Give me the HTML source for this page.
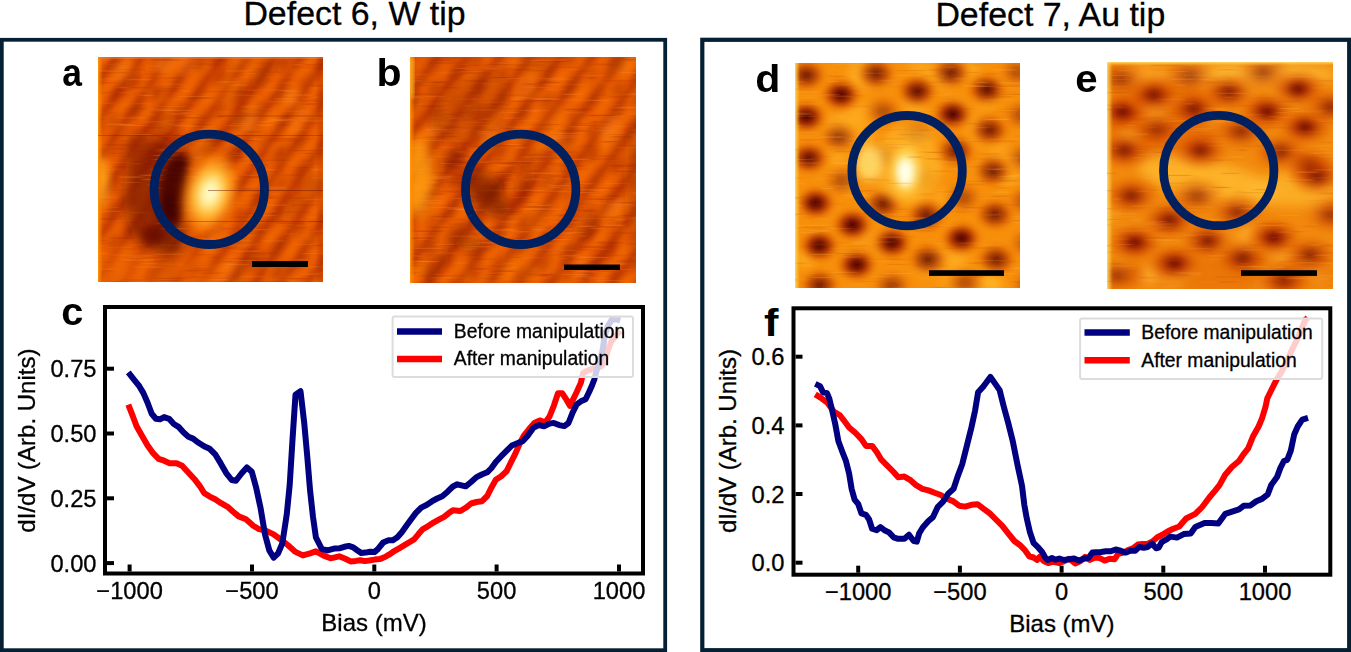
<!DOCTYPE html><html><head><meta charset="utf-8"><style>html,body{margin:0;padding:0;background:#fff;}body{width:1351px;height:652px;overflow:hidden;}svg text{font-family:"Liberation Sans",sans-serif;stroke:#000;stroke-width:0.3px;}svg text[font-weight]{stroke-width:0;}</style></head><body>
<svg width="1351" height="652" viewBox="0 0 1351 652" style="display:block">
<defs>
<filter id="bx" x="-10%" y="-10%" width="120%" height="120%"><feGaussianBlur stdDeviation="2.5 0.35"/></filter>
<filter id="b2" x="-20%" y="-20%" width="140%" height="140%"><feGaussianBlur stdDeviation="2"/></filter>
<filter id="b3" x="-30%" y="-30%" width="160%" height="160%"><feGaussianBlur stdDeviation="3"/></filter>
<filter id="b4" x="-30%" y="-30%" width="160%" height="160%"><feGaussianBlur stdDeviation="4"/></filter>
<filter id="b6" x="-30%" y="-30%" width="160%" height="160%"><feGaussianBlur stdDeviation="6"/></filter>
<filter id="b8" x="-30%" y="-30%" width="160%" height="160%"><feGaussianBlur stdDeviation="8"/></filter>
<radialGradient id="gDark"><stop offset="0" stop-color="#6e0800"/><stop offset="0.4" stop-color="#a82800" stop-opacity="0.9"/><stop offset="0.75" stop-color="#d85800" stop-opacity="0.45"/><stop offset="1" stop-color="#e87000" stop-opacity="0"/></radialGradient>
<radialGradient id="gDarkAB"><stop offset="0" stop-color="#8a1a00"/><stop offset="0.5" stop-color="#a82a00" stop-opacity="0.7"/><stop offset="1" stop-color="#c03a00" stop-opacity="0"/></radialGradient>
<radialGradient id="gLightAB"><stop offset="0" stop-color="#ff8a10"/><stop offset="0.5" stop-color="#f87008" stop-opacity="0.6"/><stop offset="1" stop-color="#f06000" stop-opacity="0"/></radialGradient>
<radialGradient id="gDark2"><stop offset="0" stop-color="#5a0800"/><stop offset="0.5" stop-color="#902000" stop-opacity="0.8"/><stop offset="1" stop-color="#c03800" stop-opacity="0"/></radialGradient>
<radialGradient id="gDarkD"><stop offset="0" stop-color="#440200"/><stop offset="0.25" stop-color="#700c00" stop-opacity="0.95"/><stop offset="0.5" stop-color="#b03000" stop-opacity="0.8"/><stop offset="0.75" stop-color="#e06000" stop-opacity="0.4"/><stop offset="1" stop-color="#f08000" stop-opacity="0"/></radialGradient>
<radialGradient id="gDarkE"><stop offset="0" stop-color="#6a0c00"/><stop offset="0.25" stop-color="#9a2000" stop-opacity="0.9"/><stop offset="0.55" stop-color="#cc4200" stop-opacity="0.6"/><stop offset="0.8" stop-color="#e06000" stop-opacity="0.3"/><stop offset="1" stop-color="#f07000" stop-opacity="0"/></radialGradient>
<radialGradient id="gBrightA"><stop offset="0" stop-color="#fffde0"/><stop offset="0.2" stop-color="#fff4a8"/><stop offset="0.45" stop-color="#ffc038"/><stop offset="0.72" stop-color="#ff8a10" stop-opacity="0.75"/><stop offset="1" stop-color="#f06000" stop-opacity="0"/></radialGradient>
<radialGradient id="gBrightD"><stop offset="0" stop-color="#fffff0"/><stop offset="0.3" stop-color="#fff4b0"/><stop offset="0.6" stop-color="#ffd850" stop-opacity="0.9"/><stop offset="1" stop-color="#ffb020" stop-opacity="0"/></radialGradient>
<linearGradient id="gLeftEdge" x1="0" x2="1" y1="0" y2="0"><stop offset="0" stop-color="#ff9a08" stop-opacity="0.95"/><stop offset="1" stop-color="#ff8000" stop-opacity="0"/></linearGradient>
<linearGradient id="gLeftEdgeY" x1="0" x2="1" y1="0" y2="0"><stop offset="0" stop-color="#ffe060" stop-opacity="0.95"/><stop offset="1" stop-color="#ffc040" stop-opacity="0"/></linearGradient>
<linearGradient id="gTopEdgeY" x1="0" x2="0" y1="0" y2="1"><stop offset="0" stop-color="#ffe070" stop-opacity="0.9"/><stop offset="1" stop-color="#ffc040" stop-opacity="0"/></linearGradient>
<linearGradient id="gStripe" x1="0" x2="1" y1="0" y2="0"><stop offset="0" stop-color="#ff8c14" stop-opacity="0.55"/><stop offset="0.22" stop-color="#f06008" stop-opacity="0.08"/><stop offset="0.5" stop-color="#801400" stop-opacity="0.7"/><stop offset="0.78" stop-color="#f06008" stop-opacity="0.08"/><stop offset="1" stop-color="#ff8c14" stop-opacity="0.55"/></linearGradient>
<pattern id="stripea" patternUnits="userSpaceOnUse" width="22" height="20" patternTransform="translate(4 0) rotate(34)"><rect width="22" height="20" fill="url(#gStripe)"/></pattern>
<pattern id="stripeb" patternUnits="userSpaceOnUse" width="25" height="20" patternTransform="translate(12 0) rotate(36)"><rect width="25" height="20" fill="url(#gStripe)"/></pattern>
</defs>
<text x="243.4" y="25" font-size="33.9" fill="#000">Defect 6, W tip</text>
<text x="935.4" y="25.6" font-size="33.9" fill="#000">Defect 7, Au tip</text>
<rect x="1.8" y="39.8" width="663.4" height="610.4" fill="none" stroke="#042032" stroke-width="3.8"/>
<rect x="702.3" y="39.8" width="646.9" height="610.4" fill="none" stroke="#042032" stroke-width="4.2"/>
<svg x="98" y="57" width="225" height="225" viewBox="0 0 225 225" overflow="hidden"><rect width="228" height="228" fill="#e85400"/><rect x="-12" y="-12" width="250" height="250" fill="url(#stripea)" filter="url(#b3)" opacity="1"/><g filter="url(#b3)"><ellipse cx="245.7" cy="53.0" rx="15.4" ry="7.6" fill="url(#gDarkAB)" opacity="0.45" transform="rotate(-52 245.7 53.0)"/><ellipse cx="256.2" cy="60.5" rx="8" ry="5" fill="url(#gLightAB)" opacity="0.32"/><ellipse cx="244.7" cy="84.2" rx="13.1" ry="9.0" fill="url(#gDarkAB)" opacity="0.48" transform="rotate(-52 244.7 84.2)"/><ellipse cx="255.2" cy="91.7" rx="8" ry="5" fill="url(#gLightAB)" opacity="0.59"/><ellipse cx="243.8" cy="141.1" rx="13.2" ry="7.8" fill="url(#gDarkAB)" opacity="0.41" transform="rotate(-52 243.8 141.1)"/><ellipse cx="254.3" cy="148.6" rx="8" ry="5" fill="url(#gLightAB)" opacity="0.30"/><ellipse cx="242.7" cy="172.9" rx="15.5" ry="8.3" fill="url(#gDarkAB)" opacity="0.38" transform="rotate(-52 242.7 172.9)"/><ellipse cx="253.2" cy="180.4" rx="8" ry="5" fill="url(#gLightAB)" opacity="0.46"/><ellipse cx="243.9" cy="203.6" rx="13.8" ry="9.0" fill="url(#gDarkAB)" opacity="0.38" transform="rotate(-52 243.9 203.6)"/><ellipse cx="254.4" cy="211.1" rx="8" ry="5" fill="url(#gLightAB)" opacity="0.60"/><ellipse cx="244.7" cy="233.8" rx="13.7" ry="7.9" fill="url(#gDarkAB)" opacity="0.33" transform="rotate(-52 244.7 233.8)"/><ellipse cx="255.2" cy="241.3" rx="8" ry="5" fill="url(#gLightAB)" opacity="0.23"/><ellipse cx="224.9" cy="4.8" rx="14.4" ry="9.0" fill="url(#gDarkAB)" opacity="0.56" transform="rotate(-52 224.9 4.8)"/><ellipse cx="235.4" cy="12.3" rx="8" ry="5" fill="url(#gLightAB)" opacity="0.36"/><ellipse cx="224.6" cy="36.5" rx="13.8" ry="7.6" fill="url(#gDarkAB)" opacity="0.51" transform="rotate(-52 224.6 36.5)"/><ellipse cx="235.1" cy="44.0" rx="8" ry="5" fill="url(#gLightAB)" opacity="0.33"/><ellipse cx="227.5" cy="67.0" rx="13.7" ry="7.7" fill="url(#gDarkAB)" opacity="0.25" transform="rotate(-52 227.5 67.0)"/><ellipse cx="238.0" cy="74.5" rx="8" ry="5" fill="url(#gLightAB)" opacity="0.22"/><ellipse cx="226.3" cy="94.7" rx="14.3" ry="7.8" fill="url(#gDarkAB)" opacity="0.42" transform="rotate(-52 226.3 94.7)"/><ellipse cx="236.8" cy="102.2" rx="8" ry="5" fill="url(#gLightAB)" opacity="0.49"/><ellipse cx="223.0" cy="126.6" rx="14.3" ry="7.8" fill="url(#gDarkAB)" opacity="0.25" transform="rotate(-52 223.0 126.6)"/><ellipse cx="233.5" cy="134.1" rx="8" ry="5" fill="url(#gLightAB)" opacity="0.31"/><ellipse cx="225.8" cy="157.2" rx="15.7" ry="7.8" fill="url(#gDarkAB)" opacity="0.32" transform="rotate(-52 225.8 157.2)"/><ellipse cx="236.3" cy="164.7" rx="8" ry="5" fill="url(#gLightAB)" opacity="0.36"/><ellipse cx="224.7" cy="186.6" rx="16.0" ry="7.8" fill="url(#gDarkAB)" opacity="0.24" transform="rotate(-52 224.7 186.6)"/><ellipse cx="235.2" cy="194.1" rx="8" ry="5" fill="url(#gLightAB)" opacity="0.30"/><ellipse cx="223.8" cy="215.3" rx="13.2" ry="7.6" fill="url(#gDarkAB)" opacity="0.32" transform="rotate(-52 223.8 215.3)"/><ellipse cx="234.3" cy="222.8" rx="8" ry="5" fill="url(#gLightAB)" opacity="0.43"/><ellipse cx="204.9" cy="-8.4" rx="15.5" ry="7.9" fill="url(#gDarkAB)" opacity="0.56" transform="rotate(-52 204.9 -8.4)"/><ellipse cx="215.4" cy="-0.9" rx="8" ry="5" fill="url(#gLightAB)" opacity="0.28"/><ellipse cx="206.5" cy="24.8" rx="15.9" ry="8.8" fill="url(#gDarkAB)" opacity="0.28" transform="rotate(-52 206.5 24.8)"/><ellipse cx="217.0" cy="32.3" rx="8" ry="5" fill="url(#gLightAB)" opacity="0.44"/><ellipse cx="204.6" cy="51.4" rx="15.9" ry="7.9" fill="url(#gDarkAB)" opacity="0.22" transform="rotate(-52 204.6 51.4)"/><ellipse cx="215.1" cy="58.9" rx="8" ry="5" fill="url(#gLightAB)" opacity="0.48"/><ellipse cx="203.4" cy="84.3" rx="13.9" ry="7.8" fill="url(#gDarkAB)" opacity="0.44" transform="rotate(-52 203.4 84.3)"/><ellipse cx="213.9" cy="91.8" rx="8" ry="5" fill="url(#gLightAB)" opacity="0.49"/><ellipse cx="202.0" cy="111.9" rx="15.6" ry="8.4" fill="url(#gDarkAB)" opacity="0.42" transform="rotate(-52 202.0 111.9)"/><ellipse cx="212.5" cy="119.4" rx="8" ry="5" fill="url(#gLightAB)" opacity="0.31"/><ellipse cx="204.8" cy="141.8" rx="13.8" ry="8.2" fill="url(#gDarkAB)" opacity="0.21" transform="rotate(-52 204.8 141.8)"/><ellipse cx="215.3" cy="149.3" rx="8" ry="5" fill="url(#gLightAB)" opacity="0.22"/><ellipse cx="201.2" cy="172.5" rx="13.4" ry="8.0" fill="url(#gDarkAB)" opacity="0.43" transform="rotate(-52 201.2 172.5)"/><ellipse cx="211.7" cy="180.0" rx="8" ry="5" fill="url(#gLightAB)" opacity="0.56"/><ellipse cx="203.9" cy="203.6" rx="14.8" ry="7.7" fill="url(#gDarkAB)" opacity="0.48" transform="rotate(-52 203.9 203.6)"/><ellipse cx="214.4" cy="211.1" rx="8" ry="5" fill="url(#gLightAB)" opacity="0.21"/><ellipse cx="199.4" cy="234.6" rx="15.9" ry="7.5" fill="url(#gDarkAB)" opacity="0.48" transform="rotate(-52 199.4 234.6)"/><ellipse cx="209.9" cy="242.1" rx="8" ry="5" fill="url(#gLightAB)" opacity="0.45"/><ellipse cx="185.8" cy="7.6" rx="15.1" ry="8.7" fill="url(#gDarkAB)" opacity="0.49" transform="rotate(-52 185.8 7.6)"/><ellipse cx="196.3" cy="15.1" rx="8" ry="5" fill="url(#gLightAB)" opacity="0.57"/><ellipse cx="183.7" cy="36.7" rx="15.6" ry="8.1" fill="url(#gDarkAB)" opacity="0.56" transform="rotate(-52 183.7 36.7)"/><ellipse cx="194.2" cy="44.2" rx="8" ry="5" fill="url(#gLightAB)" opacity="0.52"/><ellipse cx="185.1" cy="66.3" rx="14.1" ry="8.4" fill="url(#gDarkAB)" opacity="0.45" transform="rotate(-52 185.1 66.3)"/><ellipse cx="195.6" cy="73.8" rx="8" ry="5" fill="url(#gLightAB)" opacity="0.44"/><ellipse cx="181.4" cy="96.6" rx="15.6" ry="8.6" fill="url(#gDarkAB)" opacity="0.60" transform="rotate(-52 181.4 96.6)"/><ellipse cx="191.9" cy="104.1" rx="8" ry="5" fill="url(#gLightAB)" opacity="0.36"/><ellipse cx="183.4" cy="126.3" rx="15.5" ry="7.6" fill="url(#gDarkAB)" opacity="0.38" transform="rotate(-52 183.4 126.3)"/><ellipse cx="193.9" cy="133.8" rx="8" ry="5" fill="url(#gLightAB)" opacity="0.50"/><ellipse cx="180.0" cy="156.4" rx="13.7" ry="8.5" fill="url(#gDarkAB)" opacity="0.39" transform="rotate(-52 180.0 156.4)"/><ellipse cx="190.5" cy="163.9" rx="8" ry="5" fill="url(#gLightAB)" opacity="0.40"/><ellipse cx="181.7" cy="187.7" rx="13.0" ry="8.0" fill="url(#gDarkAB)" opacity="0.30" transform="rotate(-52 181.7 187.7)"/><ellipse cx="192.2" cy="195.2" rx="8" ry="5" fill="url(#gLightAB)" opacity="0.47"/><ellipse cx="179.5" cy="214.7" rx="15.0" ry="8.2" fill="url(#gDarkAB)" opacity="0.56" transform="rotate(-52 179.5 214.7)"/><ellipse cx="190.0" cy="222.2" rx="8" ry="5" fill="url(#gLightAB)" opacity="0.56"/><ellipse cx="164.5" cy="-7.7" rx="14.5" ry="8.8" fill="url(#gDarkAB)" opacity="0.25" transform="rotate(-52 164.5 -7.7)"/><ellipse cx="175.0" cy="-0.2" rx="8" ry="5" fill="url(#gLightAB)" opacity="0.54"/><ellipse cx="164.4" cy="24.8" rx="13.5" ry="8.2" fill="url(#gDarkAB)" opacity="0.31" transform="rotate(-52 164.4 24.8)"/><ellipse cx="174.9" cy="32.3" rx="8" ry="5" fill="url(#gLightAB)" opacity="0.31"/><ellipse cx="161.8" cy="52.7" rx="14.5" ry="8.0" fill="url(#gDarkAB)" opacity="0.45" transform="rotate(-52 161.8 52.7)"/><ellipse cx="172.3" cy="60.2" rx="8" ry="5" fill="url(#gLightAB)" opacity="0.54"/><ellipse cx="164.3" cy="82.8" rx="13.1" ry="8.8" fill="url(#gDarkAB)" opacity="0.23" transform="rotate(-52 164.3 82.8)"/><ellipse cx="174.8" cy="90.3" rx="8" ry="5" fill="url(#gLightAB)" opacity="0.22"/><ellipse cx="162.6" cy="113.3" rx="15.4" ry="7.5" fill="url(#gDarkAB)" opacity="0.32" transform="rotate(-52 162.6 113.3)"/><ellipse cx="173.1" cy="120.8" rx="8" ry="5" fill="url(#gLightAB)" opacity="0.25"/><ellipse cx="161.0" cy="141.1" rx="13.7" ry="7.7" fill="url(#gDarkAB)" opacity="0.53" transform="rotate(-52 161.0 141.1)"/><ellipse cx="171.5" cy="148.6" rx="8" ry="5" fill="url(#gLightAB)" opacity="0.22"/><ellipse cx="161.1" cy="172.8" rx="15.0" ry="8.7" fill="url(#gDarkAB)" opacity="0.45" transform="rotate(-52 161.1 172.8)"/><ellipse cx="171.6" cy="180.3" rx="8" ry="5" fill="url(#gLightAB)" opacity="0.58"/><ellipse cx="160.7" cy="201.8" rx="13.5" ry="7.5" fill="url(#gDarkAB)" opacity="0.39" transform="rotate(-52 160.7 201.8)"/><ellipse cx="171.2" cy="209.3" rx="8" ry="5" fill="url(#gLightAB)" opacity="0.39"/><ellipse cx="160.2" cy="231.7" rx="14.0" ry="8.5" fill="url(#gDarkAB)" opacity="0.31" transform="rotate(-52 160.2 231.7)"/><ellipse cx="170.7" cy="239.2" rx="8" ry="5" fill="url(#gLightAB)" opacity="0.41"/><ellipse cx="144.6" cy="6.9" rx="14.4" ry="8.4" fill="url(#gDarkAB)" opacity="0.25" transform="rotate(-52 144.6 6.9)"/><ellipse cx="155.1" cy="14.4" rx="8" ry="5" fill="url(#gLightAB)" opacity="0.56"/><ellipse cx="141.8" cy="36.3" rx="15.4" ry="8.9" fill="url(#gDarkAB)" opacity="0.55" transform="rotate(-52 141.8 36.3)"/><ellipse cx="152.3" cy="43.8" rx="8" ry="5" fill="url(#gLightAB)" opacity="0.39"/><ellipse cx="142.3" cy="64.8" rx="15.5" ry="8.5" fill="url(#gDarkAB)" opacity="0.49" transform="rotate(-52 142.3 64.8)"/><ellipse cx="152.8" cy="72.3" rx="8" ry="5" fill="url(#gLightAB)" opacity="0.49"/><ellipse cx="139.9" cy="97.6" rx="15.9" ry="8.3" fill="url(#gDarkAB)" opacity="0.59" transform="rotate(-52 139.9 97.6)"/><ellipse cx="150.4" cy="105.1" rx="8" ry="5" fill="url(#gLightAB)" opacity="0.52"/><ellipse cx="139.8" cy="127.6" rx="14.0" ry="7.6" fill="url(#gDarkAB)" opacity="0.54" transform="rotate(-52 139.8 127.6)"/><ellipse cx="150.3" cy="135.1" rx="8" ry="5" fill="url(#gLightAB)" opacity="0.38"/><ellipse cx="140.1" cy="157.1" rx="13.1" ry="8.7" fill="url(#gDarkAB)" opacity="0.39" transform="rotate(-52 140.1 157.1)"/><ellipse cx="150.6" cy="164.6" rx="8" ry="5" fill="url(#gLightAB)" opacity="0.23"/><ellipse cx="140.5" cy="184.7" rx="15.4" ry="7.7" fill="url(#gDarkAB)" opacity="0.33" transform="rotate(-52 140.5 184.7)"/><ellipse cx="151.0" cy="192.2" rx="8" ry="5" fill="url(#gLightAB)" opacity="0.26"/><ellipse cx="138.7" cy="216.9" rx="15.1" ry="8.9" fill="url(#gDarkAB)" opacity="0.54" transform="rotate(-52 138.7 216.9)"/><ellipse cx="149.2" cy="224.4" rx="8" ry="5" fill="url(#gLightAB)" opacity="0.40"/><ellipse cx="139.9" cy="244.3" rx="14.6" ry="7.9" fill="url(#gDarkAB)" opacity="0.29" transform="rotate(-52 139.9 244.3)"/><ellipse cx="150.4" cy="251.8" rx="8" ry="5" fill="url(#gLightAB)" opacity="0.49"/><ellipse cx="123.5" cy="-5.4" rx="15.6" ry="9.0" fill="url(#gDarkAB)" opacity="0.28" transform="rotate(-52 123.5 -5.4)"/><ellipse cx="134.0" cy="2.1" rx="8" ry="5" fill="url(#gLightAB)" opacity="0.41"/><ellipse cx="121.8" cy="21.8" rx="14.5" ry="8.4" fill="url(#gDarkAB)" opacity="0.41" transform="rotate(-52 121.8 21.8)"/><ellipse cx="132.3" cy="29.3" rx="8" ry="5" fill="url(#gLightAB)" opacity="0.21"/><ellipse cx="122.8" cy="53.1" rx="15.4" ry="8.3" fill="url(#gDarkAB)" opacity="0.36" transform="rotate(-52 122.8 53.1)"/><ellipse cx="133.3" cy="60.6" rx="8" ry="5" fill="url(#gLightAB)" opacity="0.40"/><ellipse cx="121.1" cy="81.3" rx="14.2" ry="8.9" fill="url(#gDarkAB)" opacity="0.42" transform="rotate(-52 121.1 81.3)"/><ellipse cx="131.6" cy="88.8" rx="8" ry="5" fill="url(#gLightAB)" opacity="0.57"/><ellipse cx="118.8" cy="112.9" rx="14.3" ry="8.7" fill="url(#gDarkAB)" opacity="0.25" transform="rotate(-52 118.8 112.9)"/><ellipse cx="129.3" cy="120.4" rx="8" ry="5" fill="url(#gLightAB)" opacity="0.56"/><ellipse cx="119.0" cy="142.3" rx="14.9" ry="8.9" fill="url(#gDarkAB)" opacity="0.28" transform="rotate(-52 119.0 142.3)"/><ellipse cx="129.5" cy="149.8" rx="8" ry="5" fill="url(#gLightAB)" opacity="0.25"/><ellipse cx="119.7" cy="171.1" rx="13.7" ry="8.5" fill="url(#gDarkAB)" opacity="0.28" transform="rotate(-52 119.7 171.1)"/><ellipse cx="130.2" cy="178.6" rx="8" ry="5" fill="url(#gLightAB)" opacity="0.33"/><ellipse cx="117.4" cy="203.5" rx="15.2" ry="7.7" fill="url(#gDarkAB)" opacity="0.24" transform="rotate(-52 117.4 203.5)"/><ellipse cx="127.9" cy="211.0" rx="8" ry="5" fill="url(#gLightAB)" opacity="0.40"/><ellipse cx="116.3" cy="231.8" rx="14.3" ry="8.1" fill="url(#gDarkAB)" opacity="0.41" transform="rotate(-52 116.3 231.8)"/><ellipse cx="126.8" cy="239.3" rx="8" ry="5" fill="url(#gLightAB)" opacity="0.37"/><ellipse cx="102.3" cy="6.4" rx="13.7" ry="8.6" fill="url(#gDarkAB)" opacity="0.54" transform="rotate(-52 102.3 6.4)"/><ellipse cx="112.8" cy="13.9" rx="8" ry="5" fill="url(#gLightAB)" opacity="0.52"/><ellipse cx="101.9" cy="35.3" rx="15.8" ry="7.8" fill="url(#gDarkAB)" opacity="0.33" transform="rotate(-52 101.9 35.3)"/><ellipse cx="112.4" cy="42.8" rx="8" ry="5" fill="url(#gLightAB)" opacity="0.60"/><ellipse cx="101.2" cy="64.5" rx="15.2" ry="7.9" fill="url(#gDarkAB)" opacity="0.30" transform="rotate(-52 101.2 64.5)"/><ellipse cx="111.7" cy="72.0" rx="8" ry="5" fill="url(#gLightAB)" opacity="0.24"/><ellipse cx="100.4" cy="95.7" rx="13.4" ry="8.1" fill="url(#gDarkAB)" opacity="0.52" transform="rotate(-52 100.4 95.7)"/><ellipse cx="110.9" cy="103.2" rx="8" ry="5" fill="url(#gLightAB)" opacity="0.47"/><ellipse cx="96.6" cy="124.8" rx="15.7" ry="9.0" fill="url(#gDarkAB)" opacity="0.47" transform="rotate(-52 96.6 124.8)"/><ellipse cx="107.1" cy="132.3" rx="8" ry="5" fill="url(#gLightAB)" opacity="0.25"/><ellipse cx="97.9" cy="157.0" rx="15.1" ry="7.8" fill="url(#gDarkAB)" opacity="0.40" transform="rotate(-52 97.9 157.0)"/><ellipse cx="108.4" cy="164.5" rx="8" ry="5" fill="url(#gLightAB)" opacity="0.23"/><ellipse cx="95.7" cy="184.1" rx="14.5" ry="8.4" fill="url(#gDarkAB)" opacity="0.42" transform="rotate(-52 95.7 184.1)"/><ellipse cx="106.2" cy="191.6" rx="8" ry="5" fill="url(#gLightAB)" opacity="0.26"/><ellipse cx="95.4" cy="214.8" rx="16.0" ry="8.9" fill="url(#gDarkAB)" opacity="0.54" transform="rotate(-52 95.4 214.8)"/><ellipse cx="105.9" cy="222.3" rx="8" ry="5" fill="url(#gLightAB)" opacity="0.24"/><ellipse cx="80.5" cy="-8.9" rx="15.5" ry="7.8" fill="url(#gDarkAB)" opacity="0.48" transform="rotate(-52 80.5 -8.9)"/><ellipse cx="91.0" cy="-1.4" rx="8" ry="5" fill="url(#gLightAB)" opacity="0.38"/><ellipse cx="80.5" cy="22.6" rx="13.5" ry="8.3" fill="url(#gDarkAB)" opacity="0.28" transform="rotate(-52 80.5 22.6)"/><ellipse cx="91.0" cy="30.1" rx="8" ry="5" fill="url(#gLightAB)" opacity="0.21"/><ellipse cx="80.5" cy="54.2" rx="15.6" ry="8.4" fill="url(#gDarkAB)" opacity="0.48" transform="rotate(-52 80.5 54.2)"/><ellipse cx="91.0" cy="61.7" rx="8" ry="5" fill="url(#gLightAB)" opacity="0.36"/><ellipse cx="78.7" cy="83.0" rx="15.4" ry="7.9" fill="url(#gDarkAB)" opacity="0.59" transform="rotate(-52 78.7 83.0)"/><ellipse cx="89.2" cy="90.5" rx="8" ry="5" fill="url(#gLightAB)" opacity="0.56"/><ellipse cx="78.7" cy="114.1" rx="14.2" ry="8.8" fill="url(#gDarkAB)" opacity="0.53" transform="rotate(-52 78.7 114.1)"/><ellipse cx="89.2" cy="121.6" rx="8" ry="5" fill="url(#gLightAB)" opacity="0.55"/><ellipse cx="77.9" cy="144.1" rx="14.2" ry="8.6" fill="url(#gDarkAB)" opacity="0.51" transform="rotate(-52 77.9 144.1)"/><ellipse cx="88.4" cy="151.6" rx="8" ry="5" fill="url(#gLightAB)" opacity="0.23"/><ellipse cx="75.9" cy="172.9" rx="14.1" ry="8.5" fill="url(#gDarkAB)" opacity="0.20" transform="rotate(-52 75.9 172.9)"/><ellipse cx="86.4" cy="180.4" rx="8" ry="5" fill="url(#gLightAB)" opacity="0.45"/><ellipse cx="74.9" cy="204.8" rx="14.0" ry="8.5" fill="url(#gDarkAB)" opacity="0.47" transform="rotate(-52 74.9 204.8)"/><ellipse cx="85.4" cy="212.3" rx="8" ry="5" fill="url(#gLightAB)" opacity="0.43"/><ellipse cx="75.5" cy="232.6" rx="14.9" ry="8.6" fill="url(#gDarkAB)" opacity="0.60" transform="rotate(-52 75.5 232.6)"/><ellipse cx="86.0" cy="240.1" rx="8" ry="5" fill="url(#gLightAB)" opacity="0.50"/><ellipse cx="57.1" cy="4.8" rx="13.3" ry="7.9" fill="url(#gDarkAB)" opacity="0.35" transform="rotate(-52 57.1 4.8)"/><ellipse cx="67.6" cy="12.3" rx="8" ry="5" fill="url(#gLightAB)" opacity="0.56"/><ellipse cx="58.5" cy="36.0" rx="14.7" ry="9.0" fill="url(#gDarkAB)" opacity="0.59" transform="rotate(-52 58.5 36.0)"/><ellipse cx="69.0" cy="43.5" rx="8" ry="5" fill="url(#gLightAB)" opacity="0.46"/><ellipse cx="58.9" cy="64.3" rx="15.3" ry="7.6" fill="url(#gDarkAB)" opacity="0.44" transform="rotate(-52 58.9 64.3)"/><ellipse cx="69.4" cy="71.8" rx="8" ry="5" fill="url(#gLightAB)" opacity="0.57"/><ellipse cx="55.7" cy="95.9" rx="14.5" ry="8.4" fill="url(#gDarkAB)" opacity="0.27" transform="rotate(-52 55.7 95.9)"/><ellipse cx="66.2" cy="103.4" rx="8" ry="5" fill="url(#gLightAB)" opacity="0.22"/><ellipse cx="58.3" cy="125.7" rx="14.8" ry="8.0" fill="url(#gDarkAB)" opacity="0.41" transform="rotate(-52 58.3 125.7)"/><ellipse cx="68.8" cy="133.2" rx="8" ry="5" fill="url(#gLightAB)" opacity="0.31"/><ellipse cx="56.5" cy="156.2" rx="15.1" ry="7.9" fill="url(#gDarkAB)" opacity="0.31" transform="rotate(-52 56.5 156.2)"/><ellipse cx="67.0" cy="163.7" rx="8" ry="5" fill="url(#gLightAB)" opacity="0.21"/><ellipse cx="54.3" cy="184.2" rx="15.3" ry="8.1" fill="url(#gDarkAB)" opacity="0.26" transform="rotate(-52 54.3 184.2)"/><ellipse cx="64.8" cy="191.7" rx="8" ry="5" fill="url(#gLightAB)" opacity="0.56"/><ellipse cx="55.7" cy="214.2" rx="15.8" ry="7.6" fill="url(#gDarkAB)" opacity="0.60" transform="rotate(-52 55.7 214.2)"/><ellipse cx="66.2" cy="221.7" rx="8" ry="5" fill="url(#gLightAB)" opacity="0.56"/><ellipse cx="53.8" cy="245.9" rx="13.7" ry="8.3" fill="url(#gDarkAB)" opacity="0.59" transform="rotate(-52 53.8 245.9)"/><ellipse cx="64.3" cy="253.4" rx="8" ry="5" fill="url(#gLightAB)" opacity="0.57"/><ellipse cx="38.6" cy="-7.2" rx="13.2" ry="8.3" fill="url(#gDarkAB)" opacity="0.28" transform="rotate(-52 38.6 -7.2)"/><ellipse cx="49.1" cy="0.3" rx="8" ry="5" fill="url(#gLightAB)" opacity="0.25"/><ellipse cx="37.3" cy="23.7" rx="13.8" ry="8.4" fill="url(#gDarkAB)" opacity="0.38" transform="rotate(-52 37.3 23.7)"/><ellipse cx="47.8" cy="31.2" rx="8" ry="5" fill="url(#gLightAB)" opacity="0.37"/><ellipse cx="38.1" cy="53.1" rx="15.9" ry="8.6" fill="url(#gDarkAB)" opacity="0.60" transform="rotate(-52 38.1 53.1)"/><ellipse cx="48.6" cy="60.6" rx="8" ry="5" fill="url(#gLightAB)" opacity="0.30"/><ellipse cx="34.8" cy="84.6" rx="14.9" ry="8.0" fill="url(#gDarkAB)" opacity="0.51" transform="rotate(-52 34.8 84.6)"/><ellipse cx="45.3" cy="92.1" rx="8" ry="5" fill="url(#gLightAB)" opacity="0.31"/><ellipse cx="36.5" cy="113.3" rx="14.9" ry="8.6" fill="url(#gDarkAB)" opacity="0.44" transform="rotate(-52 36.5 113.3)"/><ellipse cx="47.0" cy="120.8" rx="8" ry="5" fill="url(#gLightAB)" opacity="0.28"/><ellipse cx="34.1" cy="144.9" rx="15.6" ry="7.6" fill="url(#gDarkAB)" opacity="0.57" transform="rotate(-52 34.1 144.9)"/><ellipse cx="44.6" cy="152.4" rx="8" ry="5" fill="url(#gLightAB)" opacity="0.22"/><ellipse cx="33.6" cy="172.7" rx="13.3" ry="8.3" fill="url(#gDarkAB)" opacity="0.45" transform="rotate(-52 33.6 172.7)"/><ellipse cx="44.1" cy="180.2" rx="8" ry="5" fill="url(#gLightAB)" opacity="0.23"/><ellipse cx="32.3" cy="203.7" rx="14.9" ry="8.1" fill="url(#gDarkAB)" opacity="0.42" transform="rotate(-52 32.3 203.7)"/><ellipse cx="42.8" cy="211.2" rx="8" ry="5" fill="url(#gLightAB)" opacity="0.39"/><ellipse cx="32.2" cy="232.4" rx="15.5" ry="7.6" fill="url(#gDarkAB)" opacity="0.50" transform="rotate(-52 32.2 232.4)"/><ellipse cx="42.7" cy="239.9" rx="8" ry="5" fill="url(#gLightAB)" opacity="0.25"/><ellipse cx="18.1" cy="5.5" rx="16.0" ry="8.0" fill="url(#gDarkAB)" opacity="0.46" transform="rotate(-52 18.1 5.5)"/><ellipse cx="28.6" cy="13.0" rx="8" ry="5" fill="url(#gLightAB)" opacity="0.42"/><ellipse cx="17.3" cy="37.7" rx="14.1" ry="7.6" fill="url(#gDarkAB)" opacity="0.37" transform="rotate(-52 17.3 37.7)"/><ellipse cx="27.8" cy="45.2" rx="8" ry="5" fill="url(#gLightAB)" opacity="0.55"/><ellipse cx="14.0" cy="64.3" rx="14.5" ry="8.5" fill="url(#gDarkAB)" opacity="0.43" transform="rotate(-52 14.0 64.3)"/><ellipse cx="24.5" cy="71.8" rx="8" ry="5" fill="url(#gLightAB)" opacity="0.32"/><ellipse cx="16.2" cy="94.3" rx="15.0" ry="7.6" fill="url(#gDarkAB)" opacity="0.29" transform="rotate(-52 16.2 94.3)"/><ellipse cx="26.7" cy="101.8" rx="8" ry="5" fill="url(#gLightAB)" opacity="0.32"/><ellipse cx="15.4" cy="126.8" rx="13.4" ry="8.0" fill="url(#gDarkAB)" opacity="0.31" transform="rotate(-52 15.4 126.8)"/><ellipse cx="25.9" cy="134.3" rx="8" ry="5" fill="url(#gLightAB)" opacity="0.49"/><ellipse cx="13.3" cy="154.5" rx="14.7" ry="8.9" fill="url(#gDarkAB)" opacity="0.48" transform="rotate(-52 13.3 154.5)"/><ellipse cx="23.8" cy="162.0" rx="8" ry="5" fill="url(#gLightAB)" opacity="0.58"/><ellipse cx="14.9" cy="185.8" rx="13.9" ry="8.0" fill="url(#gDarkAB)" opacity="0.52" transform="rotate(-52 14.9 185.8)"/><ellipse cx="25.4" cy="193.3" rx="8" ry="5" fill="url(#gLightAB)" opacity="0.36"/><ellipse cx="14.4" cy="217.6" rx="14.1" ry="8.0" fill="url(#gDarkAB)" opacity="0.30" transform="rotate(-52 14.4 217.6)"/><ellipse cx="24.9" cy="225.1" rx="8" ry="5" fill="url(#gLightAB)" opacity="0.35"/><ellipse cx="11.7" cy="245.6" rx="14.7" ry="8.7" fill="url(#gDarkAB)" opacity="0.28" transform="rotate(-52 11.7 245.6)"/><ellipse cx="22.2" cy="253.1" rx="8" ry="5" fill="url(#gLightAB)" opacity="0.42"/><ellipse cx="-5.8" cy="-6.9" rx="14.7" ry="8.9" fill="url(#gDarkAB)" opacity="0.42" transform="rotate(-52 -5.8 -6.9)"/><ellipse cx="4.7" cy="0.6" rx="8" ry="5" fill="url(#gLightAB)" opacity="0.46"/><ellipse cx="-3.2" cy="21.3" rx="15.4" ry="7.6" fill="url(#gDarkAB)" opacity="0.42" transform="rotate(-52 -3.2 21.3)"/><ellipse cx="7.3" cy="28.8" rx="8" ry="5" fill="url(#gLightAB)" opacity="0.23"/><ellipse cx="-4.1" cy="54.6" rx="14.9" ry="7.7" fill="url(#gDarkAB)" opacity="0.23" transform="rotate(-52 -4.1 54.6)"/><ellipse cx="6.4" cy="62.1" rx="8" ry="5" fill="url(#gLightAB)" opacity="0.50"/><ellipse cx="-5.1" cy="82.0" rx="15.3" ry="8.3" fill="url(#gDarkAB)" opacity="0.29" transform="rotate(-52 -5.1 82.0)"/><ellipse cx="5.4" cy="89.5" rx="8" ry="5" fill="url(#gLightAB)" opacity="0.51"/><ellipse cx="-6.7" cy="112.4" rx="15.0" ry="8.2" fill="url(#gDarkAB)" opacity="0.59" transform="rotate(-52 -6.7 112.4)"/><ellipse cx="3.8" cy="119.9" rx="8" ry="5" fill="url(#gLightAB)" opacity="0.41"/><ellipse cx="-6.0" cy="143.8" rx="14.2" ry="8.7" fill="url(#gDarkAB)" opacity="0.57" transform="rotate(-52 -6.0 143.8)"/><ellipse cx="4.5" cy="151.3" rx="8" ry="5" fill="url(#gLightAB)" opacity="0.47"/><ellipse cx="-6.0" cy="174.2" rx="15.7" ry="8.9" fill="url(#gDarkAB)" opacity="0.53" transform="rotate(-52 -6.0 174.2)"/><ellipse cx="4.5" cy="181.7" rx="8" ry="5" fill="url(#gLightAB)" opacity="0.46"/><ellipse cx="-8.0" cy="203.8" rx="14.3" ry="8.1" fill="url(#gDarkAB)" opacity="0.52" transform="rotate(-52 -8.0 203.8)"/><ellipse cx="2.5" cy="211.3" rx="8" ry="5" fill="url(#gLightAB)" opacity="0.26"/><ellipse cx="-7.7" cy="235.0" rx="13.5" ry="7.8" fill="url(#gDarkAB)" opacity="0.35" transform="rotate(-52 -7.7 235.0)"/><ellipse cx="2.8" cy="242.5" rx="8" ry="5" fill="url(#gLightAB)" opacity="0.37"/></g><g filter="url(#b4)"><ellipse cx="28.7" cy="28.6" rx="18.7" ry="8.1" fill="#8a1800" opacity="0.21" transform="rotate(-52 28.7 28.6)"/><ellipse cx="146.7" cy="234.3" rx="11.5" ry="9.1" fill="#8a1800" opacity="0.28" transform="rotate(-52 146.7 234.3)"/><ellipse cx="-9.7" cy="192.1" rx="10.8" ry="7.1" fill="#ff8a14" opacity="0.40" transform="rotate(-52 -9.7 192.1)"/><ellipse cx="166.3" cy="13.9" rx="19.6" ry="8.3" fill="#8a1800" opacity="0.27" transform="rotate(-52 166.3 13.9)"/><ellipse cx="200.9" cy="64.7" rx="19.2" ry="6.4" fill="#ff8a14" opacity="0.28" transform="rotate(-52 200.9 64.7)"/><ellipse cx="193.3" cy="41.3" rx="11.6" ry="9.3" fill="#ff8a14" opacity="0.31" transform="rotate(-52 193.3 41.3)"/><ellipse cx="66.6" cy="66.4" rx="14.7" ry="8.9" fill="#8a1800" opacity="0.23" transform="rotate(-52 66.6 66.4)"/><ellipse cx="78.5" cy="159.0" rx="14.6" ry="9.9" fill="#8a1800" opacity="0.25" transform="rotate(-52 78.5 159.0)"/><ellipse cx="194.1" cy="150.9" rx="17.1" ry="6.9" fill="#8a1800" opacity="0.24" transform="rotate(-52 194.1 150.9)"/><ellipse cx="128.8" cy="102.7" rx="18.0" ry="6.8" fill="#8a1800" opacity="0.40" transform="rotate(-52 128.8 102.7)"/><ellipse cx="141.6" cy="61.4" rx="13.0" ry="7.3" fill="#8a1800" opacity="0.28" transform="rotate(-52 141.6 61.4)"/><ellipse cx="86.5" cy="154.0" rx="17.3" ry="7.3" fill="#8a1800" opacity="0.20" transform="rotate(-52 86.5 154.0)"/><ellipse cx="222.5" cy="128.5" rx="18.3" ry="6.4" fill="#ff8a14" opacity="0.25" transform="rotate(-52 222.5 128.5)"/><ellipse cx="24.6" cy="13.2" rx="11.8" ry="7.6" fill="#ff8a14" opacity="0.36" transform="rotate(-52 24.6 13.2)"/><ellipse cx="195.9" cy="135.8" rx="11.6" ry="6.5" fill="#8a1800" opacity="0.21" transform="rotate(-52 195.9 135.8)"/><ellipse cx="90.1" cy="7.9" rx="15.1" ry="8.6" fill="#ff8a14" opacity="0.28" transform="rotate(-52 90.1 7.9)"/><ellipse cx="178.6" cy="192.0" rx="14.1" ry="6.1" fill="#8a1800" opacity="0.23" transform="rotate(-52 178.6 192.0)"/><ellipse cx="88.6" cy="162.2" rx="16.6" ry="8.4" fill="#ff8a14" opacity="0.39" transform="rotate(-52 88.6 162.2)"/><ellipse cx="-5.4" cy="71.4" rx="11.1" ry="7.5" fill="#8a1800" opacity="0.31" transform="rotate(-52 -5.4 71.4)"/><ellipse cx="115.3" cy="184.0" rx="11.6" ry="9.1" fill="#ff8a14" opacity="0.33" transform="rotate(-52 115.3 184.0)"/><ellipse cx="212.1" cy="124.9" rx="11.4" ry="8.9" fill="#8a1800" opacity="0.28" transform="rotate(-52 212.1 124.9)"/><ellipse cx="232.7" cy="116.9" rx="12.0" ry="9.8" fill="#ff8a14" opacity="0.40" transform="rotate(-52 232.7 116.9)"/><ellipse cx="144.3" cy="38.7" rx="15.8" ry="8.8" fill="#8a1800" opacity="0.21" transform="rotate(-52 144.3 38.7)"/><ellipse cx="71.0" cy="218.5" rx="11.2" ry="9.9" fill="#8a1800" opacity="0.27" transform="rotate(-52 71.0 218.5)"/><ellipse cx="23.4" cy="212.4" rx="15.6" ry="7.1" fill="#ff8a14" opacity="0.32" transform="rotate(-52 23.4 212.4)"/><ellipse cx="213.7" cy="234.1" rx="11.2" ry="9.3" fill="#ff8a14" opacity="0.33" transform="rotate(-52 213.7 234.1)"/><ellipse cx="61.0" cy="210.7" rx="18.3" ry="6.7" fill="#8a1800" opacity="0.29" transform="rotate(-52 61.0 210.7)"/><ellipse cx="124.8" cy="8.8" rx="19.9" ry="9.8" fill="#8a1800" opacity="0.20" transform="rotate(-52 124.8 8.8)"/><ellipse cx="152.0" cy="65.7" rx="13.8" ry="8.4" fill="#ff8a14" opacity="0.37" transform="rotate(-52 152.0 65.7)"/><ellipse cx="187.7" cy="-6.0" rx="11.4" ry="7.5" fill="#8a1800" opacity="0.27" transform="rotate(-52 187.7 -6.0)"/><ellipse cx="130.1" cy="32.7" rx="15.7" ry="7.3" fill="#ff8a14" opacity="0.23" transform="rotate(-52 130.1 32.7)"/><ellipse cx="147.9" cy="-0.7" rx="19.6" ry="8.4" fill="#ff8a14" opacity="0.19" transform="rotate(-52 147.9 -0.7)"/><ellipse cx="105.6" cy="91.2" rx="17.6" ry="9.0" fill="#ff8a14" opacity="0.36" transform="rotate(-52 105.6 91.2)"/><ellipse cx="109.5" cy="234.7" rx="14.1" ry="7.7" fill="#ff8a14" opacity="0.41" transform="rotate(-52 109.5 234.7)"/><ellipse cx="129.2" cy="212.7" rx="14.3" ry="9.6" fill="#ff8a14" opacity="0.31" transform="rotate(-52 129.2 212.7)"/><ellipse cx="68.9" cy="3.5" rx="17.3" ry="8.4" fill="#ff8a14" opacity="0.42" transform="rotate(-52 68.9 3.5)"/><ellipse cx="175.0" cy="65.0" rx="11.2" ry="7.8" fill="#ff8a14" opacity="0.17" transform="rotate(-52 175.0 65.0)"/><ellipse cx="113.6" cy="87.6" rx="15.3" ry="7.0" fill="#8a1800" opacity="0.32" transform="rotate(-52 113.6 87.6)"/><ellipse cx="65.3" cy="87.3" rx="19.1" ry="9.9" fill="#8a1800" opacity="0.17" transform="rotate(-52 65.3 87.3)"/><ellipse cx="153.8" cy="203.2" rx="12.2" ry="9.0" fill="#8a1800" opacity="0.35" transform="rotate(-52 153.8 203.2)"/></g><g filter="url(#b8)"><ellipse cx="58" cy="138" rx="32" ry="58" fill="#701200" opacity="0.65"/><ellipse cx="40" cy="92" rx="16" ry="20" fill="#801800" opacity="0.35"/></g><ellipse cx="50" cy="218" rx="75" ry="30" fill="#ec6204" opacity="0.55" filter="url(#b8)"/><ellipse cx="68" cy="184" rx="20" ry="13" fill="#5a0800" opacity="0.55" filter="url(#b6)" transform="rotate(25 68 184)"/><g filter="url(#bx)"><rect x="161.7" y="140.2" width="25.1" height="1.4" fill="#a02800" opacity="0.30"/><rect x="94.1" y="6.5" width="28.6" height="1.5" fill="#a02800" opacity="0.15"/><rect x="40.4" y="105.5" width="19.1" height="0.8" fill="#a02800" opacity="0.17"/><rect x="204.5" y="62.9" width="24.4" height="1.4" fill="#ff9030" opacity="0.16"/><rect x="11.0" y="138.9" width="6.0" height="1.0" fill="#a02800" opacity="0.17"/><rect x="193.7" y="221.0" width="12.9" height="1.2" fill="#a02800" opacity="0.25"/><rect x="210.5" y="46.1" width="22.6" height="1.5" fill="#a02800" opacity="0.18"/><rect x="20.7" y="81.3" width="9.5" height="1.0" fill="#ff9030" opacity="0.24"/><rect x="146.1" y="0.8" width="14.1" height="1.5" fill="#ff9030" opacity="0.22"/><rect x="97.9" y="71.1" width="22.9" height="1.6" fill="#ff9030" opacity="0.13"/><rect x="187.0" y="168.7" width="6.4" height="1.1" fill="#a02800" opacity="0.24"/><rect x="-8.6" y="2.0" width="10.3" height="1.0" fill="#a02800" opacity="0.27"/><rect x="210.8" y="209.2" width="14.3" height="1.2" fill="#ff9030" opacity="0.27"/><rect x="163.4" y="24.3" width="25.1" height="0.8" fill="#a02800" opacity="0.30"/><rect x="63.5" y="20.5" width="20.7" height="1.1" fill="#a02800" opacity="0.30"/><rect x="56.6" y="122.7" width="13.6" height="0.9" fill="#ff9030" opacity="0.16"/><rect x="224.2" y="155.1" width="9.9" height="1.6" fill="#ff9030" opacity="0.23"/><rect x="38.1" y="91.3" width="20.3" height="1.2" fill="#a02800" opacity="0.21"/><rect x="204.4" y="12.5" width="6.8" height="1.5" fill="#ff9030" opacity="0.15"/><rect x="212.7" y="164.6" width="21.1" height="0.9" fill="#a02800" opacity="0.21"/><rect x="187.0" y="33.6" width="13.1" height="1.6" fill="#ff9030" opacity="0.29"/><rect x="91.1" y="219.6" width="17.7" height="1.2" fill="#a02800" opacity="0.18"/><rect x="15.9" y="90.9" width="15.0" height="1.6" fill="#a02800" opacity="0.24"/><rect x="62.9" y="112.3" width="8.1" height="1.4" fill="#ff9030" opacity="0.29"/><rect x="172.6" y="81.3" width="24.6" height="1.3" fill="#a02800" opacity="0.27"/><rect x="152.6" y="81.8" width="12.7" height="1.4" fill="#ff9030" opacity="0.26"/><rect x="211.7" y="66.1" width="21.6" height="0.8" fill="#a02800" opacity="0.23"/><rect x="144.6" y="56.4" width="17.1" height="1.3" fill="#a02800" opacity="0.28"/><rect x="137.8" y="78.3" width="23.7" height="1.1" fill="#a02800" opacity="0.28"/><rect x="148.6" y="195.7" width="29.4" height="1.2" fill="#a02800" opacity="0.23"/><rect x="185.0" y="37.4" width="28.5" height="1.4" fill="#ff9030" opacity="0.26"/><rect x="22.1" y="164.3" width="24.7" height="1.3" fill="#a02800" opacity="0.21"/><rect x="169.8" y="140.3" width="21.3" height="0.8" fill="#a02800" opacity="0.16"/><rect x="139.3" y="99.2" width="11.3" height="1.3" fill="#a02800" opacity="0.14"/><rect x="35.4" y="106.1" width="7.3" height="1.1" fill="#ff9030" opacity="0.16"/><rect x="-11.3" y="43.5" width="17.2" height="1.3" fill="#ff9030" opacity="0.24"/><rect x="201.3" y="53.5" width="6.0" height="1.0" fill="#ff9030" opacity="0.20"/><rect x="183.7" y="25.9" width="15.0" height="1.3" fill="#ff9030" opacity="0.15"/><rect x="63.1" y="122.7" width="19.9" height="1.5" fill="#a02800" opacity="0.21"/><rect x="137.4" y="182.9" width="14.9" height="1.3" fill="#ff9030" opacity="0.23"/><rect x="217.2" y="215.4" width="20.6" height="1.5" fill="#ff9030" opacity="0.13"/><rect x="118.6" y="24.3" width="20.8" height="1.3" fill="#ff9030" opacity="0.29"/><rect x="85.8" y="84.6" width="11.4" height="1.6" fill="#ff9030" opacity="0.20"/><rect x="203.9" y="216.3" width="20.3" height="1.6" fill="#ff9030" opacity="0.22"/><rect x="58.2" y="93.5" width="29.6" height="1.0" fill="#ff9030" opacity="0.22"/><rect x="132.3" y="27.4" width="16.6" height="1.4" fill="#ff9030" opacity="0.28"/><rect x="110.5" y="3.0" width="12.6" height="1.4" fill="#a02800" opacity="0.17"/><rect x="17.9" y="60.2" width="29.7" height="1.3" fill="#ff9030" opacity="0.22"/><rect x="127.9" y="145.1" width="23.8" height="1.4" fill="#ff9030" opacity="0.18"/><rect x="62.3" y="120.0" width="13.1" height="1.2" fill="#ff9030" opacity="0.20"/><rect x="124.7" y="167.6" width="6.9" height="1.2" fill="#ff9030" opacity="0.30"/><rect x="113.7" y="199.8" width="6.3" height="1.1" fill="#a02800" opacity="0.23"/><rect x="134.9" y="159.3" width="17.6" height="1.1" fill="#a02800" opacity="0.20"/><rect x="28.1" y="191.7" width="13.1" height="0.9" fill="#a02800" opacity="0.28"/><rect x="86.0" y="156.3" width="12.9" height="1.5" fill="#a02800" opacity="0.16"/><rect x="114.5" y="107.6" width="17.9" height="0.9" fill="#ff9030" opacity="0.24"/><rect x="-3.2" y="182.7" width="11.5" height="1.4" fill="#a02800" opacity="0.25"/><rect x="157.0" y="5.7" width="29.5" height="1.4" fill="#a02800" opacity="0.14"/><rect x="33.7" y="189.5" width="21.5" height="1.4" fill="#a02800" opacity="0.15"/><rect x="204.9" y="65.8" width="9.6" height="1.1" fill="#a02800" opacity="0.16"/><rect x="-9.3" y="140.0" width="8.6" height="0.9" fill="#ff9030" opacity="0.14"/><rect x="161.9" y="129.4" width="27.1" height="1.1" fill="#ff9030" opacity="0.19"/><rect x="99.9" y="135.0" width="28.5" height="0.8" fill="#ff9030" opacity="0.26"/><rect x="134.7" y="34.0" width="18.1" height="1.2" fill="#a02800" opacity="0.24"/><rect x="115.2" y="59.2" width="12.1" height="1.2" fill="#a02800" opacity="0.15"/><rect x="70.9" y="52.7" width="23.7" height="1.4" fill="#ff9030" opacity="0.25"/><rect x="143.6" y="19.2" width="8.2" height="1.3" fill="#ff9030" opacity="0.17"/><rect x="97.7" y="197.3" width="13.8" height="0.8" fill="#a02800" opacity="0.26"/><rect x="16.9" y="12.1" width="28.8" height="1.0" fill="#a02800" opacity="0.15"/><rect x="142.9" y="218.9" width="25.7" height="1.3" fill="#ff9030" opacity="0.19"/><rect x="61.6" y="52.9" width="20.7" height="1.1" fill="#ff9030" opacity="0.15"/><rect x="138.7" y="187.0" width="25.3" height="1.5" fill="#ff9030" opacity="0.22"/><rect x="120.4" y="133.3" width="23.8" height="0.9" fill="#ff9030" opacity="0.14"/><rect x="-10.3" y="45.5" width="27.3" height="1.4" fill="#ff9030" opacity="0.13"/><rect x="198.0" y="105.8" width="20.9" height="1.2" fill="#ff9030" opacity="0.15"/><rect x="19.0" y="34.8" width="15.0" height="1.5" fill="#ff9030" opacity="0.16"/><rect x="48.0" y="57.2" width="9.9" height="1.0" fill="#ff9030" opacity="0.22"/><rect x="206.5" y="7.2" width="14.9" height="1.4" fill="#a02800" opacity="0.25"/><rect x="211.6" y="106.1" width="8.8" height="1.0" fill="#a02800" opacity="0.25"/><rect x="20.0" y="164.1" width="10.8" height="1.0" fill="#ff9030" opacity="0.14"/><rect x="218.5" y="90.2" width="14.7" height="1.2" fill="#ff9030" opacity="0.18"/><rect x="155.9" y="164.8" width="9.9" height="1.3" fill="#ff9030" opacity="0.30"/><rect x="85.5" y="145.3" width="29.4" height="0.8" fill="#ff9030" opacity="0.27"/><rect x="-9.0" y="92.3" width="19.2" height="1.2" fill="#a02800" opacity="0.19"/><rect x="-2.6" y="21.1" width="27.6" height="1.5" fill="#ff9030" opacity="0.14"/><rect x="-7.6" y="54.8" width="15.5" height="1.0" fill="#ff9030" opacity="0.20"/><rect x="-7.4" y="68.8" width="6.9" height="0.9" fill="#a02800" opacity="0.22"/><rect x="110.2" y="90.5" width="8.0" height="0.9" fill="#ff9030" opacity="0.23"/><rect x="126.6" y="207.3" width="26.6" height="0.8" fill="#ff9030" opacity="0.23"/><rect x="120.0" y="109.5" width="15.0" height="1.4" fill="#a02800" opacity="0.30"/><rect x="90.0" y="69.2" width="25.8" height="0.9" fill="#ff9030" opacity="0.19"/><rect x="169.2" y="19.7" width="25.7" height="0.9" fill="#ff9030" opacity="0.14"/><rect x="0.7" y="55.1" width="16.3" height="1.0" fill="#a02800" opacity="0.14"/><rect x="-8.2" y="157.6" width="10.8" height="1.1" fill="#ff9030" opacity="0.15"/><rect x="56.9" y="94.6" width="24.1" height="1.5" fill="#a02800" opacity="0.25"/><rect x="120.8" y="170.9" width="16.6" height="1.3" fill="#a02800" opacity="0.30"/><rect x="151.8" y="163.8" width="12.4" height="1.1" fill="#a02800" opacity="0.15"/><rect x="21.5" y="14.8" width="12.3" height="1.0" fill="#a02800" opacity="0.14"/><rect x="116.5" y="171.9" width="6.7" height="0.9" fill="#ff9030" opacity="0.20"/><rect x="212.6" y="193.5" width="20.7" height="1.1" fill="#ff9030" opacity="0.20"/><rect x="-17.0" y="74.3" width="20.0" height="1.4" fill="#a02800" opacity="0.15"/><rect x="21.9" y="119.3" width="23.0" height="1.6" fill="#ff9030" opacity="0.27"/><rect x="57.7" y="26.6" width="28.0" height="1.1" fill="#ff9030" opacity="0.21"/><rect x="209.4" y="172.7" width="18.8" height="1.3" fill="#a02800" opacity="0.15"/><rect x="82.8" y="183.2" width="7.3" height="0.8" fill="#a02800" opacity="0.24"/><rect x="196.0" y="108.4" width="15.4" height="1.0" fill="#ff9030" opacity="0.17"/><rect x="67.5" y="126.5" width="24.0" height="1.1" fill="#ff9030" opacity="0.18"/><rect x="185.9" y="221.0" width="26.4" height="1.1" fill="#a02800" opacity="0.16"/><rect x="100.1" y="187.1" width="6.9" height="0.9" fill="#ff9030" opacity="0.26"/><rect x="28.8" y="202.5" width="25.1" height="1.3" fill="#ff9030" opacity="0.29"/><rect x="176.1" y="140.2" width="15.0" height="1.2" fill="#ff9030" opacity="0.24"/><rect x="75.3" y="41.6" width="13.6" height="1.0" fill="#ff9030" opacity="0.20"/><rect x="152.3" y="107.1" width="15.6" height="1.5" fill="#a02800" opacity="0.30"/><rect x="144.2" y="155.9" width="18.9" height="1.1" fill="#a02800" opacity="0.24"/><rect x="107.9" y="152.9" width="12.8" height="0.9" fill="#ff9030" opacity="0.19"/><rect x="166.1" y="130.6" width="23.1" height="1.5" fill="#ff9030" opacity="0.18"/><rect x="-2.4" y="161.1" width="24.1" height="1.6" fill="#a02800" opacity="0.29"/><rect x="185.4" y="154.7" width="23.7" height="1.0" fill="#a02800" opacity="0.22"/><rect x="38.6" y="201.6" width="29.4" height="1.1" fill="#ff9030" opacity="0.13"/><rect x="23.6" y="87.8" width="21.7" height="1.5" fill="#a02800" opacity="0.24"/><rect x="6.7" y="87.0" width="22.5" height="1.4" fill="#a02800" opacity="0.20"/><rect x="32.1" y="199.5" width="13.3" height="1.3" fill="#ff9030" opacity="0.29"/><rect x="135.0" y="37.7" width="24.4" height="0.9" fill="#ff9030" opacity="0.23"/><rect x="195.3" y="186.8" width="23.5" height="1.1" fill="#ff9030" opacity="0.23"/><rect x="54.1" y="203.6" width="12.7" height="1.6" fill="#a02800" opacity="0.16"/><rect x="8.3" y="6.9" width="19.5" height="0.9" fill="#a02800" opacity="0.16"/><rect x="138.4" y="133.8" width="22.6" height="0.8" fill="#a02800" opacity="0.22"/><rect x="214.5" y="187.8" width="13.6" height="1.3" fill="#a02800" opacity="0.30"/><rect x="150.7" y="51.5" width="26.2" height="0.9" fill="#ff9030" opacity="0.17"/><rect x="2.7" y="35.2" width="9.6" height="0.9" fill="#a02800" opacity="0.27"/><rect x="180.0" y="165.6" width="25.3" height="1.5" fill="#a02800" opacity="0.30"/><rect x="216.4" y="140.6" width="8.5" height="0.9" fill="#ff9030" opacity="0.17"/><rect x="92.4" y="84.2" width="22.3" height="0.9" fill="#a02800" opacity="0.20"/><rect x="71.9" y="122.3" width="8.8" height="1.1" fill="#a02800" opacity="0.25"/><rect x="215.9" y="111.5" width="28.7" height="1.4" fill="#ff9030" opacity="0.26"/><rect x="8.6" y="66.6" width="17.5" height="1.4" fill="#ff9030" opacity="0.30"/><rect x="51.2" y="86.0" width="18.0" height="1.4" fill="#a02800" opacity="0.23"/><rect x="62.6" y="66.6" width="26.4" height="0.8" fill="#ff9030" opacity="0.21"/><rect x="143.2" y="53.5" width="7.8" height="0.9" fill="#ff9030" opacity="0.22"/><rect x="112.6" y="221.5" width="15.3" height="0.9" fill="#a02800" opacity="0.19"/><rect x="-18.7" y="182.4" width="24.4" height="0.8" fill="#ff9030" opacity="0.18"/><rect x="73.8" y="103.1" width="18.4" height="1.0" fill="#ff9030" opacity="0.31"/><rect x="95.6" y="99.6" width="8.0" height="1.6" fill="#ff9030" opacity="0.26"/><rect x="-7.0" y="114.3" width="15.4" height="1.1" fill="#a02800" opacity="0.24"/><rect x="138.1" y="203.0" width="21.3" height="0.8" fill="#ff9030" opacity="0.27"/><rect x="194.2" y="93.0" width="25.8" height="1.1" fill="#a02800" opacity="0.31"/><rect x="198.5" y="170.2" width="9.6" height="1.1" fill="#a02800" opacity="0.31"/><rect x="33.1" y="223.7" width="16.1" height="1.2" fill="#ff9030" opacity="0.18"/><rect x="10.2" y="150.0" width="10.1" height="0.9" fill="#ff9030" opacity="0.20"/><rect x="196.9" y="201.9" width="10.7" height="1.5" fill="#ff9030" opacity="0.30"/><rect x="13.4" y="134.8" width="11.7" height="1.6" fill="#a02800" opacity="0.14"/><rect x="85.1" y="41.6" width="12.4" height="1.1" fill="#a02800" opacity="0.27"/><rect x="107.0" y="34.2" width="29.4" height="0.9" fill="#a02800" opacity="0.15"/><rect x="71.9" y="144.8" width="14.8" height="1.3" fill="#ff9030" opacity="0.31"/><rect x="119.3" y="54.2" width="12.3" height="1.4" fill="#ff9030" opacity="0.15"/><rect x="152.9" y="108.3" width="6.2" height="1.1" fill="#a02800" opacity="0.22"/><rect x="174.3" y="137.4" width="7.3" height="0.8" fill="#ff9030" opacity="0.20"/><rect x="-14.8" y="77.8" width="13.1" height="1.3" fill="#ff9030" opacity="0.30"/><rect x="109.9" y="83.4" width="23.1" height="1.6" fill="#a02800" opacity="0.31"/><rect x="20.8" y="67.9" width="28.4" height="1.2" fill="#ff9030" opacity="0.26"/><rect x="75.2" y="119.0" width="28.2" height="1.2" fill="#ff9030" opacity="0.28"/><rect x="66.0" y="31.1" width="17.9" height="1.0" fill="#a02800" opacity="0.21"/><rect x="1.5" y="13.5" width="14.2" height="1.6" fill="#ff9030" opacity="0.18"/><rect x="172.0" y="62.0" width="23.8" height="1.5" fill="#ff9030" opacity="0.24"/><rect x="134.1" y="87.4" width="11.9" height="1.5" fill="#ff9030" opacity="0.21"/><rect x="23.3" y="201.9" width="9.3" height="1.4" fill="#ff9030" opacity="0.23"/><rect x="-9.4" y="2.2" width="25.8" height="1.5" fill="#ff9030" opacity="0.14"/><rect x="8.8" y="132.5" width="23.3" height="1.3" fill="#a02800" opacity="0.17"/><rect x="7.2" y="213.5" width="7.5" height="0.9" fill="#a02800" opacity="0.14"/><rect x="139.0" y="103.6" width="27.4" height="0.9" fill="#a02800" opacity="0.25"/><rect x="9.5" y="189.8" width="24.1" height="1.0" fill="#ff9030" opacity="0.13"/><rect x="106.4" y="170.6" width="27.6" height="0.9" fill="#ff9030" opacity="0.17"/><rect x="212.0" y="59.3" width="10.9" height="1.1" fill="#ff9030" opacity="0.14"/><rect x="132.3" y="95.7" width="21.6" height="0.9" fill="#ff9030" opacity="0.22"/><rect x="89.6" y="154.6" width="19.8" height="0.9" fill="#a02800" opacity="0.18"/><rect x="111.3" y="111.1" width="27.6" height="1.3" fill="#a02800" opacity="0.21"/><rect x="184.8" y="176.5" width="13.0" height="1.0" fill="#ff9030" opacity="0.20"/><rect x="44.8" y="200.2" width="21.1" height="1.6" fill="#a02800" opacity="0.15"/><rect x="62.4" y="173.2" width="8.5" height="1.5" fill="#a02800" opacity="0.24"/><rect x="218.2" y="11.2" width="15.2" height="1.4" fill="#a02800" opacity="0.18"/><rect x="60.7" y="91.9" width="8.3" height="1.4" fill="#ff9030" opacity="0.20"/><rect x="-4.6" y="195.7" width="13.2" height="1.6" fill="#ff9030" opacity="0.27"/><rect x="104.1" y="201.7" width="8.5" height="1.0" fill="#ff9030" opacity="0.13"/><rect x="51.0" y="127.1" width="8.6" height="1.5" fill="#ff9030" opacity="0.30"/><rect x="5.2" y="104.9" width="24.4" height="1.2" fill="#ff9030" opacity="0.15"/><rect x="113.0" y="222.1" width="16.5" height="1.2" fill="#ff9030" opacity="0.31"/><rect x="31.3" y="96.3" width="18.4" height="1.1" fill="#a02800" opacity="0.25"/><rect x="59.8" y="206.7" width="25.5" height="0.9" fill="#ff9030" opacity="0.14"/><rect x="94.2" y="211.3" width="16.6" height="1.3" fill="#a02800" opacity="0.22"/><rect x="162.3" y="63.9" width="12.1" height="1.4" fill="#ff9030" opacity="0.24"/><rect x="29.7" y="30.2" width="22.7" height="0.9" fill="#a02800" opacity="0.31"/><rect x="21.1" y="30.0" width="8.2" height="1.3" fill="#ff9030" opacity="0.29"/><rect x="151.2" y="36.7" width="8.5" height="1.0" fill="#a02800" opacity="0.19"/><rect x="156.5" y="11.8" width="8.9" height="1.1" fill="#a02800" opacity="0.24"/><rect x="99.7" y="143.8" width="27.0" height="1.0" fill="#a02800" opacity="0.19"/><rect x="12.5" y="197.3" width="16.1" height="1.6" fill="#ff9030" opacity="0.15"/><rect x="165.5" y="147.4" width="23.5" height="1.6" fill="#ff9030" opacity="0.19"/><rect x="142.0" y="191.9" width="16.1" height="1.3" fill="#a02800" opacity="0.19"/><rect x="103.8" y="164.7" width="23.1" height="1.4" fill="#a02800" opacity="0.16"/><rect x="-19.7" y="111.3" width="25.0" height="1.5" fill="#a02800" opacity="0.14"/><rect x="97.3" y="120.4" width="8.9" height="1.6" fill="#ff9030" opacity="0.29"/><rect x="183.1" y="53.6" width="21.6" height="1.3" fill="#ff9030" opacity="0.17"/><rect x="-17.5" y="61.6" width="21.8" height="1.4" fill="#a02800" opacity="0.22"/><rect x="55.1" y="97.8" width="23.6" height="1.3" fill="#ff9030" opacity="0.27"/><rect x="148.1" y="100.0" width="7.5" height="1.5" fill="#ff9030" opacity="0.16"/><rect x="-16.5" y="12.8" width="24.4" height="1.2" fill="#ff9030" opacity="0.21"/><rect x="96.8" y="180.7" width="18.5" height="1.4" fill="#ff9030" opacity="0.27"/><rect x="184.5" y="140.3" width="20.7" height="1.5" fill="#a02800" opacity="0.24"/><rect x="196.7" y="4.6" width="29.7" height="0.9" fill="#ff9030" opacity="0.19"/><rect x="70.5" y="22.5" width="8.1" height="0.8" fill="#ff9030" opacity="0.21"/><rect x="158.6" y="67.5" width="15.3" height="1.6" fill="#ff9030" opacity="0.29"/><rect x="33.2" y="155.1" width="15.7" height="1.1" fill="#ff9030" opacity="0.13"/><rect x="168.1" y="102.5" width="22.6" height="1.3" fill="#a02800" opacity="0.27"/><rect x="204.7" y="195.9" width="25.0" height="1.3" fill="#ff9030" opacity="0.25"/><rect x="154.8" y="198.6" width="16.6" height="1.1" fill="#ff9030" opacity="0.18"/><rect x="168.5" y="153.4" width="10.6" height="1.5" fill="#ff9030" opacity="0.20"/><rect x="128.4" y="21.3" width="14.7" height="1.0" fill="#ff9030" opacity="0.13"/><rect x="84.2" y="33.5" width="8.5" height="1.2" fill="#ff9030" opacity="0.30"/><rect x="59.9" y="187.7" width="28.2" height="0.9" fill="#ff9030" opacity="0.13"/><rect x="127.4" y="13.2" width="24.2" height="1.4" fill="#ff9030" opacity="0.21"/><rect x="129.0" y="206.7" width="18.9" height="1.1" fill="#ff9030" opacity="0.21"/><rect x="36.3" y="185.1" width="13.1" height="0.9" fill="#a02800" opacity="0.23"/><rect x="143.0" y="49.4" width="20.3" height="1.4" fill="#ff9030" opacity="0.20"/><rect x="189.9" y="72.2" width="24.7" height="1.3" fill="#ff9030" opacity="0.15"/><rect x="0.2" y="116.7" width="21.4" height="1.3" fill="#a02800" opacity="0.14"/><rect x="95.0" y="115.5" width="16.6" height="1.0" fill="#ff9030" opacity="0.21"/><rect x="145.2" y="16.0" width="11.8" height="0.9" fill="#ff9030" opacity="0.19"/><rect x="51.5" y="209.5" width="8.3" height="1.6" fill="#ff9030" opacity="0.15"/><rect x="31.2" y="77.1" width="22.4" height="0.9" fill="#ff9030" opacity="0.29"/><rect x="148.1" y="73.8" width="16.9" height="0.8" fill="#a02800" opacity="0.17"/><rect x="44.8" y="64.3" width="25.7" height="1.1" fill="#ff9030" opacity="0.22"/><rect x="119.6" y="190.3" width="16.8" height="1.3" fill="#a02800" opacity="0.20"/><rect x="12.3" y="95.9" width="16.5" height="1.0" fill="#a02800" opacity="0.20"/><rect x="124.7" y="135.7" width="10.2" height="1.4" fill="#ff9030" opacity="0.14"/><rect x="165.1" y="24.5" width="27.7" height="0.9" fill="#ff9030" opacity="0.24"/><rect x="140.8" y="64.0" width="6.8" height="0.9" fill="#ff9030" opacity="0.19"/><rect x="105.0" y="156.0" width="26.5" height="1.3" fill="#a02800" opacity="0.28"/><rect x="96.3" y="39.9" width="13.7" height="0.9" fill="#a02800" opacity="0.29"/><rect x="172.0" y="83.4" width="28.6" height="1.1" fill="#a02800" opacity="0.29"/><rect x="11.9" y="224.3" width="23.9" height="1.2" fill="#a02800" opacity="0.18"/><rect x="80.9" y="39.0" width="28.4" height="1.0" fill="#ff9030" opacity="0.24"/><rect x="130.3" y="98.4" width="16.9" height="0.8" fill="#ff9030" opacity="0.28"/><rect x="39.7" y="148.3" width="18.0" height="1.2" fill="#a02800" opacity="0.29"/><rect x="55.1" y="175.2" width="14.1" height="0.9" fill="#a02800" opacity="0.30"/><rect x="102.4" y="10.2" width="12.6" height="0.8" fill="#ff9030" opacity="0.17"/><rect x="173.1" y="222.5" width="11.3" height="0.8" fill="#ff9030" opacity="0.15"/><rect x="221.2" y="43.2" width="13.5" height="0.9" fill="#ff9030" opacity="0.15"/><rect x="161.3" y="224.0" width="28.1" height="1.4" fill="#a02800" opacity="0.18"/><rect x="46.1" y="38.0" width="7.6" height="1.4" fill="#ff9030" opacity="0.22"/><rect x="54.7" y="2.4" width="26.4" height="1.4" fill="#a02800" opacity="0.26"/><rect x="116.5" y="205.1" width="15.2" height="1.0" fill="#a02800" opacity="0.14"/><rect x="92.1" y="58.5" width="8.9" height="1.0" fill="#ff9030" opacity="0.20"/><rect x="99.3" y="215.3" width="26.1" height="1.3" fill="#a02800" opacity="0.19"/><rect x="57.7" y="88.3" width="21.2" height="1.4" fill="#a02800" opacity="0.18"/><rect x="-17.8" y="33.6" width="20.0" height="0.8" fill="#ff9030" opacity="0.18"/><rect x="30.3" y="51.4" width="21.9" height="1.0" fill="#a02800" opacity="0.26"/><rect x="205.7" y="46.5" width="8.9" height="1.4" fill="#a02800" opacity="0.26"/><rect x="193.5" y="109.6" width="21.1" height="0.9" fill="#a02800" opacity="0.16"/><rect x="113.6" y="104.8" width="8.3" height="1.1" fill="#a02800" opacity="0.22"/><rect x="185.5" y="117.4" width="13.3" height="1.3" fill="#a02800" opacity="0.25"/><rect x="48.4" y="70.2" width="17.3" height="1.3" fill="#a02800" opacity="0.15"/><rect x="117.3" y="100.4" width="10.7" height="1.5" fill="#ff9030" opacity="0.13"/><rect x="52.2" y="112.2" width="6.7" height="0.9" fill="#ff9030" opacity="0.20"/><rect x="-0.5" y="204.7" width="14.4" height="1.3" fill="#a02800" opacity="0.13"/><rect x="48.9" y="51.5" width="27.5" height="1.0" fill="#ff9030" opacity="0.22"/><rect x="16.6" y="109.2" width="22.0" height="1.2" fill="#a02800" opacity="0.23"/><rect x="214.3" y="173.4" width="20.7" height="1.2" fill="#ff9030" opacity="0.25"/><rect x="147.6" y="74.5" width="14.8" height="1.3" fill="#a02800" opacity="0.25"/><rect x="153.4" y="208.2" width="23.0" height="1.0" fill="#a02800" opacity="0.24"/><rect x="-5.1" y="139.6" width="24.1" height="1.2" fill="#ff9030" opacity="0.23"/><rect x="167.5" y="162.5" width="17.2" height="1.2" fill="#a02800" opacity="0.23"/><rect x="59.3" y="223.1" width="23.1" height="0.9" fill="#a02800" opacity="0.27"/><rect x="112.2" y="146.7" width="24.9" height="0.9" fill="#a02800" opacity="0.22"/><rect x="151.2" y="138.5" width="29.0" height="1.5" fill="#a02800" opacity="0.14"/><rect x="203.8" y="95.9" width="28.7" height="1.1" fill="#a02800" opacity="0.27"/><rect x="143.5" y="119.6" width="21.3" height="1.4" fill="#a02800" opacity="0.31"/><rect x="100.9" y="111.0" width="21.8" height="0.8" fill="#a02800" opacity="0.30"/><rect x="102.4" y="71.7" width="7.0" height="1.5" fill="#ff9030" opacity="0.18"/><rect x="178.9" y="67.2" width="11.8" height="1.3" fill="#a02800" opacity="0.29"/><rect x="60.5" y="107.3" width="12.2" height="0.8" fill="#ff9030" opacity="0.15"/><rect x="57.1" y="33.5" width="24.4" height="1.1" fill="#a02800" opacity="0.18"/><rect x="134.1" y="66.0" width="17.5" height="1.2" fill="#ff9030" opacity="0.18"/><rect x="172.4" y="32.4" width="8.5" height="1.4" fill="#ff9030" opacity="0.23"/><rect x="57.7" y="196.6" width="28.7" height="1.5" fill="#ff9030" opacity="0.21"/><rect x="43.6" y="0.7" width="29.7" height="1.4" fill="#a02800" opacity="0.28"/><rect x="55.2" y="1.4" width="17.2" height="1.5" fill="#a02800" opacity="0.16"/><rect x="115.8" y="222.2" width="13.3" height="1.1" fill="#ff9030" opacity="0.22"/><rect x="56.1" y="102.0" width="28.7" height="1.0" fill="#ff9030" opacity="0.27"/><rect x="83.6" y="55.0" width="8.5" height="1.6" fill="#ff9030" opacity="0.24"/><rect x="145.0" y="117.8" width="22.1" height="1.1" fill="#ff9030" opacity="0.16"/><rect x="9.6" y="6.6" width="15.7" height="1.3" fill="#ff9030" opacity="0.19"/><rect x="56.8" y="52.6" width="17.8" height="1.5" fill="#ff9030" opacity="0.22"/><rect x="0.9" y="15.4" width="27.4" height="1.0" fill="#a02800" opacity="0.26"/><rect x="197.8" y="10.3" width="28.5" height="0.8" fill="#a02800" opacity="0.21"/><rect x="125.4" y="188.3" width="11.0" height="0.9" fill="#ff9030" opacity="0.22"/><rect x="89.2" y="40.8" width="27.5" height="1.2" fill="#a02800" opacity="0.27"/><rect x="212.2" y="30.2" width="26.8" height="1.5" fill="#ff9030" opacity="0.18"/><rect x="59.1" y="220.6" width="28.2" height="1.5" fill="#a02800" opacity="0.26"/><rect x="48.5" y="16.5" width="21.7" height="1.3" fill="#a02800" opacity="0.14"/><rect x="64.5" y="78.2" width="10.1" height="1.2" fill="#ff9030" opacity="0.20"/><rect x="81.0" y="60.1" width="28.7" height="1.4" fill="#a02800" opacity="0.30"/><rect x="195.7" y="7.0" width="8.3" height="1.4" fill="#ff9030" opacity="0.27"/><rect x="96.6" y="138.3" width="23.3" height="1.0" fill="#ff9030" opacity="0.17"/><rect x="-11.0" y="25.4" width="28.8" height="1.1" fill="#a02800" opacity="0.21"/><rect x="171.4" y="62.7" width="17.8" height="1.5" fill="#ff9030" opacity="0.30"/><rect x="92.5" y="10.5" width="11.3" height="1.1" fill="#a02800" opacity="0.18"/><rect x="128.8" y="68.0" width="18.1" height="1.3" fill="#ff9030" opacity="0.22"/><rect x="87.5" y="213.0" width="25.0" height="1.3" fill="#a02800" opacity="0.24"/><rect x="154.4" y="177.7" width="10.6" height="0.9" fill="#ff9030" opacity="0.13"/><rect x="60.6" y="154.6" width="12.1" height="0.8" fill="#ff9030" opacity="0.25"/><rect x="86.8" y="80.5" width="22.2" height="1.4" fill="#a02800" opacity="0.17"/><rect x="25.0" y="222.5" width="19.9" height="1.0" fill="#a02800" opacity="0.29"/><rect x="153.9" y="137.2" width="9.3" height="1.0" fill="#a02800" opacity="0.24"/><rect x="58.9" y="165.8" width="12.4" height="1.6" fill="#ff9030" opacity="0.25"/><rect x="117.7" y="106.0" width="21.7" height="0.9" fill="#ff9030" opacity="0.15"/><rect x="126.7" y="131.0" width="29.5" height="1.5" fill="#a02800" opacity="0.31"/><rect x="83.3" y="111.7" width="17.3" height="1.4" fill="#ff9030" opacity="0.23"/><rect x="214.1" y="27.6" width="18.6" height="1.2" fill="#a02800" opacity="0.24"/><rect x="8.1" y="129.6" width="9.1" height="1.1" fill="#a02800" opacity="0.15"/><rect x="163.2" y="183.5" width="24.3" height="0.9" fill="#ff9030" opacity="0.27"/><rect x="143.7" y="48.5" width="22.7" height="0.8" fill="#ff9030" opacity="0.24"/><rect x="124.2" y="177.8" width="29.6" height="1.4" fill="#ff9030" opacity="0.21"/><rect x="54.0" y="130.6" width="11.5" height="1.3" fill="#ff9030" opacity="0.30"/><rect x="102.4" y="135.9" width="21.6" height="1.1" fill="#a02800" opacity="0.18"/><rect x="74.8" y="153.5" width="6.9" height="1.1" fill="#ff9030" opacity="0.25"/><rect x="100.1" y="147.6" width="25.6" height="1.1" fill="#ff9030" opacity="0.27"/><rect x="84.3" y="152.8" width="27.3" height="1.2" fill="#ff9030" opacity="0.29"/><rect x="27.3" y="197.8" width="25.4" height="1.5" fill="#ff9030" opacity="0.19"/><rect x="137.3" y="149.5" width="29.8" height="1.1" fill="#ff9030" opacity="0.15"/><rect x="-2.8" y="153.8" width="26.4" height="1.0" fill="#ff9030" opacity="0.30"/><rect x="164.9" y="112.2" width="14.3" height="1.1" fill="#ff9030" opacity="0.31"/><rect x="201.7" y="43.2" width="27.2" height="1.0" fill="#a02800" opacity="0.26"/><rect x="125.3" y="203.6" width="11.3" height="1.6" fill="#a02800" opacity="0.24"/><rect x="29.6" y="33.6" width="21.1" height="0.8" fill="#ff9030" opacity="0.20"/><rect x="100.9" y="57.9" width="7.8" height="1.3" fill="#a02800" opacity="0.19"/><rect x="109.1" y="130.9" width="24.9" height="1.3" fill="#a02800" opacity="0.23"/><rect x="3.6" y="185.2" width="8.7" height="1.5" fill="#a02800" opacity="0.13"/><rect x="129.2" y="201.2" width="26.5" height="1.1" fill="#a02800" opacity="0.15"/><rect x="154.0" y="172.1" width="17.3" height="1.1" fill="#ff9030" opacity="0.30"/><rect x="31.5" y="104.2" width="29.7" height="0.9" fill="#a02800" opacity="0.17"/><rect x="74.8" y="164.2" width="17.4" height="1.0" fill="#a02800" opacity="0.24"/><rect x="34.2" y="45.9" width="19.1" height="1.5" fill="#ff9030" opacity="0.16"/><rect x="44.2" y="206.2" width="14.2" height="1.1" fill="#ff9030" opacity="0.31"/><rect x="184.8" y="81.5" width="29.4" height="0.9" fill="#a02800" opacity="0.21"/><rect x="41.2" y="37.6" width="14.0" height="1.3" fill="#ff9030" opacity="0.23"/><rect x="42.4" y="65.5" width="9.4" height="1.2" fill="#ff9030" opacity="0.14"/><rect x="42.6" y="117.6" width="24.5" height="1.5" fill="#ff9030" opacity="0.30"/><rect x="35.8" y="209.2" width="28.3" height="1.5" fill="#ff9030" opacity="0.21"/><rect x="43.4" y="121.7" width="24.2" height="1.5" fill="#ff9030" opacity="0.26"/><rect x="-12.4" y="96.5" width="12.4" height="1.1" fill="#ff9030" opacity="0.24"/><rect x="94.6" y="1.2" width="27.4" height="1.4" fill="#a02800" opacity="0.25"/><rect x="224.8" y="135.6" width="25.0" height="1.2" fill="#ff9030" opacity="0.30"/><rect x="126.6" y="124.1" width="13.4" height="1.2" fill="#a02800" opacity="0.30"/><rect x="224.0" y="224.9" width="28.8" height="0.9" fill="#ff9030" opacity="0.19"/><rect x="116.8" y="186.0" width="12.2" height="1.0" fill="#ff9030" opacity="0.15"/><rect x="162.5" y="32.3" width="10.6" height="1.3" fill="#ff9030" opacity="0.15"/><rect x="139.3" y="187.5" width="27.1" height="1.4" fill="#a02800" opacity="0.18"/><rect x="73.1" y="95.1" width="15.4" height="1.1" fill="#a02800" opacity="0.28"/><rect x="0.3" y="141.9" width="11.1" height="1.4" fill="#a02800" opacity="0.17"/><rect x="72.4" y="56.2" width="17.0" height="1.5" fill="#ff9030" opacity="0.24"/><rect x="64.3" y="62.6" width="18.2" height="1.1" fill="#ff9030" opacity="0.14"/><rect x="192.5" y="147.7" width="27.6" height="1.1" fill="#a02800" opacity="0.23"/><rect x="23.2" y="125.0" width="19.0" height="1.0" fill="#ff9030" opacity="0.21"/><rect x="137.2" y="188.1" width="13.9" height="1.3" fill="#ff9030" opacity="0.23"/><rect x="95.4" y="67.0" width="15.8" height="1.5" fill="#a02800" opacity="0.20"/><rect x="117.7" y="121.1" width="22.0" height="1.0" fill="#ff9030" opacity="0.30"/><rect x="146.8" y="32.7" width="12.2" height="1.2" fill="#ff9030" opacity="0.17"/><rect x="214.6" y="39.6" width="6.9" height="1.4" fill="#ff9030" opacity="0.20"/><rect x="170.2" y="43.9" width="29.6" height="1.4" fill="#ff9030" opacity="0.20"/><rect x="126.2" y="224.5" width="27.5" height="0.9" fill="#a02800" opacity="0.21"/><rect x="17.5" y="158.7" width="8.1" height="1.5" fill="#a02800" opacity="0.25"/><rect x="151.8" y="14.3" width="29.7" height="1.4" fill="#a02800" opacity="0.21"/><rect x="207.0" y="142.2" width="18.0" height="0.9" fill="#ff9030" opacity="0.30"/><rect x="209.1" y="159.6" width="9.6" height="1.3" fill="#ff9030" opacity="0.21"/><rect x="37.0" y="104.2" width="24.3" height="1.4" fill="#a02800" opacity="0.21"/><rect x="76.9" y="110.4" width="17.2" height="1.2" fill="#ff9030" opacity="0.31"/><rect x="13.1" y="180.3" width="22.1" height="1.1" fill="#a02800" opacity="0.29"/><rect x="-2.7" y="211.6" width="21.0" height="1.2" fill="#ff9030" opacity="0.23"/><rect x="134.5" y="193.4" width="27.3" height="1.4" fill="#ff9030" opacity="0.20"/><rect x="176.8" y="41.1" width="19.9" height="1.5" fill="#ff9030" opacity="0.22"/><rect x="221.4" y="151.6" width="13.8" height="1.2" fill="#ff9030" opacity="0.18"/><rect x="216.7" y="120.2" width="22.7" height="1.3" fill="#ff9030" opacity="0.24"/><rect x="144.4" y="83.0" width="15.0" height="1.1" fill="#a02800" opacity="0.28"/><rect x="22.1" y="66.9" width="13.9" height="1.5" fill="#ff9030" opacity="0.31"/><rect x="38.8" y="93.6" width="27.2" height="1.0" fill="#a02800" opacity="0.19"/><rect x="12.4" y="111.9" width="11.1" height="0.9" fill="#ff9030" opacity="0.16"/><rect x="53.7" y="136.1" width="28.0" height="1.3" fill="#a02800" opacity="0.18"/><rect x="63.0" y="170.9" width="26.9" height="1.4" fill="#ff9030" opacity="0.27"/><rect x="164.4" y="158.1" width="14.2" height="1.1" fill="#ff9030" opacity="0.30"/><rect x="49.1" y="8.3" width="13.4" height="1.5" fill="#ff9030" opacity="0.16"/><rect x="-15.7" y="23.4" width="14.2" height="1.2" fill="#a02800" opacity="0.25"/><rect x="68.3" y="115.4" width="15.8" height="1.6" fill="#ff9030" opacity="0.26"/><rect x="29.7" y="21.9" width="24.8" height="1.4" fill="#ff9030" opacity="0.27"/><rect x="181.5" y="32.7" width="10.8" height="1.4" fill="#ff9030" opacity="0.28"/><rect x="74.4" y="68.1" width="23.6" height="1.2" fill="#ff9030" opacity="0.31"/><rect x="211.1" y="29.2" width="27.3" height="1.0" fill="#a02800" opacity="0.17"/><rect x="21.9" y="98.4" width="28.2" height="1.5" fill="#a02800" opacity="0.22"/><rect x="214.2" y="112.2" width="9.0" height="1.5" fill="#ff9030" opacity="0.24"/><rect x="223.8" y="176.0" width="24.5" height="1.4" fill="#a02800" opacity="0.23"/><rect x="59.7" y="49.3" width="28.2" height="0.8" fill="#ff9030" opacity="0.25"/></g><g filter="url(#b4)"><ellipse cx="76" cy="134" rx="15" ry="38" fill="#400400" opacity="0.85" transform="rotate(6 76 134)"/><ellipse cx="68" cy="150" rx="9" ry="15" fill="#3a0400" opacity="0.6"/><ellipse cx="86" cy="104" rx="8" ry="8" fill="#3a0400" opacity="0.5"/><ellipse cx="52" cy="178" rx="12" ry="10" fill="#5a0800" opacity="0.5"/></g><g filter="url(#b3)"><ellipse cx="112" cy="136" rx="32" ry="48" fill="url(#gBrightA)" transform="rotate(15 112 136)"/></g><ellipse cx="2" cy="124" rx="9" ry="26" fill="#ffb020" opacity="0.75" filter="url(#b4)"/><rect x="0" y="0" width="5" height="227" fill="url(#gLeftEdge)"/><rect x="0" y="0" width="227" height="2" fill="#f08040" opacity="0.5"/><rect x="220" y="0" width="6" height="227" fill="#a02000" opacity="0.3" filter="url(#b2)"/><rect x="120" y="58.5" width="105" height="1" fill="#6a1000" opacity="0.35"/><rect x="0" y="78" width="225" height="1" fill="#6a1000" opacity="0.3"/><rect x="110" y="133" width="115" height="1" fill="#6a1000" opacity="0.45"/><rect x="60" y="164" width="165" height="1" fill="#6a1000" opacity="0.35"/></svg>
<svg x="410" y="57" width="226" height="226" viewBox="0 0 226 226" overflow="hidden"><rect width="228" height="228" fill="#e85600"/><rect x="-12" y="-12" width="250" height="250" fill="url(#stripeb)" filter="url(#b3)" opacity="1"/><g filter="url(#b3)"><ellipse cx="231.7" cy="-11.2" rx="15.0" ry="8.0" fill="url(#gDarkAB)" opacity="0.43" transform="rotate(-52 231.7 -11.2)"/><ellipse cx="243.2" cy="-4.5" rx="8" ry="5" fill="url(#gLightAB)" opacity="0.23"/><ellipse cx="230.0" cy="17.2" rx="14.3" ry="8.5" fill="url(#gDarkAB)" opacity="0.44" transform="rotate(-52 230.0 17.2)"/><ellipse cx="241.5" cy="23.9" rx="8" ry="5" fill="url(#gLightAB)" opacity="0.27"/><ellipse cx="228.2" cy="42.6" rx="13.6" ry="7.7" fill="url(#gDarkAB)" opacity="0.53" transform="rotate(-52 228.2 42.6)"/><ellipse cx="239.7" cy="49.3" rx="8" ry="5" fill="url(#gLightAB)" opacity="0.24"/><ellipse cx="227.1" cy="69.4" rx="15.5" ry="8.0" fill="url(#gDarkAB)" opacity="0.43" transform="rotate(-52 227.1 69.4)"/><ellipse cx="238.6" cy="76.2" rx="8" ry="5" fill="url(#gLightAB)" opacity="0.35"/><ellipse cx="227.6" cy="96.5" rx="14.6" ry="7.9" fill="url(#gDarkAB)" opacity="0.51" transform="rotate(-52 227.6 96.5)"/><ellipse cx="239.1" cy="103.3" rx="8" ry="5" fill="url(#gLightAB)" opacity="0.24"/><ellipse cx="229.0" cy="125.1" rx="13.7" ry="8.3" fill="url(#gDarkAB)" opacity="0.53" transform="rotate(-52 229.0 125.1)"/><ellipse cx="240.5" cy="131.9" rx="8" ry="5" fill="url(#gLightAB)" opacity="0.57"/><ellipse cx="227.7" cy="153.1" rx="15.9" ry="7.6" fill="url(#gDarkAB)" opacity="0.27" transform="rotate(-52 227.7 153.1)"/><ellipse cx="239.2" cy="159.8" rx="8" ry="5" fill="url(#gLightAB)" opacity="0.37"/><ellipse cx="224.9" cy="179.5" rx="15.9" ry="8.7" fill="url(#gDarkAB)" opacity="0.47" transform="rotate(-52 224.9 179.5)"/><ellipse cx="236.4" cy="186.3" rx="8" ry="5" fill="url(#gLightAB)" opacity="0.58"/><ellipse cx="226.4" cy="207.3" rx="14.0" ry="9.0" fill="url(#gDarkAB)" opacity="0.50" transform="rotate(-52 226.4 207.3)"/><ellipse cx="237.9" cy="214.0" rx="8" ry="5" fill="url(#gLightAB)" opacity="0.35"/><ellipse cx="224.5" cy="230.6" rx="13.6" ry="8.9" fill="url(#gDarkAB)" opacity="0.39" transform="rotate(-52 224.5 230.6)"/><ellipse cx="236.0" cy="237.4" rx="8" ry="5" fill="url(#gLightAB)" opacity="0.58"/><ellipse cx="206.4" cy="2.5" rx="14.3" ry="8.0" fill="url(#gDarkAB)" opacity="0.56" transform="rotate(-52 206.4 2.5)"/><ellipse cx="217.9" cy="9.2" rx="8" ry="5" fill="url(#gLightAB)" opacity="0.56"/><ellipse cx="208.1" cy="31.4" rx="14.2" ry="8.5" fill="url(#gDarkAB)" opacity="0.48" transform="rotate(-52 208.1 31.4)"/><ellipse cx="219.6" cy="38.1" rx="8" ry="5" fill="url(#gLightAB)" opacity="0.53"/><ellipse cx="206.8" cy="55.8" rx="14.2" ry="8.7" fill="url(#gDarkAB)" opacity="0.32" transform="rotate(-52 206.8 55.8)"/><ellipse cx="218.3" cy="62.5" rx="8" ry="5" fill="url(#gLightAB)" opacity="0.42"/><ellipse cx="205.9" cy="85.1" rx="14.9" ry="8.0" fill="url(#gDarkAB)" opacity="0.24" transform="rotate(-52 205.9 85.1)"/><ellipse cx="217.4" cy="91.9" rx="8" ry="5" fill="url(#gLightAB)" opacity="0.42"/><ellipse cx="206.5" cy="109.8" rx="13.2" ry="8.3" fill="url(#gDarkAB)" opacity="0.58" transform="rotate(-52 206.5 109.8)"/><ellipse cx="218.0" cy="116.5" rx="8" ry="5" fill="url(#gLightAB)" opacity="0.42"/><ellipse cx="203.6" cy="138.0" rx="14.3" ry="8.6" fill="url(#gDarkAB)" opacity="0.39" transform="rotate(-52 203.6 138.0)"/><ellipse cx="215.1" cy="144.8" rx="8" ry="5" fill="url(#gLightAB)" opacity="0.20"/><ellipse cx="203.6" cy="165.9" rx="15.6" ry="7.8" fill="url(#gDarkAB)" opacity="0.26" transform="rotate(-52 203.6 165.9)"/><ellipse cx="215.1" cy="172.7" rx="8" ry="5" fill="url(#gLightAB)" opacity="0.47"/><ellipse cx="202.3" cy="191.6" rx="13.2" ry="8.5" fill="url(#gDarkAB)" opacity="0.37" transform="rotate(-52 202.3 191.6)"/><ellipse cx="213.8" cy="198.3" rx="8" ry="5" fill="url(#gLightAB)" opacity="0.39"/><ellipse cx="203.8" cy="219.0" rx="14.6" ry="7.9" fill="url(#gDarkAB)" opacity="0.42" transform="rotate(-52 203.8 219.0)"/><ellipse cx="215.3" cy="225.7" rx="8" ry="5" fill="url(#gLightAB)" opacity="0.56"/><ellipse cx="185.7" cy="-10.0" rx="13.9" ry="8.0" fill="url(#gDarkAB)" opacity="0.44" transform="rotate(-52 185.7 -10.0)"/><ellipse cx="197.2" cy="-3.3" rx="8" ry="5" fill="url(#gLightAB)" opacity="0.34"/><ellipse cx="183.3" cy="18.1" rx="14.2" ry="8.1" fill="url(#gDarkAB)" opacity="0.34" transform="rotate(-52 183.3 18.1)"/><ellipse cx="194.8" cy="24.9" rx="8" ry="5" fill="url(#gLightAB)" opacity="0.53"/><ellipse cx="183.4" cy="43.5" rx="13.8" ry="7.6" fill="url(#gDarkAB)" opacity="0.30" transform="rotate(-52 183.4 43.5)"/><ellipse cx="194.9" cy="50.3" rx="8" ry="5" fill="url(#gLightAB)" opacity="0.29"/><ellipse cx="182.0" cy="71.7" rx="13.3" ry="8.2" fill="url(#gDarkAB)" opacity="0.40" transform="rotate(-52 182.0 71.7)"/><ellipse cx="193.5" cy="78.5" rx="8" ry="5" fill="url(#gLightAB)" opacity="0.25"/><ellipse cx="182.7" cy="97.1" rx="13.8" ry="8.8" fill="url(#gDarkAB)" opacity="0.54" transform="rotate(-52 182.7 97.1)"/><ellipse cx="194.2" cy="103.8" rx="8" ry="5" fill="url(#gLightAB)" opacity="0.30"/><ellipse cx="183.8" cy="124.8" rx="15.4" ry="7.9" fill="url(#gDarkAB)" opacity="0.22" transform="rotate(-52 183.8 124.8)"/><ellipse cx="195.3" cy="131.6" rx="8" ry="5" fill="url(#gLightAB)" opacity="0.34"/><ellipse cx="180.0" cy="152.6" rx="15.2" ry="8.1" fill="url(#gDarkAB)" opacity="0.24" transform="rotate(-52 180.0 152.6)"/><ellipse cx="191.5" cy="159.4" rx="8" ry="5" fill="url(#gLightAB)" opacity="0.47"/><ellipse cx="180.0" cy="176.6" rx="15.0" ry="7.8" fill="url(#gDarkAB)" opacity="0.57" transform="rotate(-52 180.0 176.6)"/><ellipse cx="191.5" cy="183.4" rx="8" ry="5" fill="url(#gLightAB)" opacity="0.59"/><ellipse cx="181.9" cy="204.0" rx="14.8" ry="7.7" fill="url(#gDarkAB)" opacity="0.21" transform="rotate(-52 181.9 204.0)"/><ellipse cx="193.4" cy="210.8" rx="8" ry="5" fill="url(#gLightAB)" opacity="0.49"/><ellipse cx="179.6" cy="233.1" rx="15.3" ry="8.7" fill="url(#gDarkAB)" opacity="0.43" transform="rotate(-52 179.6 233.1)"/><ellipse cx="191.1" cy="239.9" rx="8" ry="5" fill="url(#gLightAB)" opacity="0.44"/><ellipse cx="161.1" cy="2.1" rx="14.6" ry="8.8" fill="url(#gDarkAB)" opacity="0.45" transform="rotate(-52 161.1 2.1)"/><ellipse cx="172.6" cy="8.8" rx="8" ry="5" fill="url(#gLightAB)" opacity="0.37"/><ellipse cx="160.3" cy="30.4" rx="15.8" ry="8.0" fill="url(#gDarkAB)" opacity="0.50" transform="rotate(-52 160.3 30.4)"/><ellipse cx="171.8" cy="37.2" rx="8" ry="5" fill="url(#gLightAB)" opacity="0.55"/><ellipse cx="162.2" cy="58.7" rx="14.1" ry="8.7" fill="url(#gDarkAB)" opacity="0.25" transform="rotate(-52 162.2 58.7)"/><ellipse cx="173.7" cy="65.5" rx="8" ry="5" fill="url(#gLightAB)" opacity="0.53"/><ellipse cx="157.9" cy="83.4" rx="15.3" ry="8.3" fill="url(#gDarkAB)" opacity="0.49" transform="rotate(-52 157.9 83.4)"/><ellipse cx="169.4" cy="90.1" rx="8" ry="5" fill="url(#gLightAB)" opacity="0.28"/><ellipse cx="158.8" cy="109.0" rx="14.3" ry="8.7" fill="url(#gDarkAB)" opacity="0.33" transform="rotate(-52 158.8 109.0)"/><ellipse cx="170.3" cy="115.8" rx="8" ry="5" fill="url(#gLightAB)" opacity="0.44"/><ellipse cx="158.3" cy="136.8" rx="15.0" ry="8.2" fill="url(#gDarkAB)" opacity="0.33" transform="rotate(-52 158.3 136.8)"/><ellipse cx="169.8" cy="143.5" rx="8" ry="5" fill="url(#gLightAB)" opacity="0.27"/><ellipse cx="159.4" cy="165.1" rx="14.6" ry="8.4" fill="url(#gDarkAB)" opacity="0.59" transform="rotate(-52 159.4 165.1)"/><ellipse cx="170.9" cy="171.9" rx="8" ry="5" fill="url(#gLightAB)" opacity="0.37"/><ellipse cx="158.0" cy="193.5" rx="15.0" ry="8.1" fill="url(#gDarkAB)" opacity="0.59" transform="rotate(-52 158.0 193.5)"/><ellipse cx="169.5" cy="200.2" rx="8" ry="5" fill="url(#gLightAB)" opacity="0.23"/><ellipse cx="158.4" cy="218.4" rx="13.2" ry="7.6" fill="url(#gDarkAB)" opacity="0.35" transform="rotate(-52 158.4 218.4)"/><ellipse cx="169.9" cy="225.1" rx="8" ry="5" fill="url(#gLightAB)" opacity="0.36"/><ellipse cx="137.7" cy="-12.0" rx="13.2" ry="8.4" fill="url(#gDarkAB)" opacity="0.44" transform="rotate(-52 137.7 -12.0)"/><ellipse cx="149.2" cy="-5.3" rx="8" ry="5" fill="url(#gLightAB)" opacity="0.41"/><ellipse cx="138.2" cy="14.8" rx="14.4" ry="7.7" fill="url(#gDarkAB)" opacity="0.23" transform="rotate(-52 138.2 14.8)"/><ellipse cx="149.7" cy="21.5" rx="8" ry="5" fill="url(#gLightAB)" opacity="0.46"/><ellipse cx="136.8" cy="43.8" rx="14.8" ry="8.3" fill="url(#gDarkAB)" opacity="0.50" transform="rotate(-52 136.8 43.8)"/><ellipse cx="148.3" cy="50.5" rx="8" ry="5" fill="url(#gLightAB)" opacity="0.28"/><ellipse cx="136.4" cy="72.2" rx="13.9" ry="8.2" fill="url(#gDarkAB)" opacity="0.31" transform="rotate(-52 136.4 72.2)"/><ellipse cx="147.9" cy="79.0" rx="8" ry="5" fill="url(#gLightAB)" opacity="0.42"/><ellipse cx="137.6" cy="96.5" rx="13.1" ry="8.7" fill="url(#gDarkAB)" opacity="0.59" transform="rotate(-52 137.6 96.5)"/><ellipse cx="149.1" cy="103.2" rx="8" ry="5" fill="url(#gLightAB)" opacity="0.43"/><ellipse cx="137.5" cy="122.9" rx="15.8" ry="8.5" fill="url(#gDarkAB)" opacity="0.48" transform="rotate(-52 137.5 122.9)"/><ellipse cx="149.0" cy="129.7" rx="8" ry="5" fill="url(#gLightAB)" opacity="0.24"/><ellipse cx="137.1" cy="153.2" rx="15.5" ry="7.6" fill="url(#gDarkAB)" opacity="0.24" transform="rotate(-52 137.1 153.2)"/><ellipse cx="148.6" cy="159.9" rx="8" ry="5" fill="url(#gLightAB)" opacity="0.23"/><ellipse cx="136.0" cy="179.2" rx="14.9" ry="8.3" fill="url(#gDarkAB)" opacity="0.58" transform="rotate(-52 136.0 179.2)"/><ellipse cx="147.5" cy="185.9" rx="8" ry="5" fill="url(#gLightAB)" opacity="0.31"/><ellipse cx="134.6" cy="207.3" rx="15.6" ry="7.8" fill="url(#gDarkAB)" opacity="0.46" transform="rotate(-52 134.6 207.3)"/><ellipse cx="146.1" cy="214.0" rx="8" ry="5" fill="url(#gLightAB)" opacity="0.49"/><ellipse cx="134.7" cy="230.6" rx="13.5" ry="7.8" fill="url(#gDarkAB)" opacity="0.53" transform="rotate(-52 134.7 230.6)"/><ellipse cx="146.2" cy="237.3" rx="8" ry="5" fill="url(#gLightAB)" opacity="0.22"/><ellipse cx="115.6" cy="3.1" rx="14.9" ry="7.7" fill="url(#gDarkAB)" opacity="0.52" transform="rotate(-52 115.6 3.1)"/><ellipse cx="127.1" cy="9.8" rx="8" ry="5" fill="url(#gLightAB)" opacity="0.52"/><ellipse cx="114.2" cy="30.1" rx="15.7" ry="8.1" fill="url(#gDarkAB)" opacity="0.40" transform="rotate(-52 114.2 30.1)"/><ellipse cx="125.7" cy="36.9" rx="8" ry="5" fill="url(#gLightAB)" opacity="0.54"/><ellipse cx="112.6" cy="56.1" rx="14.8" ry="8.7" fill="url(#gDarkAB)" opacity="0.47" transform="rotate(-52 112.6 56.1)"/><ellipse cx="124.1" cy="62.9" rx="8" ry="5" fill="url(#gLightAB)" opacity="0.28"/><ellipse cx="114.9" cy="85.0" rx="13.4" ry="8.4" fill="url(#gDarkAB)" opacity="0.26" transform="rotate(-52 114.9 85.0)"/><ellipse cx="126.4" cy="91.7" rx="8" ry="5" fill="url(#gLightAB)" opacity="0.59"/><ellipse cx="113.6" cy="110.5" rx="15.4" ry="8.3" fill="url(#gDarkAB)" opacity="0.40" transform="rotate(-52 113.6 110.5)"/><ellipse cx="125.1" cy="117.3" rx="8" ry="5" fill="url(#gLightAB)" opacity="0.41"/><ellipse cx="113.0" cy="139.5" rx="15.5" ry="7.9" fill="url(#gDarkAB)" opacity="0.52" transform="rotate(-52 113.0 139.5)"/><ellipse cx="124.5" cy="146.3" rx="8" ry="5" fill="url(#gLightAB)" opacity="0.44"/><ellipse cx="113.4" cy="165.7" rx="15.7" ry="7.7" fill="url(#gDarkAB)" opacity="0.58" transform="rotate(-52 113.4 165.7)"/><ellipse cx="124.9" cy="172.4" rx="8" ry="5" fill="url(#gLightAB)" opacity="0.40"/><ellipse cx="111.0" cy="190.6" rx="16.0" ry="8.7" fill="url(#gDarkAB)" opacity="0.40" transform="rotate(-52 111.0 190.6)"/><ellipse cx="122.5" cy="197.4" rx="8" ry="5" fill="url(#gLightAB)" opacity="0.24"/><ellipse cx="110.0" cy="218.3" rx="14.4" ry="7.7" fill="url(#gDarkAB)" opacity="0.55" transform="rotate(-52 110.0 218.3)"/><ellipse cx="121.5" cy="225.0" rx="8" ry="5" fill="url(#gLightAB)" opacity="0.42"/><ellipse cx="109.5" cy="244.0" rx="16.0" ry="8.7" fill="url(#gDarkAB)" opacity="0.44" transform="rotate(-52 109.5 244.0)"/><ellipse cx="121.0" cy="250.7" rx="8" ry="5" fill="url(#gLightAB)" opacity="0.49"/><ellipse cx="93.2" cy="-9.7" rx="13.2" ry="8.9" fill="url(#gDarkAB)" opacity="0.38" transform="rotate(-52 93.2 -9.7)"/><ellipse cx="104.7" cy="-2.9" rx="8" ry="5" fill="url(#gLightAB)" opacity="0.31"/><ellipse cx="93.0" cy="16.2" rx="14.0" ry="7.6" fill="url(#gDarkAB)" opacity="0.51" transform="rotate(-52 93.0 16.2)"/><ellipse cx="104.5" cy="22.9" rx="8" ry="5" fill="url(#gLightAB)" opacity="0.37"/><ellipse cx="91.5" cy="44.5" rx="15.0" ry="8.1" fill="url(#gDarkAB)" opacity="0.36" transform="rotate(-52 91.5 44.5)"/><ellipse cx="103.0" cy="51.2" rx="8" ry="5" fill="url(#gLightAB)" opacity="0.49"/><ellipse cx="89.7" cy="71.8" rx="13.1" ry="8.8" fill="url(#gDarkAB)" opacity="0.58" transform="rotate(-52 89.7 71.8)"/><ellipse cx="101.2" cy="78.6" rx="8" ry="5" fill="url(#gLightAB)" opacity="0.51"/><ellipse cx="91.2" cy="95.7" rx="15.3" ry="8.4" fill="url(#gDarkAB)" opacity="0.49" transform="rotate(-52 91.2 95.7)"/><ellipse cx="102.7" cy="102.5" rx="8" ry="5" fill="url(#gLightAB)" opacity="0.59"/><ellipse cx="91.7" cy="124.8" rx="13.4" ry="7.9" fill="url(#gDarkAB)" opacity="0.57" transform="rotate(-52 91.7 124.8)"/><ellipse cx="103.2" cy="131.6" rx="8" ry="5" fill="url(#gLightAB)" opacity="0.41"/><ellipse cx="89.5" cy="153.1" rx="14.9" ry="8.4" fill="url(#gDarkAB)" opacity="0.45" transform="rotate(-52 89.5 153.1)"/><ellipse cx="101.0" cy="159.9" rx="8" ry="5" fill="url(#gLightAB)" opacity="0.58"/><ellipse cx="88.4" cy="179.3" rx="14.2" ry="8.0" fill="url(#gDarkAB)" opacity="0.44" transform="rotate(-52 88.4 179.3)"/><ellipse cx="99.9" cy="186.0" rx="8" ry="5" fill="url(#gLightAB)" opacity="0.26"/><ellipse cx="86.3" cy="204.6" rx="13.2" ry="8.2" fill="url(#gDarkAB)" opacity="0.32" transform="rotate(-52 86.3 204.6)"/><ellipse cx="97.8" cy="211.4" rx="8" ry="5" fill="url(#gLightAB)" opacity="0.34"/><ellipse cx="89.5" cy="233.4" rx="15.5" ry="7.9" fill="url(#gDarkAB)" opacity="0.47" transform="rotate(-52 89.5 233.4)"/><ellipse cx="101.0" cy="240.2" rx="8" ry="5" fill="url(#gLightAB)" opacity="0.25"/><ellipse cx="67.7" cy="3.3" rx="13.8" ry="8.9" fill="url(#gDarkAB)" opacity="0.48" transform="rotate(-52 67.7 3.3)"/><ellipse cx="79.2" cy="10.1" rx="8" ry="5" fill="url(#gLightAB)" opacity="0.59"/><ellipse cx="69.6" cy="31.7" rx="13.4" ry="8.6" fill="url(#gDarkAB)" opacity="0.59" transform="rotate(-52 69.6 31.7)"/><ellipse cx="81.1" cy="38.5" rx="8" ry="5" fill="url(#gLightAB)" opacity="0.50"/><ellipse cx="69.2" cy="56.2" rx="14.8" ry="8.8" fill="url(#gDarkAB)" opacity="0.42" transform="rotate(-52 69.2 56.2)"/><ellipse cx="80.7" cy="62.9" rx="8" ry="5" fill="url(#gLightAB)" opacity="0.22"/><ellipse cx="67.2" cy="83.1" rx="13.3" ry="7.6" fill="url(#gDarkAB)" opacity="0.52" transform="rotate(-52 67.2 83.1)"/><ellipse cx="78.7" cy="89.8" rx="8" ry="5" fill="url(#gLightAB)" opacity="0.25"/><ellipse cx="65.6" cy="110.5" rx="14.1" ry="7.7" fill="url(#gDarkAB)" opacity="0.55" transform="rotate(-52 65.6 110.5)"/><ellipse cx="77.1" cy="117.3" rx="8" ry="5" fill="url(#gLightAB)" opacity="0.47"/><ellipse cx="66.0" cy="138.1" rx="14.4" ry="8.6" fill="url(#gDarkAB)" opacity="0.50" transform="rotate(-52 66.0 138.1)"/><ellipse cx="77.5" cy="144.8" rx="8" ry="5" fill="url(#gLightAB)" opacity="0.45"/><ellipse cx="67.5" cy="165.8" rx="15.2" ry="7.9" fill="url(#gDarkAB)" opacity="0.56" transform="rotate(-52 67.5 165.8)"/><ellipse cx="79.0" cy="172.6" rx="8" ry="5" fill="url(#gLightAB)" opacity="0.40"/><ellipse cx="66.7" cy="192.9" rx="15.5" ry="8.7" fill="url(#gDarkAB)" opacity="0.49" transform="rotate(-52 66.7 192.9)"/><ellipse cx="78.2" cy="199.7" rx="8" ry="5" fill="url(#gLightAB)" opacity="0.42"/><ellipse cx="65.6" cy="217.0" rx="15.2" ry="8.9" fill="url(#gDarkAB)" opacity="0.39" transform="rotate(-52 65.6 217.0)"/><ellipse cx="77.1" cy="223.7" rx="8" ry="5" fill="url(#gLightAB)" opacity="0.54"/><ellipse cx="64.2" cy="244.7" rx="15.0" ry="7.8" fill="url(#gDarkAB)" opacity="0.55" transform="rotate(-52 64.2 244.7)"/><ellipse cx="75.7" cy="251.5" rx="8" ry="5" fill="url(#gLightAB)" opacity="0.22"/><ellipse cx="45.1" cy="-8.7" rx="15.3" ry="8.7" fill="url(#gDarkAB)" opacity="0.43" transform="rotate(-52 45.1 -8.7)"/><ellipse cx="56.6" cy="-2.0" rx="8" ry="5" fill="url(#gLightAB)" opacity="0.30"/><ellipse cx="46.2" cy="15.0" rx="14.3" ry="8.7" fill="url(#gDarkAB)" opacity="0.44" transform="rotate(-52 46.2 15.0)"/><ellipse cx="57.7" cy="21.7" rx="8" ry="5" fill="url(#gLightAB)" opacity="0.25"/><ellipse cx="44.4" cy="42.8" rx="14.2" ry="8.9" fill="url(#gDarkAB)" opacity="0.20" transform="rotate(-52 44.4 42.8)"/><ellipse cx="55.9" cy="49.6" rx="8" ry="5" fill="url(#gLightAB)" opacity="0.55"/><ellipse cx="43.7" cy="71.6" rx="13.7" ry="8.5" fill="url(#gDarkAB)" opacity="0.29" transform="rotate(-52 43.7 71.6)"/><ellipse cx="55.2" cy="78.4" rx="8" ry="5" fill="url(#gLightAB)" opacity="0.32"/><ellipse cx="43.3" cy="95.6" rx="13.6" ry="8.9" fill="url(#gDarkAB)" opacity="0.27" transform="rotate(-52 43.3 95.6)"/><ellipse cx="54.8" cy="102.4" rx="8" ry="5" fill="url(#gLightAB)" opacity="0.22"/><ellipse cx="44.1" cy="123.1" rx="13.0" ry="8.1" fill="url(#gDarkAB)" opacity="0.49" transform="rotate(-52 44.1 123.1)"/><ellipse cx="55.6" cy="129.9" rx="8" ry="5" fill="url(#gLightAB)" opacity="0.50"/><ellipse cx="41.5" cy="150.9" rx="14.5" ry="8.4" fill="url(#gDarkAB)" opacity="0.33" transform="rotate(-52 41.5 150.9)"/><ellipse cx="53.0" cy="157.7" rx="8" ry="5" fill="url(#gLightAB)" opacity="0.23"/><ellipse cx="44.3" cy="177.4" rx="13.4" ry="7.6" fill="url(#gDarkAB)" opacity="0.51" transform="rotate(-52 44.3 177.4)"/><ellipse cx="55.8" cy="184.1" rx="8" ry="5" fill="url(#gLightAB)" opacity="0.28"/><ellipse cx="40.6" cy="204.3" rx="13.3" ry="8.8" fill="url(#gDarkAB)" opacity="0.26" transform="rotate(-52 40.6 204.3)"/><ellipse cx="52.1" cy="211.0" rx="8" ry="5" fill="url(#gLightAB)" opacity="0.41"/><ellipse cx="41.7" cy="232.3" rx="13.1" ry="7.6" fill="url(#gDarkAB)" opacity="0.52" transform="rotate(-52 41.7 232.3)"/><ellipse cx="53.2" cy="239.1" rx="8" ry="5" fill="url(#gLightAB)" opacity="0.47"/><ellipse cx="22.6" cy="3.1" rx="15.3" ry="8.9" fill="url(#gDarkAB)" opacity="0.21" transform="rotate(-52 22.6 3.1)"/><ellipse cx="34.1" cy="9.9" rx="8" ry="5" fill="url(#gLightAB)" opacity="0.42"/><ellipse cx="23.5" cy="31.1" rx="15.5" ry="8.2" fill="url(#gDarkAB)" opacity="0.54" transform="rotate(-52 23.5 31.1)"/><ellipse cx="35.0" cy="37.9" rx="8" ry="5" fill="url(#gLightAB)" opacity="0.24"/><ellipse cx="23.4" cy="58.2" rx="13.9" ry="9.0" fill="url(#gDarkAB)" opacity="0.48" transform="rotate(-52 23.4 58.2)"/><ellipse cx="34.9" cy="64.9" rx="8" ry="5" fill="url(#gLightAB)" opacity="0.45"/><ellipse cx="21.0" cy="84.9" rx="13.7" ry="8.9" fill="url(#gDarkAB)" opacity="0.29" transform="rotate(-52 21.0 84.9)"/><ellipse cx="32.5" cy="91.7" rx="8" ry="5" fill="url(#gLightAB)" opacity="0.22"/><ellipse cx="22.7" cy="110.4" rx="15.1" ry="8.9" fill="url(#gDarkAB)" opacity="0.43" transform="rotate(-52 22.7 110.4)"/><ellipse cx="34.2" cy="117.1" rx="8" ry="5" fill="url(#gLightAB)" opacity="0.29"/><ellipse cx="19.0" cy="137.8" rx="14.3" ry="7.7" fill="url(#gDarkAB)" opacity="0.29" transform="rotate(-52 19.0 137.8)"/><ellipse cx="30.5" cy="144.6" rx="8" ry="5" fill="url(#gLightAB)" opacity="0.24"/><ellipse cx="20.4" cy="163.0" rx="14.2" ry="7.6" fill="url(#gDarkAB)" opacity="0.31" transform="rotate(-52 20.4 163.0)"/><ellipse cx="31.9" cy="169.8" rx="8" ry="5" fill="url(#gLightAB)" opacity="0.52"/><ellipse cx="21.2" cy="189.9" rx="13.5" ry="8.6" fill="url(#gDarkAB)" opacity="0.52" transform="rotate(-52 21.2 189.9)"/><ellipse cx="32.7" cy="196.7" rx="8" ry="5" fill="url(#gLightAB)" opacity="0.22"/><ellipse cx="20.0" cy="220.5" rx="13.5" ry="8.0" fill="url(#gDarkAB)" opacity="0.30" transform="rotate(-52 20.0 220.5)"/><ellipse cx="31.5" cy="227.3" rx="8" ry="5" fill="url(#gLightAB)" opacity="0.54"/><ellipse cx="19.6" cy="244.4" rx="15.2" ry="8.9" fill="url(#gDarkAB)" opacity="0.56" transform="rotate(-52 19.6 244.4)"/><ellipse cx="31.1" cy="251.2" rx="8" ry="5" fill="url(#gLightAB)" opacity="0.59"/><ellipse cx="-1.3" cy="-11.9" rx="13.7" ry="7.8" fill="url(#gDarkAB)" opacity="0.41" transform="rotate(-52 -1.3 -11.9)"/><ellipse cx="10.2" cy="-5.2" rx="8" ry="5" fill="url(#gLightAB)" opacity="0.34"/><ellipse cx="-0.1" cy="18.0" rx="14.7" ry="8.6" fill="url(#gDarkAB)" opacity="0.43" transform="rotate(-52 -0.1 18.0)"/><ellipse cx="11.4" cy="24.7" rx="8" ry="5" fill="url(#gLightAB)" opacity="0.28"/><ellipse cx="0.7" cy="44.4" rx="14.4" ry="8.3" fill="url(#gDarkAB)" opacity="0.53" transform="rotate(-52 0.7 44.4)"/><ellipse cx="12.2" cy="51.1" rx="8" ry="5" fill="url(#gLightAB)" opacity="0.23"/><ellipse cx="-1.2" cy="70.9" rx="15.7" ry="8.0" fill="url(#gDarkAB)" opacity="0.58" transform="rotate(-52 -1.2 70.9)"/><ellipse cx="10.3" cy="77.6" rx="8" ry="5" fill="url(#gLightAB)" opacity="0.50"/><ellipse cx="-0.1" cy="99.1" rx="14.0" ry="8.8" fill="url(#gDarkAB)" opacity="0.47" transform="rotate(-52 -0.1 99.1)"/><ellipse cx="11.4" cy="105.9" rx="8" ry="5" fill="url(#gLightAB)" opacity="0.21"/><ellipse cx="-1.8" cy="124.1" rx="14.9" ry="7.8" fill="url(#gDarkAB)" opacity="0.55" transform="rotate(-52 -1.8 124.1)"/><ellipse cx="9.7" cy="130.9" rx="8" ry="5" fill="url(#gLightAB)" opacity="0.27"/><ellipse cx="-4.5" cy="152.3" rx="14.1" ry="7.8" fill="url(#gDarkAB)" opacity="0.51" transform="rotate(-52 -4.5 152.3)"/><ellipse cx="7.0" cy="159.1" rx="8" ry="5" fill="url(#gLightAB)" opacity="0.42"/><ellipse cx="-4.4" cy="178.4" rx="14.0" ry="8.5" fill="url(#gDarkAB)" opacity="0.34" transform="rotate(-52 -4.4 178.4)"/><ellipse cx="7.1" cy="185.2" rx="8" ry="5" fill="url(#gLightAB)" opacity="0.30"/><ellipse cx="-4.4" cy="205.6" rx="13.5" ry="8.0" fill="url(#gDarkAB)" opacity="0.58" transform="rotate(-52 -4.4 205.6)"/><ellipse cx="7.1" cy="212.3" rx="8" ry="5" fill="url(#gLightAB)" opacity="0.31"/><ellipse cx="-5.0" cy="232.3" rx="13.5" ry="8.6" fill="url(#gDarkAB)" opacity="0.53" transform="rotate(-52 -5.0 232.3)"/><ellipse cx="6.5" cy="239.0" rx="8" ry="5" fill="url(#gLightAB)" opacity="0.37"/></g><g filter="url(#b4)"><ellipse cx="176.4" cy="168.0" rx="16.6" ry="9.4" fill="#8a1800" opacity="0.32" transform="rotate(-52 176.4 168.0)"/><ellipse cx="116.2" cy="218.6" rx="15.8" ry="6.8" fill="#ff8a14" opacity="0.21" transform="rotate(-52 116.2 218.6)"/><ellipse cx="141.9" cy="70.1" rx="17.9" ry="9.3" fill="#ff8a14" opacity="0.25" transform="rotate(-52 141.9 70.1)"/><ellipse cx="81.9" cy="134.9" rx="14.4" ry="8.8" fill="#8a1800" opacity="0.24" transform="rotate(-52 81.9 134.9)"/><ellipse cx="115.0" cy="29.6" rx="15.3" ry="7.8" fill="#ff8a14" opacity="0.30" transform="rotate(-52 115.0 29.6)"/><ellipse cx="203.2" cy="151.0" rx="14.0" ry="7.7" fill="#ff8a14" opacity="0.30" transform="rotate(-52 203.2 151.0)"/><ellipse cx="157.0" cy="97.7" rx="10.5" ry="6.2" fill="#8a1800" opacity="0.21" transform="rotate(-52 157.0 97.7)"/><ellipse cx="78.4" cy="82.9" rx="12.3" ry="7.8" fill="#8a1800" opacity="0.20" transform="rotate(-52 78.4 82.9)"/><ellipse cx="61.4" cy="54.2" rx="10.6" ry="6.1" fill="#8a1800" opacity="0.34" transform="rotate(-52 61.4 54.2)"/><ellipse cx="100.2" cy="210.0" rx="19.7" ry="8.7" fill="#ff8a14" opacity="0.26" transform="rotate(-52 100.2 210.0)"/><ellipse cx="193.1" cy="197.2" rx="17.9" ry="7.6" fill="#8a1800" opacity="0.20" transform="rotate(-52 193.1 197.2)"/><ellipse cx="211.5" cy="7.5" rx="14.1" ry="9.3" fill="#ff8a14" opacity="0.34" transform="rotate(-52 211.5 7.5)"/><ellipse cx="121.7" cy="103.0" rx="11.5" ry="7.2" fill="#8a1800" opacity="0.35" transform="rotate(-52 121.7 103.0)"/><ellipse cx="11.7" cy="-6.1" rx="14.7" ry="7.4" fill="#8a1800" opacity="0.16" transform="rotate(-52 11.7 -6.1)"/><ellipse cx="-5.6" cy="104.1" rx="15.4" ry="7.3" fill="#8a1800" opacity="0.21" transform="rotate(-52 -5.6 104.1)"/><ellipse cx="3.4" cy="219.0" rx="16.6" ry="8.3" fill="#ff8a14" opacity="0.22" transform="rotate(-52 3.4 219.0)"/><ellipse cx="51.2" cy="122.4" rx="14.5" ry="6.2" fill="#8a1800" opacity="0.22" transform="rotate(-52 51.2 122.4)"/><ellipse cx="46.6" cy="232.0" rx="20.0" ry="7.3" fill="#ff8a14" opacity="0.25" transform="rotate(-52 46.6 232.0)"/><ellipse cx="199.4" cy="69.3" rx="18.7" ry="6.5" fill="#ff8a14" opacity="0.29" transform="rotate(-52 199.4 69.3)"/><ellipse cx="87.0" cy="74.8" rx="11.4" ry="7.6" fill="#ff8a14" opacity="0.41" transform="rotate(-52 87.0 74.8)"/><ellipse cx="32.5" cy="6.2" rx="13.0" ry="7.7" fill="#8a1800" opacity="0.17" transform="rotate(-52 32.5 6.2)"/><ellipse cx="212.5" cy="150.4" rx="13.2" ry="7.6" fill="#ff8a14" opacity="0.25" transform="rotate(-52 212.5 150.4)"/><ellipse cx="47.3" cy="-5.1" rx="10.5" ry="8.0" fill="#8a1800" opacity="0.38" transform="rotate(-52 47.3 -5.1)"/><ellipse cx="47.1" cy="177.6" rx="17.2" ry="7.8" fill="#8a1800" opacity="0.28" transform="rotate(-52 47.1 177.6)"/><ellipse cx="25.3" cy="208.7" rx="18.2" ry="9.5" fill="#8a1800" opacity="0.38" transform="rotate(-52 25.3 208.7)"/><ellipse cx="202.9" cy="80.9" rx="15.8" ry="7.5" fill="#ff8a14" opacity="0.29" transform="rotate(-52 202.9 80.9)"/><ellipse cx="200.2" cy="65.7" rx="10.6" ry="9.5" fill="#ff8a14" opacity="0.17" transform="rotate(-52 200.2 65.7)"/><ellipse cx="77.7" cy="82.1" rx="11.6" ry="8.2" fill="#ff8a14" opacity="0.37" transform="rotate(-52 77.7 82.1)"/><ellipse cx="108.8" cy="138.7" rx="19.4" ry="8.4" fill="#8a1800" opacity="0.22" transform="rotate(-52 108.8 138.7)"/><ellipse cx="125.5" cy="160.2" rx="17.8" ry="7.9" fill="#ff8a14" opacity="0.20" transform="rotate(-52 125.5 160.2)"/><ellipse cx="27.0" cy="67.8" rx="19.0" ry="8.0" fill="#ff8a14" opacity="0.40" transform="rotate(-52 27.0 67.8)"/><ellipse cx="146.5" cy="87.5" rx="13.6" ry="9.9" fill="#ff8a14" opacity="0.31" transform="rotate(-52 146.5 87.5)"/><ellipse cx="113.2" cy="-0.1" rx="12.8" ry="7.8" fill="#ff8a14" opacity="0.18" transform="rotate(-52 113.2 -0.1)"/><ellipse cx="42.1" cy="100.5" rx="16.5" ry="8.7" fill="#8a1800" opacity="0.28" transform="rotate(-52 42.1 100.5)"/><ellipse cx="2.4" cy="48.3" rx="14.6" ry="9.4" fill="#8a1800" opacity="0.23" transform="rotate(-52 2.4 48.3)"/><ellipse cx="-6.5" cy="189.3" rx="18.5" ry="9.9" fill="#8a1800" opacity="0.34" transform="rotate(-52 -6.5 189.3)"/><ellipse cx="131.6" cy="3.6" rx="16.7" ry="9.9" fill="#8a1800" opacity="0.26" transform="rotate(-52 131.6 3.6)"/><ellipse cx="205.6" cy="5.5" rx="12.1" ry="8.3" fill="#8a1800" opacity="0.31" transform="rotate(-52 205.6 5.5)"/><ellipse cx="115.3" cy="124.1" rx="12.9" ry="7.4" fill="#8a1800" opacity="0.38" transform="rotate(-52 115.3 124.1)"/><ellipse cx="29.8" cy="61.3" rx="10.2" ry="7.0" fill="#8a1800" opacity="0.31" transform="rotate(-52 29.8 61.3)"/></g><g filter="url(#bx)"><rect x="71.5" y="104.2" width="9.3" height="0.8" fill="#a02800" opacity="0.24"/><rect x="-0.2" y="202.1" width="19.3" height="0.8" fill="#a02800" opacity="0.21"/><rect x="90.7" y="158.3" width="23.4" height="1.0" fill="#ff9040" opacity="0.16"/><rect x="206.3" y="113.9" width="20.2" height="1.1" fill="#a02800" opacity="0.29"/><rect x="51.3" y="22.9" width="22.2" height="1.1" fill="#a02800" opacity="0.16"/><rect x="31.4" y="60.0" width="12.7" height="1.0" fill="#a02800" opacity="0.31"/><rect x="-6.6" y="197.9" width="15.1" height="0.8" fill="#ff9040" opacity="0.22"/><rect x="7.5" y="203.9" width="20.3" height="1.3" fill="#ff9040" opacity="0.32"/><rect x="-18.0" y="45.7" width="8.0" height="0.8" fill="#ff9040" opacity="0.16"/><rect x="205.6" y="111.8" width="16.1" height="1.3" fill="#ff9040" opacity="0.16"/><rect x="22.3" y="130.5" width="20.6" height="0.8" fill="#a02800" opacity="0.25"/><rect x="16.6" y="136.4" width="12.4" height="1.6" fill="#a02800" opacity="0.16"/><rect x="213.0" y="158.7" width="11.7" height="0.8" fill="#a02800" opacity="0.21"/><rect x="124.6" y="151.7" width="24.6" height="1.1" fill="#ff9040" opacity="0.31"/><rect x="90.6" y="131.4" width="15.7" height="1.3" fill="#a02800" opacity="0.14"/><rect x="60.5" y="179.9" width="16.4" height="1.2" fill="#ff9040" opacity="0.20"/><rect x="134.2" y="20.0" width="8.5" height="0.8" fill="#a02800" opacity="0.29"/><rect x="101.8" y="181.7" width="23.0" height="1.4" fill="#ff9040" opacity="0.22"/><rect x="216.2" y="52.0" width="15.6" height="1.5" fill="#ff9040" opacity="0.21"/><rect x="21.9" y="150.2" width="26.2" height="0.8" fill="#ff9040" opacity="0.33"/><rect x="211.9" y="38.9" width="29.7" height="0.8" fill="#a02800" opacity="0.15"/><rect x="75.3" y="46.9" width="20.7" height="1.1" fill="#a02800" opacity="0.17"/><rect x="13.6" y="126.4" width="8.1" height="1.4" fill="#a02800" opacity="0.15"/><rect x="152.4" y="101.6" width="24.3" height="1.5" fill="#ff9040" opacity="0.17"/><rect x="169.1" y="161.0" width="27.1" height="0.9" fill="#ff9040" opacity="0.15"/><rect x="22.5" y="119.0" width="21.1" height="1.4" fill="#ff9040" opacity="0.18"/><rect x="23.1" y="2.9" width="17.0" height="1.1" fill="#a02800" opacity="0.17"/><rect x="211.9" y="108.5" width="18.9" height="0.8" fill="#a02800" opacity="0.33"/><rect x="113.4" y="200.0" width="18.6" height="1.5" fill="#ff9040" opacity="0.15"/><rect x="112.8" y="144.6" width="13.2" height="1.4" fill="#a02800" opacity="0.16"/><rect x="91.1" y="157.4" width="17.8" height="0.8" fill="#a02800" opacity="0.26"/><rect x="195.3" y="84.0" width="11.5" height="1.4" fill="#a02800" opacity="0.26"/><rect x="-11.2" y="197.1" width="20.3" height="1.3" fill="#a02800" opacity="0.22"/><rect x="26.3" y="15.5" width="20.6" height="0.9" fill="#ff9040" opacity="0.21"/><rect x="111.2" y="105.8" width="6.6" height="1.1" fill="#a02800" opacity="0.29"/><rect x="213.7" y="1.9" width="20.2" height="1.6" fill="#a02800" opacity="0.30"/><rect x="65.4" y="23.9" width="11.6" height="1.0" fill="#a02800" opacity="0.18"/><rect x="9.4" y="24.9" width="28.5" height="1.1" fill="#a02800" opacity="0.29"/><rect x="107.9" y="105.2" width="14.9" height="1.0" fill="#a02800" opacity="0.19"/><rect x="28.4" y="116.5" width="16.5" height="0.8" fill="#a02800" opacity="0.16"/><rect x="-5.8" y="180.0" width="12.0" height="1.3" fill="#a02800" opacity="0.18"/><rect x="47.4" y="13.2" width="13.2" height="1.6" fill="#a02800" opacity="0.29"/><rect x="208.0" y="202.9" width="27.0" height="1.6" fill="#a02800" opacity="0.16"/><rect x="40.6" y="71.5" width="20.5" height="1.1" fill="#ff9040" opacity="0.30"/><rect x="31.2" y="89.8" width="12.6" height="1.3" fill="#ff9040" opacity="0.25"/><rect x="25.7" y="99.0" width="15.7" height="0.9" fill="#ff9040" opacity="0.25"/><rect x="154.3" y="42.4" width="21.8" height="1.3" fill="#ff9040" opacity="0.21"/><rect x="128.6" y="100.6" width="24.3" height="1.4" fill="#a02800" opacity="0.18"/><rect x="62.2" y="121.9" width="6.5" height="1.2" fill="#a02800" opacity="0.31"/><rect x="184.2" y="72.8" width="18.3" height="1.4" fill="#ff9040" opacity="0.20"/><rect x="-2.5" y="120.0" width="6.3" height="0.8" fill="#a02800" opacity="0.17"/><rect x="3.5" y="36.7" width="25.8" height="1.3" fill="#a02800" opacity="0.22"/><rect x="104.0" y="199.9" width="9.2" height="1.1" fill="#a02800" opacity="0.19"/><rect x="74.3" y="72.1" width="10.4" height="1.5" fill="#a02800" opacity="0.25"/><rect x="147.6" y="2.1" width="6.5" height="1.5" fill="#ff9040" opacity="0.27"/><rect x="164.9" y="204.3" width="12.5" height="1.2" fill="#ff9040" opacity="0.27"/><rect x="61.1" y="52.2" width="24.0" height="1.3" fill="#ff9040" opacity="0.25"/><rect x="-13.6" y="209.0" width="10.5" height="1.3" fill="#a02800" opacity="0.16"/><rect x="31.6" y="30.3" width="19.0" height="1.0" fill="#a02800" opacity="0.18"/><rect x="83.7" y="154.3" width="26.3" height="1.5" fill="#a02800" opacity="0.28"/><rect x="-5.1" y="111.6" width="25.4" height="1.2" fill="#ff9040" opacity="0.26"/><rect x="116.2" y="216.9" width="28.0" height="0.9" fill="#a02800" opacity="0.21"/><rect x="168.0" y="199.9" width="29.3" height="1.2" fill="#ff9040" opacity="0.32"/><rect x="144.2" y="121.5" width="29.4" height="0.8" fill="#ff9040" opacity="0.31"/><rect x="29.1" y="130.7" width="26.0" height="0.9" fill="#ff9040" opacity="0.20"/><rect x="79.4" y="8.1" width="24.7" height="1.6" fill="#ff9040" opacity="0.15"/><rect x="15.2" y="38.9" width="19.8" height="1.3" fill="#ff9040" opacity="0.24"/><rect x="187.0" y="130.7" width="25.0" height="0.9" fill="#a02800" opacity="0.21"/><rect x="77.2" y="216.1" width="12.9" height="0.9" fill="#ff9040" opacity="0.31"/><rect x="3.2" y="143.1" width="29.1" height="1.0" fill="#ff9040" opacity="0.26"/><rect x="65.0" y="213.7" width="6.3" height="0.8" fill="#ff9040" opacity="0.24"/><rect x="188.6" y="70.1" width="10.9" height="1.2" fill="#ff9040" opacity="0.16"/><rect x="35.2" y="69.8" width="10.3" height="1.5" fill="#a02800" opacity="0.21"/><rect x="59.2" y="143.7" width="28.0" height="0.8" fill="#a02800" opacity="0.29"/><rect x="-8.5" y="47.2" width="6.5" height="1.4" fill="#a02800" opacity="0.21"/><rect x="152.8" y="125.5" width="7.8" height="1.4" fill="#a02800" opacity="0.32"/><rect x="120.2" y="13.3" width="18.2" height="1.1" fill="#a02800" opacity="0.27"/><rect x="65.5" y="201.8" width="18.4" height="0.8" fill="#a02800" opacity="0.33"/><rect x="92.0" y="70.4" width="12.9" height="1.2" fill="#a02800" opacity="0.29"/><rect x="195.7" y="23.4" width="25.7" height="1.0" fill="#a02800" opacity="0.19"/><rect x="-4.1" y="101.7" width="28.9" height="1.6" fill="#ff9040" opacity="0.18"/><rect x="175.7" y="145.8" width="21.5" height="0.8" fill="#ff9040" opacity="0.23"/><rect x="211.5" y="87.8" width="29.4" height="1.6" fill="#a02800" opacity="0.17"/><rect x="51.6" y="6.7" width="6.2" height="1.3" fill="#ff9040" opacity="0.18"/><rect x="73.3" y="137.4" width="12.6" height="0.9" fill="#a02800" opacity="0.31"/><rect x="142.4" y="118.5" width="9.5" height="1.5" fill="#a02800" opacity="0.18"/><rect x="140.1" y="106.4" width="17.4" height="1.3" fill="#a02800" opacity="0.20"/><rect x="169.4" y="153.2" width="17.1" height="1.3" fill="#a02800" opacity="0.23"/><rect x="79.9" y="20.0" width="24.7" height="0.9" fill="#a02800" opacity="0.23"/><rect x="110.6" y="132.2" width="9.6" height="1.4" fill="#a02800" opacity="0.24"/><rect x="121.5" y="211.4" width="6.3" height="1.4" fill="#ff9040" opacity="0.16"/><rect x="151.3" y="217.1" width="24.4" height="0.8" fill="#ff9040" opacity="0.31"/><rect x="88.3" y="115.0" width="18.4" height="1.1" fill="#a02800" opacity="0.29"/><rect x="220.2" y="36.4" width="22.7" height="1.2" fill="#ff9040" opacity="0.31"/><rect x="151.3" y="73.3" width="27.8" height="1.0" fill="#a02800" opacity="0.30"/><rect x="178.1" y="136.9" width="7.7" height="1.2" fill="#ff9040" opacity="0.30"/><rect x="-9.7" y="101.7" width="11.0" height="1.5" fill="#a02800" opacity="0.25"/><rect x="169.4" y="18.0" width="26.8" height="1.2" fill="#ff9040" opacity="0.20"/><rect x="159.8" y="12.0" width="9.8" height="1.5" fill="#ff9040" opacity="0.16"/><rect x="179.7" y="170.9" width="12.0" height="1.0" fill="#ff9040" opacity="0.28"/><rect x="162.3" y="219.1" width="17.8" height="1.1" fill="#ff9040" opacity="0.28"/><rect x="40.1" y="60.6" width="22.7" height="1.6" fill="#ff9040" opacity="0.28"/><rect x="-14.8" y="41.4" width="20.4" height="1.2" fill="#ff9040" opacity="0.26"/><rect x="75.1" y="181.9" width="19.1" height="0.9" fill="#a02800" opacity="0.21"/><rect x="67.7" y="182.0" width="28.3" height="0.9" fill="#ff9040" opacity="0.21"/><rect x="70.1" y="104.4" width="11.3" height="1.5" fill="#ff9040" opacity="0.32"/><rect x="42.9" y="140.9" width="20.0" height="0.9" fill="#ff9040" opacity="0.30"/><rect x="19.4" y="60.1" width="25.7" height="1.0" fill="#ff9040" opacity="0.17"/><rect x="147.0" y="200.8" width="10.3" height="1.5" fill="#ff9040" opacity="0.17"/><rect x="149.1" y="160.8" width="20.1" height="1.1" fill="#ff9040" opacity="0.20"/><rect x="16.9" y="145.5" width="17.4" height="1.1" fill="#ff9040" opacity="0.31"/><rect x="138.1" y="127.6" width="21.5" height="1.4" fill="#ff9040" opacity="0.31"/><rect x="108.0" y="167.9" width="26.3" height="1.0" fill="#a02800" opacity="0.17"/><rect x="-15.5" y="75.9" width="11.6" height="0.8" fill="#ff9040" opacity="0.22"/><rect x="97.8" y="1.4" width="26.4" height="0.8" fill="#a02800" opacity="0.28"/><rect x="177.4" y="42.8" width="21.5" height="1.1" fill="#ff9040" opacity="0.33"/><rect x="200.1" y="47.2" width="10.9" height="1.0" fill="#ff9040" opacity="0.15"/><rect x="25.3" y="186.9" width="19.8" height="1.1" fill="#ff9040" opacity="0.29"/><rect x="45.5" y="123.6" width="23.9" height="0.8" fill="#ff9040" opacity="0.28"/><rect x="167.5" y="191.8" width="22.7" height="1.5" fill="#a02800" opacity="0.25"/><rect x="121.9" y="39.9" width="16.2" height="1.1" fill="#a02800" opacity="0.15"/><rect x="14.9" y="43.5" width="23.6" height="1.2" fill="#a02800" opacity="0.20"/><rect x="89.6" y="164.0" width="17.9" height="1.6" fill="#ff9040" opacity="0.23"/><rect x="30.9" y="106.0" width="16.8" height="1.1" fill="#ff9040" opacity="0.29"/><rect x="132.6" y="75.4" width="22.1" height="1.5" fill="#ff9040" opacity="0.15"/><rect x="183.6" y="58.0" width="8.9" height="1.1" fill="#ff9040" opacity="0.33"/><rect x="33.4" y="218.0" width="21.4" height="1.2" fill="#a02800" opacity="0.20"/><rect x="-2.9" y="34.3" width="7.1" height="1.4" fill="#ff9040" opacity="0.26"/><rect x="209.4" y="15.1" width="29.7" height="1.1" fill="#ff9040" opacity="0.31"/><rect x="162.6" y="149.7" width="10.4" height="1.2" fill="#a02800" opacity="0.15"/><rect x="44.8" y="10.8" width="11.6" height="1.5" fill="#ff9040" opacity="0.22"/><rect x="5.7" y="46.8" width="7.3" height="1.1" fill="#ff9040" opacity="0.16"/><rect x="64.4" y="116.2" width="6.5" height="0.9" fill="#ff9040" opacity="0.18"/><rect x="85.0" y="169.2" width="14.6" height="1.4" fill="#a02800" opacity="0.26"/><rect x="155.3" y="213.6" width="14.2" height="0.8" fill="#a02800" opacity="0.18"/><rect x="73.5" y="27.4" width="14.5" height="1.3" fill="#ff9040" opacity="0.21"/><rect x="145.9" y="108.6" width="28.2" height="1.1" fill="#a02800" opacity="0.22"/><rect x="185.7" y="223.0" width="27.1" height="1.0" fill="#ff9040" opacity="0.22"/><rect x="93.6" y="69.5" width="28.7" height="1.2" fill="#ff9040" opacity="0.20"/><rect x="113.6" y="132.5" width="10.4" height="1.4" fill="#ff9040" opacity="0.30"/><rect x="28.9" y="76.1" width="8.4" height="1.3" fill="#a02800" opacity="0.32"/><rect x="120.5" y="152.5" width="20.3" height="1.5" fill="#a02800" opacity="0.17"/><rect x="11.4" y="27.5" width="6.3" height="1.6" fill="#a02800" opacity="0.24"/><rect x="142.3" y="171.1" width="21.7" height="1.6" fill="#ff9040" opacity="0.20"/><rect x="-7.1" y="22.5" width="24.9" height="1.5" fill="#a02800" opacity="0.30"/><rect x="69.0" y="50.9" width="12.7" height="0.8" fill="#a02800" opacity="0.20"/><rect x="136.1" y="147.0" width="6.1" height="0.9" fill="#ff9040" opacity="0.18"/><rect x="-12.5" y="115.1" width="25.9" height="1.3" fill="#ff9040" opacity="0.21"/><rect x="5.5" y="190.8" width="26.8" height="1.2" fill="#ff9040" opacity="0.25"/><rect x="112.9" y="151.3" width="23.3" height="1.2" fill="#ff9040" opacity="0.24"/><rect x="6.2" y="139.4" width="23.0" height="0.8" fill="#ff9040" opacity="0.15"/><rect x="19.7" y="220.2" width="22.4" height="1.3" fill="#ff9040" opacity="0.18"/><rect x="160.9" y="134.8" width="22.2" height="1.4" fill="#ff9040" opacity="0.14"/><rect x="38.1" y="12.2" width="16.8" height="0.8" fill="#a02800" opacity="0.18"/><rect x="59.6" y="118.0" width="8.0" height="0.8" fill="#ff9040" opacity="0.14"/><rect x="57.3" y="189.0" width="23.2" height="1.4" fill="#ff9040" opacity="0.31"/><rect x="127.6" y="4.0" width="27.8" height="0.9" fill="#a02800" opacity="0.28"/><rect x="19.2" y="169.8" width="21.8" height="1.0" fill="#a02800" opacity="0.30"/><rect x="-1.7" y="192.8" width="17.3" height="0.8" fill="#a02800" opacity="0.24"/><rect x="61.5" y="211.0" width="17.9" height="1.5" fill="#a02800" opacity="0.33"/><rect x="225.0" y="20.4" width="14.0" height="0.9" fill="#ff9040" opacity="0.30"/><rect x="92.3" y="132.5" width="17.9" height="1.3" fill="#ff9040" opacity="0.17"/><rect x="44.3" y="161.9" width="6.5" height="0.9" fill="#a02800" opacity="0.30"/><rect x="85.0" y="172.6" width="20.6" height="1.0" fill="#ff9040" opacity="0.31"/><rect x="168.2" y="168.6" width="17.0" height="1.4" fill="#ff9040" opacity="0.33"/><rect x="133.3" y="71.5" width="9.5" height="1.4" fill="#a02800" opacity="0.15"/><rect x="145.6" y="157.6" width="16.5" height="1.5" fill="#a02800" opacity="0.27"/><rect x="217.2" y="106.5" width="21.3" height="1.2" fill="#a02800" opacity="0.29"/><rect x="102.3" y="174.1" width="17.2" height="1.3" fill="#ff9040" opacity="0.28"/><rect x="-3.7" y="92.4" width="22.9" height="1.3" fill="#a02800" opacity="0.17"/><rect x="158.4" y="199.3" width="25.2" height="1.0" fill="#ff9040" opacity="0.24"/><rect x="218.5" y="1.3" width="10.2" height="1.4" fill="#ff9040" opacity="0.19"/><rect x="139.6" y="129.3" width="10.9" height="1.4" fill="#ff9040" opacity="0.31"/><rect x="5.3" y="181.9" width="14.0" height="0.8" fill="#ff9040" opacity="0.31"/><rect x="217.4" y="186.3" width="28.0" height="1.0" fill="#a02800" opacity="0.27"/><rect x="-18.0" y="196.5" width="7.8" height="0.9" fill="#a02800" opacity="0.32"/><rect x="39.8" y="85.4" width="15.0" height="1.3" fill="#a02800" opacity="0.16"/><rect x="64.9" y="184.8" width="25.8" height="1.5" fill="#ff9040" opacity="0.25"/><rect x="222.8" y="79.5" width="29.5" height="1.2" fill="#ff9040" opacity="0.26"/><rect x="46.5" y="152.0" width="28.3" height="1.6" fill="#ff9040" opacity="0.25"/><rect x="205.8" y="206.3" width="12.6" height="1.3" fill="#ff9040" opacity="0.25"/><rect x="66.6" y="75.8" width="12.6" height="1.2" fill="#ff9040" opacity="0.24"/><rect x="187.1" y="98.4" width="16.5" height="1.4" fill="#a02800" opacity="0.24"/><rect x="37.4" y="104.6" width="22.5" height="1.6" fill="#a02800" opacity="0.30"/><rect x="123.0" y="217.9" width="16.8" height="1.3" fill="#a02800" opacity="0.15"/><rect x="125.8" y="192.2" width="26.5" height="1.3" fill="#ff9040" opacity="0.26"/><rect x="196.0" y="138.2" width="15.5" height="1.6" fill="#a02800" opacity="0.16"/><rect x="149.2" y="192.7" width="16.6" height="1.2" fill="#ff9040" opacity="0.17"/><rect x="103.7" y="43.8" width="21.0" height="1.3" fill="#a02800" opacity="0.29"/><rect x="-13.8" y="122.8" width="13.9" height="1.3" fill="#ff9040" opacity="0.20"/><rect x="62.5" y="137.4" width="7.1" height="1.5" fill="#ff9040" opacity="0.23"/><rect x="112.3" y="149.2" width="17.1" height="1.5" fill="#a02800" opacity="0.26"/><rect x="65.6" y="177.4" width="12.6" height="1.2" fill="#ff9040" opacity="0.15"/><rect x="93.3" y="60.4" width="15.0" height="1.1" fill="#ff9040" opacity="0.32"/><rect x="142.2" y="126.5" width="30.0" height="1.6" fill="#a02800" opacity="0.28"/><rect x="129.0" y="182.0" width="30.0" height="1.1" fill="#ff9040" opacity="0.27"/><rect x="84.1" y="21.0" width="28.6" height="1.1" fill="#ff9040" opacity="0.20"/><rect x="189.3" y="139.0" width="13.7" height="0.8" fill="#a02800" opacity="0.19"/><rect x="136.7" y="94.4" width="27.1" height="1.2" fill="#a02800" opacity="0.19"/><rect x="187.3" y="185.0" width="25.0" height="1.3" fill="#a02800" opacity="0.22"/><rect x="70.1" y="128.5" width="22.9" height="1.0" fill="#a02800" opacity="0.28"/><rect x="1.7" y="22.9" width="10.5" height="1.1" fill="#ff9040" opacity="0.22"/><rect x="-6.8" y="203.8" width="26.8" height="1.0" fill="#ff9040" opacity="0.23"/><rect x="119.8" y="100.1" width="6.8" height="0.8" fill="#a02800" opacity="0.17"/><rect x="105.5" y="63.4" width="23.5" height="0.8" fill="#ff9040" opacity="0.22"/><rect x="155.5" y="51.6" width="25.5" height="1.6" fill="#a02800" opacity="0.33"/><rect x="118.9" y="53.9" width="9.1" height="1.4" fill="#ff9040" opacity="0.26"/><rect x="72.0" y="220.9" width="16.2" height="1.4" fill="#a02800" opacity="0.18"/><rect x="169.8" y="88.9" width="7.4" height="1.5" fill="#a02800" opacity="0.27"/><rect x="115.3" y="26.7" width="9.7" height="1.0" fill="#a02800" opacity="0.15"/><rect x="38.2" y="101.5" width="26.7" height="0.9" fill="#ff9040" opacity="0.21"/><rect x="112.3" y="99.1" width="29.1" height="1.5" fill="#ff9040" opacity="0.17"/><rect x="198.1" y="108.3" width="26.1" height="0.9" fill="#a02800" opacity="0.34"/><rect x="142.8" y="81.0" width="8.4" height="1.1" fill="#ff9040" opacity="0.29"/><rect x="74.7" y="170.0" width="12.1" height="1.2" fill="#a02800" opacity="0.19"/><rect x="-6.5" y="28.6" width="8.1" height="1.6" fill="#a02800" opacity="0.30"/><rect x="89.5" y="150.8" width="12.6" height="1.1" fill="#ff9040" opacity="0.30"/><rect x="78.7" y="216.3" width="12.6" height="1.5" fill="#a02800" opacity="0.33"/><rect x="174.6" y="220.4" width="25.9" height="1.4" fill="#ff9040" opacity="0.18"/><rect x="37.6" y="224.1" width="24.4" height="1.5" fill="#a02800" opacity="0.21"/><rect x="-15.9" y="109.5" width="27.0" height="0.9" fill="#a02800" opacity="0.21"/><rect x="96.4" y="87.0" width="13.3" height="1.2" fill="#ff9040" opacity="0.29"/><rect x="89.1" y="105.8" width="15.2" height="1.4" fill="#a02800" opacity="0.28"/><rect x="166.7" y="13.1" width="16.4" height="1.2" fill="#a02800" opacity="0.16"/><rect x="158.1" y="123.0" width="10.1" height="1.0" fill="#a02800" opacity="0.14"/><rect x="75.6" y="10.7" width="11.9" height="1.1" fill="#ff9040" opacity="0.29"/><rect x="120.5" y="115.5" width="27.7" height="1.5" fill="#ff9040" opacity="0.27"/><rect x="205.4" y="162.2" width="9.8" height="1.2" fill="#ff9040" opacity="0.24"/><rect x="37.9" y="221.9" width="12.5" height="1.4" fill="#a02800" opacity="0.20"/><rect x="101.9" y="12.0" width="19.5" height="1.3" fill="#a02800" opacity="0.25"/><rect x="142.5" y="175.7" width="21.0" height="1.4" fill="#ff9040" opacity="0.23"/><rect x="112.6" y="122.0" width="24.7" height="1.5" fill="#ff9040" opacity="0.17"/><rect x="187.1" y="184.6" width="6.9" height="1.5" fill="#a02800" opacity="0.20"/><rect x="210.7" y="34.5" width="11.3" height="1.1" fill="#a02800" opacity="0.33"/><rect x="-1.1" y="125.1" width="11.6" height="0.8" fill="#a02800" opacity="0.18"/><rect x="5.8" y="82.9" width="28.6" height="1.1" fill="#ff9040" opacity="0.21"/><rect x="127.7" y="24.8" width="22.0" height="1.5" fill="#a02800" opacity="0.31"/><rect x="36.4" y="83.9" width="8.2" height="1.3" fill="#a02800" opacity="0.16"/><rect x="197.2" y="162.0" width="6.7" height="1.4" fill="#a02800" opacity="0.28"/><rect x="72.1" y="61.5" width="8.0" height="1.3" fill="#ff9040" opacity="0.32"/><rect x="142.7" y="76.8" width="28.5" height="1.0" fill="#a02800" opacity="0.21"/><rect x="-16.2" y="210.0" width="17.8" height="0.9" fill="#ff9040" opacity="0.25"/><rect x="47.3" y="70.6" width="25.8" height="1.5" fill="#a02800" opacity="0.14"/><rect x="95.8" y="181.3" width="18.1" height="1.2" fill="#a02800" opacity="0.32"/><rect x="-2.7" y="178.4" width="26.8" height="1.2" fill="#ff9040" opacity="0.24"/><rect x="-3.9" y="141.4" width="18.6" height="1.0" fill="#a02800" opacity="0.29"/><rect x="91.2" y="115.7" width="10.5" height="1.1" fill="#ff9040" opacity="0.23"/><rect x="149.1" y="209.8" width="9.9" height="1.5" fill="#ff9040" opacity="0.15"/><rect x="177.1" y="209.7" width="26.7" height="1.5" fill="#ff9040" opacity="0.24"/><rect x="46.0" y="98.5" width="14.1" height="1.0" fill="#a02800" opacity="0.33"/><rect x="196.7" y="175.8" width="22.2" height="1.0" fill="#a02800" opacity="0.17"/><rect x="134.8" y="21.6" width="27.7" height="1.2" fill="#ff9040" opacity="0.19"/><rect x="200.3" y="147.1" width="23.2" height="1.5" fill="#ff9040" opacity="0.23"/><rect x="180.2" y="213.7" width="23.4" height="1.1" fill="#a02800" opacity="0.22"/><rect x="146.5" y="76.0" width="26.9" height="1.2" fill="#ff9040" opacity="0.20"/><rect x="29.8" y="67.3" width="26.7" height="1.4" fill="#ff9040" opacity="0.17"/><rect x="118.6" y="168.5" width="28.6" height="1.0" fill="#ff9040" opacity="0.15"/><rect x="169.3" y="178.2" width="6.4" height="1.4" fill="#ff9040" opacity="0.21"/><rect x="71.0" y="25.8" width="20.1" height="1.3" fill="#ff9040" opacity="0.14"/><rect x="76.7" y="105.0" width="27.7" height="1.5" fill="#a02800" opacity="0.23"/><rect x="142.6" y="164.8" width="27.3" height="1.4" fill="#ff9040" opacity="0.24"/><rect x="46.3" y="94.1" width="8.0" height="1.3" fill="#ff9040" opacity="0.33"/><rect x="197.1" y="39.5" width="24.9" height="1.2" fill="#a02800" opacity="0.23"/><rect x="167.9" y="132.1" width="27.3" height="1.5" fill="#ff9040" opacity="0.30"/><rect x="55.4" y="197.4" width="13.5" height="1.5" fill="#a02800" opacity="0.22"/><rect x="47.3" y="94.8" width="9.8" height="1.0" fill="#ff9040" opacity="0.18"/><rect x="166.3" y="134.8" width="18.7" height="1.0" fill="#ff9040" opacity="0.23"/><rect x="81.4" y="37.3" width="9.8" height="1.4" fill="#a02800" opacity="0.16"/><rect x="60.1" y="35.7" width="11.0" height="1.2" fill="#a02800" opacity="0.14"/><rect x="140.9" y="79.3" width="27.9" height="1.5" fill="#ff9040" opacity="0.17"/><rect x="154.3" y="55.4" width="20.3" height="0.9" fill="#ff9040" opacity="0.24"/><rect x="198.8" y="52.1" width="29.3" height="1.3" fill="#a02800" opacity="0.16"/><rect x="83.0" y="20.3" width="15.1" height="1.5" fill="#a02800" opacity="0.23"/><rect x="219.6" y="160.0" width="11.3" height="0.9" fill="#ff9040" opacity="0.29"/><rect x="153.8" y="126.0" width="29.3" height="1.3" fill="#ff9040" opacity="0.24"/><rect x="102.4" y="104.7" width="19.2" height="1.2" fill="#a02800" opacity="0.30"/><rect x="202.1" y="79.1" width="19.9" height="1.2" fill="#a02800" opacity="0.28"/><rect x="151.2" y="101.7" width="25.7" height="1.2" fill="#ff9040" opacity="0.20"/><rect x="-6.0" y="16.9" width="23.8" height="1.3" fill="#ff9040" opacity="0.15"/><rect x="89.5" y="37.5" width="23.3" height="1.1" fill="#a02800" opacity="0.24"/><rect x="-8.0" y="142.2" width="16.0" height="0.8" fill="#ff9040" opacity="0.24"/><rect x="152.6" y="113.7" width="9.0" height="1.3" fill="#a02800" opacity="0.21"/><rect x="183.8" y="6.8" width="21.5" height="1.6" fill="#a02800" opacity="0.19"/><rect x="100.0" y="139.9" width="24.8" height="1.2" fill="#ff9040" opacity="0.15"/><rect x="-6.9" y="208.1" width="17.4" height="1.0" fill="#a02800" opacity="0.20"/><rect x="1.3" y="147.1" width="18.0" height="1.0" fill="#a02800" opacity="0.28"/><rect x="82.3" y="114.8" width="17.9" height="0.9" fill="#a02800" opacity="0.25"/><rect x="13.2" y="79.8" width="13.6" height="1.2" fill="#a02800" opacity="0.23"/><rect x="-11.0" y="215.1" width="19.9" height="1.6" fill="#a02800" opacity="0.20"/><rect x="159.1" y="69.3" width="17.1" height="0.9" fill="#ff9040" opacity="0.31"/><rect x="193.7" y="125.8" width="25.3" height="1.1" fill="#ff9040" opacity="0.22"/><rect x="43.2" y="108.0" width="14.8" height="1.1" fill="#ff9040" opacity="0.27"/><rect x="-6.1" y="103.8" width="20.5" height="1.6" fill="#a02800" opacity="0.30"/><rect x="24.4" y="195.6" width="25.4" height="1.0" fill="#ff9040" opacity="0.22"/><rect x="153.8" y="209.3" width="22.6" height="1.4" fill="#ff9040" opacity="0.18"/><rect x="178.0" y="101.2" width="29.7" height="1.2" fill="#a02800" opacity="0.22"/><rect x="134.2" y="26.7" width="20.8" height="1.1" fill="#ff9040" opacity="0.20"/><rect x="175.0" y="201.9" width="12.9" height="1.1" fill="#ff9040" opacity="0.16"/><rect x="45.4" y="55.1" width="10.5" height="0.8" fill="#a02800" opacity="0.29"/><rect x="40.4" y="166.6" width="14.5" height="1.6" fill="#a02800" opacity="0.16"/><rect x="50.1" y="172.5" width="24.5" height="1.1" fill="#a02800" opacity="0.17"/><rect x="145.9" y="77.6" width="21.1" height="1.0" fill="#ff9040" opacity="0.22"/><rect x="119.6" y="2.9" width="26.9" height="0.9" fill="#ff9040" opacity="0.28"/><rect x="191.1" y="159.6" width="17.5" height="1.5" fill="#a02800" opacity="0.20"/><rect x="-8.1" y="80.9" width="18.6" height="1.2" fill="#a02800" opacity="0.25"/><rect x="199.2" y="206.6" width="13.0" height="0.9" fill="#ff9040" opacity="0.33"/><rect x="216.9" y="56.3" width="21.2" height="1.2" fill="#ff9040" opacity="0.18"/><rect x="66.6" y="74.0" width="10.7" height="0.8" fill="#ff9040" opacity="0.33"/><rect x="106.9" y="89.9" width="8.4" height="1.4" fill="#ff9040" opacity="0.32"/><rect x="219.5" y="55.7" width="23.7" height="0.9" fill="#ff9040" opacity="0.19"/><rect x="12.5" y="48.7" width="20.7" height="1.2" fill="#a02800" opacity="0.29"/><rect x="221.9" y="196.8" width="18.5" height="1.3" fill="#a02800" opacity="0.32"/><rect x="163.0" y="146.2" width="19.7" height="1.5" fill="#a02800" opacity="0.16"/><rect x="77.2" y="208.9" width="21.5" height="0.9" fill="#a02800" opacity="0.26"/><rect x="118.6" y="149.6" width="18.5" height="1.1" fill="#a02800" opacity="0.24"/><rect x="170.0" y="189.7" width="21.2" height="1.3" fill="#a02800" opacity="0.29"/><rect x="122.2" y="134.6" width="24.2" height="1.2" fill="#a02800" opacity="0.15"/><rect x="58.9" y="88.8" width="26.1" height="1.3" fill="#a02800" opacity="0.30"/><rect x="97.3" y="119.7" width="6.8" height="1.4" fill="#ff9040" opacity="0.17"/><rect x="50.1" y="116.3" width="11.6" height="1.0" fill="#ff9040" opacity="0.28"/><rect x="204.6" y="56.0" width="7.1" height="1.5" fill="#a02800" opacity="0.32"/><rect x="-19.9" y="59.5" width="24.5" height="0.9" fill="#ff9040" opacity="0.31"/><rect x="19.9" y="68.3" width="24.9" height="0.9" fill="#a02800" opacity="0.20"/><rect x="139.1" y="133.7" width="26.1" height="1.6" fill="#ff9040" opacity="0.20"/><rect x="152.2" y="36.7" width="20.0" height="1.2" fill="#ff9040" opacity="0.28"/><rect x="76.3" y="132.4" width="14.3" height="0.9" fill="#ff9040" opacity="0.21"/><rect x="178.0" y="20.6" width="7.2" height="1.2" fill="#a02800" opacity="0.31"/><rect x="85.4" y="150.4" width="11.1" height="0.9" fill="#a02800" opacity="0.19"/><rect x="188.4" y="197.9" width="28.6" height="1.2" fill="#a02800" opacity="0.16"/><rect x="193.2" y="161.6" width="8.0" height="1.5" fill="#ff9040" opacity="0.18"/><rect x="48.2" y="65.0" width="27.0" height="0.9" fill="#ff9040" opacity="0.20"/><rect x="104.1" y="104.1" width="28.7" height="1.0" fill="#ff9040" opacity="0.24"/><rect x="48.0" y="15.2" width="29.3" height="1.3" fill="#a02800" opacity="0.33"/><rect x="177.8" y="58.1" width="24.1" height="1.0" fill="#a02800" opacity="0.25"/><rect x="167.3" y="214.0" width="20.4" height="1.5" fill="#ff9040" opacity="0.31"/><rect x="184.2" y="37.5" width="13.5" height="1.0" fill="#a02800" opacity="0.26"/><rect x="22.3" y="216.8" width="18.8" height="0.9" fill="#ff9040" opacity="0.14"/><rect x="26.6" y="65.3" width="24.8" height="1.1" fill="#ff9040" opacity="0.15"/><rect x="143.6" y="9.7" width="24.2" height="1.3" fill="#a02800" opacity="0.14"/><rect x="36.7" y="94.4" width="23.6" height="1.1" fill="#a02800" opacity="0.22"/><rect x="93.2" y="5.1" width="6.9" height="0.9" fill="#a02800" opacity="0.29"/><rect x="124.0" y="133.0" width="11.3" height="1.1" fill="#ff9040" opacity="0.20"/><rect x="32.7" y="156.5" width="9.6" height="0.9" fill="#a02800" opacity="0.32"/><rect x="3.5" y="130.6" width="27.7" height="0.9" fill="#ff9040" opacity="0.24"/><rect x="49.0" y="186.6" width="21.2" height="0.9" fill="#ff9040" opacity="0.23"/><rect x="79.9" y="88.0" width="27.1" height="1.2" fill="#a02800" opacity="0.28"/><rect x="69.6" y="185.5" width="24.0" height="1.0" fill="#ff9040" opacity="0.20"/><rect x="-3.0" y="134.4" width="29.1" height="1.5" fill="#a02800" opacity="0.22"/><rect x="143.3" y="198.1" width="24.0" height="1.1" fill="#ff9040" opacity="0.29"/><rect x="51.5" y="32.6" width="15.8" height="0.9" fill="#ff9040" opacity="0.20"/><rect x="180.6" y="57.8" width="25.4" height="1.5" fill="#a02800" opacity="0.32"/><rect x="94.7" y="205.9" width="9.9" height="1.1" fill="#ff9040" opacity="0.20"/><rect x="84.9" y="5.4" width="29.8" height="1.1" fill="#ff9040" opacity="0.17"/><rect x="180.9" y="64.5" width="19.2" height="0.9" fill="#a02800" opacity="0.23"/><rect x="21.2" y="120.5" width="15.1" height="1.4" fill="#ff9040" opacity="0.33"/><rect x="209.2" y="161.0" width="18.6" height="0.8" fill="#ff9040" opacity="0.18"/><rect x="175.3" y="191.7" width="24.1" height="1.3" fill="#ff9040" opacity="0.16"/><rect x="124.4" y="43.1" width="19.7" height="1.2" fill="#a02800" opacity="0.31"/><rect x="162.0" y="197.0" width="8.6" height="0.8" fill="#ff9040" opacity="0.20"/><rect x="65.8" y="176.5" width="27.7" height="1.3" fill="#a02800" opacity="0.20"/><rect x="192.9" y="75.7" width="24.1" height="1.1" fill="#ff9040" opacity="0.23"/><rect x="-13.1" y="82.7" width="15.1" height="1.5" fill="#a02800" opacity="0.23"/><rect x="153.5" y="157.3" width="9.5" height="1.3" fill="#a02800" opacity="0.14"/><rect x="37.4" y="124.7" width="21.5" height="1.0" fill="#a02800" opacity="0.28"/><rect x="122.0" y="183.8" width="17.3" height="1.2" fill="#a02800" opacity="0.23"/><rect x="8.9" y="136.5" width="26.5" height="1.1" fill="#a02800" opacity="0.24"/><rect x="100.1" y="41.9" width="9.7" height="1.1" fill="#ff9040" opacity="0.33"/><rect x="23.1" y="158.9" width="19.3" height="1.1" fill="#a02800" opacity="0.33"/><rect x="83.5" y="213.4" width="22.0" height="1.5" fill="#a02800" opacity="0.31"/><rect x="221.1" y="77.3" width="22.6" height="1.2" fill="#ff9040" opacity="0.23"/><rect x="186.2" y="140.7" width="8.0" height="1.6" fill="#a02800" opacity="0.16"/><rect x="122.5" y="173.2" width="21.0" height="1.3" fill="#ff9040" opacity="0.19"/><rect x="26.6" y="7.8" width="6.8" height="0.9" fill="#ff9040" opacity="0.15"/><rect x="174.3" y="130.9" width="11.0" height="1.3" fill="#a02800" opacity="0.15"/><rect x="114.4" y="42.9" width="23.7" height="0.8" fill="#a02800" opacity="0.23"/><rect x="92.5" y="172.4" width="13.6" height="1.0" fill="#ff9040" opacity="0.27"/><rect x="22.4" y="24.6" width="10.7" height="0.9" fill="#a02800" opacity="0.31"/><rect x="219.1" y="135.5" width="19.5" height="1.2" fill="#ff9040" opacity="0.30"/><rect x="-4.4" y="39.3" width="14.9" height="1.6" fill="#ff9040" opacity="0.33"/><rect x="120.0" y="121.0" width="9.0" height="1.0" fill="#ff9040" opacity="0.22"/><rect x="62.2" y="173.1" width="15.9" height="1.4" fill="#ff9040" opacity="0.25"/><rect x="25.1" y="161.3" width="15.4" height="1.3" fill="#ff9040" opacity="0.15"/><rect x="112.9" y="151.5" width="13.3" height="1.6" fill="#ff9040" opacity="0.16"/><rect x="156.4" y="175.2" width="17.2" height="1.0" fill="#ff9040" opacity="0.33"/><rect x="8.4" y="218.5" width="22.3" height="0.9" fill="#a02800" opacity="0.33"/><rect x="16.3" y="136.6" width="13.0" height="0.9" fill="#a02800" opacity="0.19"/><rect x="32.2" y="187.3" width="24.6" height="1.5" fill="#a02800" opacity="0.15"/><rect x="67.7" y="68.0" width="16.8" height="1.2" fill="#ff9040" opacity="0.17"/><rect x="141.1" y="197.8" width="13.5" height="0.9" fill="#a02800" opacity="0.32"/><rect x="86.6" y="108.2" width="18.2" height="1.0" fill="#ff9040" opacity="0.33"/><rect x="120.1" y="183.3" width="6.8" height="1.5" fill="#a02800" opacity="0.15"/><rect x="218.6" y="72.5" width="28.3" height="0.8" fill="#ff9040" opacity="0.20"/><rect x="22.6" y="72.9" width="18.5" height="1.4" fill="#a02800" opacity="0.29"/><rect x="4.6" y="150.3" width="14.7" height="1.3" fill="#ff9040" opacity="0.14"/><rect x="130.7" y="128.3" width="20.3" height="1.4" fill="#a02800" opacity="0.15"/><rect x="45.1" y="205.2" width="12.5" height="1.5" fill="#ff9040" opacity="0.20"/><rect x="54.9" y="48.3" width="6.2" height="1.1" fill="#ff9040" opacity="0.31"/><rect x="0.8" y="180.8" width="18.5" height="0.8" fill="#a02800" opacity="0.17"/><rect x="66.0" y="132.9" width="26.7" height="1.5" fill="#ff9040" opacity="0.24"/><rect x="-15.4" y="147.7" width="19.8" height="1.1" fill="#ff9040" opacity="0.20"/><rect x="60.2" y="172.3" width="16.1" height="1.2" fill="#a02800" opacity="0.21"/><rect x="-14.0" y="128.3" width="19.8" height="1.4" fill="#ff9040" opacity="0.18"/><rect x="113.4" y="26.6" width="21.3" height="1.4" fill="#a02800" opacity="0.16"/><rect x="110.0" y="52.7" width="27.9" height="1.3" fill="#ff9040" opacity="0.21"/><rect x="-14.9" y="161.5" width="13.5" height="1.4" fill="#a02800" opacity="0.23"/><rect x="120.4" y="41.6" width="29.7" height="1.3" fill="#ff9040" opacity="0.30"/><rect x="185.6" y="168.8" width="21.6" height="1.5" fill="#a02800" opacity="0.29"/><rect x="17.7" y="124.7" width="9.7" height="1.6" fill="#ff9040" opacity="0.31"/><rect x="128.0" y="148.1" width="13.6" height="0.9" fill="#ff9040" opacity="0.27"/><rect x="-9.3" y="90.2" width="21.0" height="1.4" fill="#ff9040" opacity="0.30"/><rect x="-16.6" y="0.0" width="17.8" height="1.2" fill="#ff9040" opacity="0.31"/><rect x="16.1" y="72.0" width="22.7" height="1.6" fill="#ff9040" opacity="0.30"/><rect x="113.1" y="184.2" width="12.9" height="0.9" fill="#a02800" opacity="0.26"/><rect x="-15.1" y="26.1" width="28.8" height="1.6" fill="#a02800" opacity="0.21"/><rect x="155.8" y="72.7" width="13.5" height="1.5" fill="#a02800" opacity="0.17"/><rect x="56.0" y="7.8" width="15.0" height="1.2" fill="#a02800" opacity="0.22"/><rect x="-19.0" y="213.8" width="7.7" height="0.8" fill="#ff9040" opacity="0.31"/><rect x="211.6" y="158.1" width="11.0" height="0.9" fill="#a02800" opacity="0.24"/><rect x="101.5" y="210.0" width="7.1" height="1.1" fill="#ff9040" opacity="0.24"/><rect x="47.0" y="41.7" width="23.1" height="0.8" fill="#ff9040" opacity="0.33"/><rect x="53.6" y="86.7" width="14.8" height="0.8" fill="#a02800" opacity="0.25"/><rect x="99.4" y="223.8" width="28.4" height="1.1" fill="#a02800" opacity="0.21"/><rect x="104.6" y="7.3" width="26.8" height="1.3" fill="#a02800" opacity="0.15"/><rect x="2.2" y="153.9" width="15.7" height="1.3" fill="#a02800" opacity="0.27"/><rect x="114.9" y="97.4" width="24.0" height="0.9" fill="#a02800" opacity="0.21"/><rect x="-16.1" y="153.1" width="14.9" height="1.5" fill="#ff9040" opacity="0.21"/><rect x="185.8" y="102.3" width="9.3" height="0.8" fill="#a02800" opacity="0.16"/><rect x="12.2" y="196.0" width="7.2" height="1.5" fill="#ff9040" opacity="0.16"/><rect x="55.5" y="191.3" width="10.7" height="1.4" fill="#ff9040" opacity="0.26"/><rect x="22.2" y="92.8" width="6.1" height="1.5" fill="#ff9040" opacity="0.16"/><rect x="88.3" y="55.0" width="21.6" height="0.9" fill="#ff9040" opacity="0.28"/><rect x="223.4" y="117.2" width="10.9" height="1.1" fill="#ff9040" opacity="0.28"/><rect x="129.3" y="40.7" width="11.0" height="1.1" fill="#ff9040" opacity="0.29"/><rect x="122.5" y="171.7" width="12.6" height="1.1" fill="#ff9040" opacity="0.31"/><rect x="199.1" y="212.2" width="24.9" height="0.8" fill="#ff9040" opacity="0.23"/><rect x="17.6" y="115.1" width="24.8" height="0.9" fill="#a02800" opacity="0.28"/><rect x="169.1" y="133.5" width="11.5" height="1.4" fill="#a02800" opacity="0.19"/><rect x="30.0" y="133.8" width="16.5" height="1.5" fill="#a02800" opacity="0.27"/><rect x="25.7" y="78.9" width="21.2" height="1.4" fill="#a02800" opacity="0.30"/><rect x="206.8" y="162.2" width="20.1" height="1.1" fill="#ff9040" opacity="0.17"/><rect x="150.6" y="170.1" width="6.3" height="1.3" fill="#a02800" opacity="0.20"/><rect x="40.1" y="178.6" width="24.0" height="1.3" fill="#ff9040" opacity="0.21"/><rect x="164.2" y="65.9" width="17.2" height="0.9" fill="#a02800" opacity="0.24"/><rect x="190.6" y="59.1" width="24.0" height="1.0" fill="#ff9040" opacity="0.18"/><rect x="126.4" y="20.6" width="28.9" height="1.2" fill="#ff9040" opacity="0.20"/><rect x="157.2" y="152.5" width="27.1" height="1.5" fill="#a02800" opacity="0.14"/><rect x="-0.7" y="175.5" width="17.2" height="1.3" fill="#ff9040" opacity="0.20"/><rect x="208.5" y="90.0" width="16.5" height="1.0" fill="#ff9040" opacity="0.15"/><rect x="157.3" y="26.8" width="17.9" height="1.5" fill="#ff9040" opacity="0.17"/><rect x="90.4" y="51.2" width="26.4" height="1.0" fill="#a02800" opacity="0.20"/><rect x="27.8" y="83.6" width="24.6" height="1.2" fill="#ff9040" opacity="0.15"/><rect x="45.4" y="60.8" width="23.3" height="1.4" fill="#a02800" opacity="0.25"/><rect x="136.8" y="169.1" width="6.8" height="0.9" fill="#a02800" opacity="0.17"/><rect x="133.7" y="160.3" width="6.2" height="0.8" fill="#ff9040" opacity="0.28"/><rect x="11.9" y="224.5" width="21.2" height="1.4" fill="#a02800" opacity="0.26"/><rect x="5.4" y="173.5" width="28.4" height="1.4" fill="#a02800" opacity="0.30"/><rect x="189.0" y="84.4" width="10.2" height="0.8" fill="#a02800" opacity="0.23"/><rect x="75.1" y="7.4" width="28.4" height="1.0" fill="#a02800" opacity="0.30"/><rect x="59.3" y="135.9" width="8.7" height="1.2" fill="#ff9040" opacity="0.20"/><rect x="35.8" y="57.0" width="12.0" height="1.0" fill="#a02800" opacity="0.32"/><rect x="82.7" y="102.2" width="13.5" height="0.9" fill="#a02800" opacity="0.19"/><rect x="116.2" y="113.7" width="12.2" height="1.1" fill="#a02800" opacity="0.28"/><rect x="100.0" y="40.1" width="25.8" height="1.4" fill="#ff9040" opacity="0.22"/><rect x="162.4" y="67.9" width="25.3" height="0.9" fill="#a02800" opacity="0.26"/><rect x="173.5" y="188.9" width="15.8" height="0.9" fill="#a02800" opacity="0.24"/><rect x="198.6" y="76.5" width="20.4" height="1.4" fill="#a02800" opacity="0.15"/><rect x="72.3" y="44.8" width="18.1" height="1.1" fill="#ff9040" opacity="0.20"/><rect x="165.4" y="111.7" width="10.4" height="1.1" fill="#a02800" opacity="0.22"/><rect x="21.1" y="5.6" width="25.9" height="0.9" fill="#a02800" opacity="0.28"/><rect x="23.2" y="52.4" width="13.9" height="1.1" fill="#a02800" opacity="0.18"/><rect x="175.9" y="141.7" width="28.5" height="1.3" fill="#a02800" opacity="0.30"/><rect x="192.7" y="167.7" width="21.7" height="1.4" fill="#ff9040" opacity="0.34"/><rect x="-1.6" y="180.7" width="7.9" height="1.5" fill="#a02800" opacity="0.30"/><rect x="90.3" y="26.1" width="7.2" height="1.3" fill="#a02800" opacity="0.22"/><rect x="93.2" y="124.8" width="7.1" height="1.4" fill="#ff9040" opacity="0.21"/><rect x="167.1" y="217.1" width="12.9" height="1.4" fill="#ff9040" opacity="0.28"/><rect x="46.7" y="14.3" width="24.9" height="1.2" fill="#ff9040" opacity="0.26"/><rect x="126.0" y="67.2" width="24.3" height="0.9" fill="#a02800" opacity="0.29"/><rect x="210.0" y="145.0" width="15.9" height="1.2" fill="#a02800" opacity="0.33"/><rect x="56.2" y="23.6" width="20.1" height="1.2" fill="#a02800" opacity="0.30"/><rect x="212.9" y="175.3" width="17.8" height="1.4" fill="#a02800" opacity="0.15"/><rect x="131.8" y="186.1" width="27.5" height="1.4" fill="#ff9040" opacity="0.15"/><rect x="130.0" y="217.8" width="7.1" height="1.5" fill="#a02800" opacity="0.33"/><rect x="43.6" y="117.2" width="12.4" height="0.9" fill="#a02800" opacity="0.22"/><rect x="133.3" y="217.1" width="9.5" height="1.3" fill="#a02800" opacity="0.30"/><rect x="205.1" y="49.8" width="23.4" height="1.5" fill="#ff9040" opacity="0.30"/><rect x="-9.3" y="27.0" width="7.0" height="1.0" fill="#a02800" opacity="0.20"/><rect x="37.0" y="151.2" width="17.5" height="1.6" fill="#ff9040" opacity="0.31"/><rect x="207.3" y="69.0" width="13.2" height="0.8" fill="#ff9040" opacity="0.26"/><rect x="31.4" y="73.7" width="26.5" height="1.1" fill="#ff9040" opacity="0.19"/><rect x="107.5" y="187.8" width="7.4" height="1.2" fill="#ff9040" opacity="0.14"/><rect x="166.1" y="223.2" width="8.3" height="1.4" fill="#ff9040" opacity="0.16"/><rect x="145.6" y="181.1" width="13.0" height="0.8" fill="#a02800" opacity="0.17"/><rect x="73.9" y="11.8" width="10.1" height="0.9" fill="#ff9040" opacity="0.18"/><rect x="4.7" y="198.3" width="9.5" height="1.6" fill="#ff9040" opacity="0.18"/><rect x="-12.2" y="16.2" width="11.2" height="1.1" fill="#ff9040" opacity="0.14"/><rect x="114.4" y="29.9" width="26.9" height="0.9" fill="#ff9040" opacity="0.21"/><rect x="135.4" y="31.7" width="21.4" height="1.2" fill="#ff9040" opacity="0.16"/><rect x="122.3" y="192.5" width="28.0" height="1.4" fill="#a02800" opacity="0.14"/><rect x="157.5" y="108.3" width="12.0" height="1.6" fill="#a02800" opacity="0.24"/></g><g filter="url(#b6)"><ellipse cx="72" cy="128" rx="22" ry="13" fill="#6a1000" opacity="0.6" transform="rotate(20 72 128)"/><ellipse cx="82" cy="147" rx="20" ry="11" fill="#6a1000" opacity="0.55" transform="rotate(20 82 147)"/><ellipse cx="46" cy="105" rx="12" ry="9" fill="#6a1000" opacity="0.4"/><ellipse cx="58" cy="186" rx="14" ry="9" fill="#6a1000" opacity="0.35"/><ellipse cx="8" cy="120" rx="15" ry="40" fill="#ffa010" opacity="0.8"/><ellipse cx="60" cy="50" rx="45" ry="30" fill="#8a1800" opacity="0.25" transform="rotate(-40 60 50)"/><ellipse cx="222" cy="120" rx="8" ry="60" fill="#8a1800" opacity="0.3"/></g><rect x="0" y="0" width="5" height="227" fill="url(#gLeftEdge)"/><rect x="0" y="0" width="4" height="40" fill="#ffd040" opacity="0.6" filter="url(#b2)"/></svg>
<svg x="795" y="63" width="225" height="225" viewBox="0 0 225 225" overflow="hidden"><rect width="227" height="227" fill="#f8900c"/><g filter="url(#b6)"><circle cx="54" cy="122" r="9" fill="#ffb828" opacity="0.57"/><circle cx="141" cy="15" r="7" fill="#ffb828" opacity="0.68"/><circle cx="58" cy="53" r="12" fill="#ffb828" opacity="0.51"/><circle cx="188" cy="107" r="10" fill="#ffb828" opacity="0.37"/><circle cx="143" cy="195" r="10" fill="#ffb828" opacity="0.63"/><circle cx="151" cy="14" r="11" fill="#ffb828" opacity="0.57"/><circle cx="68" cy="7" r="11" fill="#ffb828" opacity="0.51"/><circle cx="162" cy="198" r="11" fill="#ffb828" opacity="0.71"/><circle cx="89" cy="180" r="9" fill="#ffb828" opacity="0.72"/><circle cx="198" cy="22" r="8" fill="#ffb828" opacity="0.40"/><circle cx="217" cy="98" r="10" fill="#ffb828" opacity="0.44"/><circle cx="114" cy="87" r="9" fill="#ffb828" opacity="0.56"/><circle cx="131" cy="203" r="10" fill="#ffb828" opacity="0.72"/><circle cx="193" cy="223" r="10" fill="#ffb828" opacity="0.37"/><circle cx="194" cy="217" r="12" fill="#ffb828" opacity="0.56"/><circle cx="161" cy="48" r="11" fill="#ffb828" opacity="0.56"/><circle cx="64" cy="14" r="11" fill="#ffb828" opacity="0.75"/><circle cx="20" cy="180" r="9" fill="#ffb828" opacity="0.37"/><circle cx="66" cy="173" r="11" fill="#ffb828" opacity="0.32"/><circle cx="138" cy="10" r="11" fill="#ffb828" opacity="0.45"/><circle cx="198" cy="221" r="10" fill="#ffb828" opacity="0.75"/><circle cx="70" cy="17" r="10" fill="#ffb828" opacity="0.31"/><circle cx="44" cy="92" r="10" fill="#ffb828" opacity="0.37"/><circle cx="10" cy="195" r="9" fill="#ffb828" opacity="0.73"/><circle cx="202" cy="85" r="9" fill="#ffb828" opacity="0.53"/><circle cx="145" cy="134" r="10" fill="#ffb828" opacity="0.58"/><circle cx="212" cy="114" r="9" fill="#ffb828" opacity="0.62"/><circle cx="53" cy="68" r="12" fill="#ffb828" opacity="0.53"/><circle cx="123" cy="3" r="9" fill="#ffb828" opacity="0.56"/><circle cx="5" cy="139" r="10" fill="#ffb828" opacity="0.33"/><circle cx="141" cy="105" r="10" fill="#ffb828" opacity="0.46"/><circle cx="159" cy="166" r="7" fill="#ffb828" opacity="0.33"/><circle cx="152" cy="217" r="8" fill="#ffb828" opacity="0.51"/><circle cx="133" cy="72" r="9" fill="#ffb828" opacity="0.44"/><circle cx="83" cy="134" r="9" fill="#ffb828" opacity="0.47"/><circle cx="174" cy="6" r="10" fill="#ffb828" opacity="0.63"/><circle cx="70" cy="50" r="11" fill="#ffb828" opacity="0.41"/><circle cx="42" cy="98" r="10" fill="#ffb828" opacity="0.35"/><circle cx="72" cy="75" r="11" fill="#ffb828" opacity="0.50"/><circle cx="192" cy="38" r="9" fill="#ffb828" opacity="0.59"/><circle cx="199" cy="101" r="8" fill="#ffb828" opacity="0.35"/><circle cx="119" cy="43" r="11" fill="#ffb828" opacity="0.68"/><circle cx="41" cy="63" r="11" fill="#ffb828" opacity="0.59"/><circle cx="181" cy="78" r="8" fill="#ffb828" opacity="0.43"/><circle cx="179" cy="61" r="9" fill="#ffb828" opacity="0.49"/></g><g filter="url(#b2)"><ellipse cx="11.5" cy="12.3" rx="23.0" ry="19.0" fill="url(#gDarkD)" opacity="0.75"/><ellipse cx="45.9" cy="31.7" rx="23.0" ry="19.0" fill="url(#gDarkD)" opacity="1.00"/><ellipse cx="81.0" cy="10.6" rx="23.0" ry="19.0" fill="url(#gDarkD)" opacity="0.75"/><ellipse cx="11.5" cy="53.8" rx="23.0" ry="19.0" fill="url(#gDarkD)" opacity="1.00"/><ellipse cx="44.0" cy="74.0" rx="23.0" ry="19.0" fill="url(#gDarkD)" opacity="0.55"/><ellipse cx="88.0" cy="48.5" rx="23.0" ry="19.0" fill="url(#gDarkD)" opacity="0.40"/><ellipse cx="14.0" cy="95.0" rx="23.0" ry="19.0" fill="url(#gDarkD)" opacity="0.88"/><ellipse cx="155.9" cy="9.7" rx="23.0" ry="19.0" fill="url(#gDarkD)" opacity="0.75"/><ellipse cx="122.3" cy="28.2" rx="23.0" ry="19.0" fill="url(#gDarkD)" opacity="0.88"/><ellipse cx="192.0" cy="26.5" rx="23.0" ry="19.0" fill="url(#gDarkD)" opacity="0.88"/><ellipse cx="157.6" cy="51.1" rx="23.0" ry="19.0" fill="url(#gDarkD)" opacity="1.00"/><ellipse cx="194.7" cy="67.0" rx="23.0" ry="19.0" fill="url(#gDarkD)" opacity="0.75"/><ellipse cx="161.0" cy="88.0" rx="23.0" ry="19.0" fill="url(#gDarkD)" opacity="0.75"/><ellipse cx="198.0" cy="108.0" rx="23.0" ry="19.0" fill="url(#gDarkD)" opacity="0.75"/><ellipse cx="223.0" cy="9.0" rx="23.0" ry="19.0" fill="url(#gDarkD)" opacity="0.40"/><ellipse cx="20.7" cy="140.0" rx="23.0" ry="19.0" fill="url(#gDarkD)" opacity="1.00"/><ellipse cx="88.2" cy="140.9" rx="23.0" ry="19.0" fill="url(#gDarkD)" opacity="0.75"/><ellipse cx="57.5" cy="161.9" rx="23.0" ry="19.0" fill="url(#gDarkD)" opacity="1.00"/><ellipse cx="24.2" cy="182.6" rx="23.0" ry="19.0" fill="url(#gDarkD)" opacity="1.00"/><ellipse cx="97.0" cy="179.7" rx="23.0" ry="19.0" fill="url(#gDarkD)" opacity="1.00"/><ellipse cx="61.7" cy="201.7" rx="23.0" ry="19.0" fill="url(#gDarkD)" opacity="1.00"/><ellipse cx="24.7" cy="222.0" rx="23.0" ry="19.0" fill="url(#gDarkD)" opacity="0.75"/><ellipse cx="47.6" cy="118.0" rx="23.0" ry="19.0" fill="url(#gDarkD)" opacity="0.40"/><ellipse cx="131.2" cy="152.3" rx="23.0" ry="19.0" fill="url(#gDarkD)" opacity="0.75"/><ellipse cx="168.0" cy="134.7" rx="23.0" ry="19.0" fill="url(#gDarkD)" opacity="0.40"/><ellipse cx="200.0" cy="151.4" rx="23.0" ry="19.0" fill="url(#gDarkD)" opacity="0.75"/><ellipse cx="166.4" cy="175.3" rx="23.0" ry="19.0" fill="url(#gDarkD)" opacity="1.00"/><ellipse cx="132.9" cy="196.4" rx="23.0" ry="19.0" fill="url(#gDarkD)" opacity="0.75"/><ellipse cx="201.3" cy="196.4" rx="23.0" ry="19.0" fill="url(#gDarkD)" opacity="0.75"/><ellipse cx="170.0" cy="219.3" rx="23.0" ry="19.0" fill="url(#gDarkD)" opacity="0.40"/><ellipse cx="121.0" cy="71.5" rx="23.0" ry="19.0" fill="url(#gDarkD)" opacity="0.30"/><ellipse cx="124.0" cy="114.0" rx="23.0" ry="19.0" fill="url(#gDarkD)" opacity="0.25"/><ellipse cx="97.0" cy="223.0" rx="23.0" ry="19.0" fill="url(#gDarkD)" opacity="0.50"/><ellipse cx="89.0" cy="94.0" rx="23.0" ry="19.0" fill="url(#gDarkD)" opacity="0.30"/><ellipse cx="227.0" cy="52.0" rx="23.0" ry="19.0" fill="url(#gDarkD)" opacity="0.40"/><ellipse cx="229.0" cy="95.0" rx="23.0" ry="19.0" fill="url(#gDarkD)" opacity="0.40"/><ellipse cx="231.0" cy="138.0" rx="23.0" ry="19.0" fill="url(#gDarkD)" opacity="0.40"/><ellipse cx="233.0" cy="180.0" rx="23.0" ry="19.0" fill="url(#gDarkD)" opacity="0.40"/><ellipse cx="235.0" cy="222.0" rx="23.0" ry="19.0" fill="url(#gDarkD)" opacity="0.40"/></g><g filter="url(#b4)"><ellipse cx="112" cy="102" rx="32" ry="40" fill="#ffc030" opacity="0.55"/><ellipse cx="74" cy="100" rx="13" ry="18" fill="#ffe070" opacity="0.85"/><ellipse cx="111" cy="108" rx="20" ry="32" fill="url(#gBrightD)"/></g><ellipse cx="110" cy="110" rx="6" ry="13" fill="#fffff0" opacity="0.85" filter="url(#b3)"/><rect x="0" y="0" width="5" height="227" fill="url(#gLeftEdgeY)"/><g filter="url(#bx)"><rect x="147.9" y="58.3" width="22.4" height="0.9" fill="#c05000" opacity="0.15"/><rect x="35.2" y="33.1" width="23.6" height="1.2" fill="#ffc050" opacity="0.14"/><rect x="85.7" y="66.3" width="26.1" height="0.8" fill="#c05000" opacity="0.15"/><rect x="193.5" y="33.0" width="25.4" height="1.5" fill="#c05000" opacity="0.22"/><rect x="174.5" y="213.6" width="12.2" height="1.2" fill="#c05000" opacity="0.23"/><rect x="85.2" y="126.9" width="14.7" height="1.1" fill="#ffc050" opacity="0.13"/><rect x="175.6" y="184.4" width="29.7" height="1.2" fill="#c05000" opacity="0.23"/><rect x="145.8" y="30.3" width="16.6" height="1.0" fill="#ffc050" opacity="0.19"/><rect x="92.6" y="57.0" width="20.5" height="0.9" fill="#ffc050" opacity="0.19"/><rect x="37.7" y="53.0" width="10.7" height="0.9" fill="#ffc050" opacity="0.21"/><rect x="75.5" y="214.6" width="23.3" height="0.8" fill="#c05000" opacity="0.13"/><rect x="185.3" y="181.4" width="21.3" height="1.1" fill="#ffc050" opacity="0.24"/><rect x="176.8" y="199.4" width="10.9" height="1.1" fill="#c05000" opacity="0.22"/><rect x="218.0" y="30.8" width="20.5" height="1.0" fill="#c05000" opacity="0.21"/><rect x="124.9" y="130.7" width="14.6" height="1.1" fill="#c05000" opacity="0.16"/><rect x="147.6" y="37.0" width="8.7" height="0.9" fill="#ffc050" opacity="0.21"/><rect x="113.1" y="125.1" width="6.9" height="1.1" fill="#ffc050" opacity="0.12"/><rect x="224.5" y="0.7" width="8.9" height="1.0" fill="#ffc050" opacity="0.20"/><rect x="95.1" y="17.4" width="14.8" height="0.8" fill="#c05000" opacity="0.16"/><rect x="217.6" y="111.7" width="18.4" height="1.3" fill="#ffc050" opacity="0.16"/><rect x="102.8" y="7.1" width="27.8" height="1.0" fill="#c05000" opacity="0.22"/><rect x="43.3" y="191.1" width="20.1" height="1.0" fill="#ffc050" opacity="0.15"/><rect x="66.0" y="45.9" width="6.9" height="0.9" fill="#ffc050" opacity="0.23"/><rect x="-19.0" y="135.0" width="24.6" height="1.2" fill="#ffc050" opacity="0.20"/><rect x="50.9" y="74.9" width="16.4" height="1.5" fill="#ffc050" opacity="0.13"/><rect x="33.5" y="185.3" width="13.3" height="0.8" fill="#ffc050" opacity="0.13"/><rect x="88.3" y="81.2" width="27.0" height="0.8" fill="#c05000" opacity="0.19"/><rect x="176.9" y="29.1" width="13.7" height="1.2" fill="#c05000" opacity="0.13"/><rect x="40.8" y="1.1" width="26.8" height="1.2" fill="#ffc050" opacity="0.17"/><rect x="176.4" y="77.6" width="11.1" height="1.3" fill="#c05000" opacity="0.25"/><rect x="205.5" y="117.0" width="16.6" height="1.3" fill="#c05000" opacity="0.24"/><rect x="8.3" y="202.0" width="9.3" height="1.4" fill="#ffc050" opacity="0.19"/><rect x="215.7" y="67.4" width="13.1" height="0.8" fill="#ffc050" opacity="0.11"/><rect x="6.3" y="163.6" width="23.2" height="1.6" fill="#c05000" opacity="0.23"/><rect x="132.4" y="95.5" width="26.0" height="1.0" fill="#c05000" opacity="0.23"/><rect x="55.6" y="24.6" width="29.9" height="1.0" fill="#ffc050" opacity="0.23"/><rect x="-19.1" y="101.3" width="6.7" height="1.1" fill="#ffc050" opacity="0.25"/><rect x="188.3" y="55.6" width="26.5" height="1.6" fill="#ffc050" opacity="0.23"/><rect x="44.1" y="108.9" width="17.1" height="1.2" fill="#c05000" opacity="0.14"/><rect x="96.6" y="84.5" width="10.6" height="0.8" fill="#c05000" opacity="0.24"/><rect x="5.2" y="40.2" width="20.1" height="1.5" fill="#ffc050" opacity="0.19"/><rect x="184.5" y="117.3" width="11.1" height="1.3" fill="#c05000" opacity="0.18"/><rect x="-14.6" y="215.8" width="26.7" height="1.5" fill="#ffc050" opacity="0.13"/><rect x="102.7" y="12.1" width="28.2" height="1.2" fill="#ffc050" opacity="0.20"/><rect x="109.9" y="54.8" width="6.2" height="1.4" fill="#ffc050" opacity="0.16"/><rect x="-7.5" y="49.6" width="22.8" height="1.5" fill="#ffc050" opacity="0.22"/><rect x="204.0" y="22.6" width="28.4" height="1.5" fill="#c05000" opacity="0.21"/><rect x="143.5" y="162.2" width="20.2" height="0.9" fill="#ffc050" opacity="0.22"/><rect x="-6.2" y="134.2" width="21.4" height="1.2" fill="#c05000" opacity="0.23"/><rect x="73.4" y="197.2" width="25.6" height="1.3" fill="#ffc050" opacity="0.17"/><rect x="88.9" y="209.9" width="28.9" height="1.3" fill="#ffc050" opacity="0.25"/><rect x="71.9" y="153.8" width="7.9" height="1.1" fill="#ffc050" opacity="0.24"/><rect x="221.6" y="176.5" width="16.7" height="1.3" fill="#ffc050" opacity="0.23"/><rect x="32.8" y="18.0" width="9.5" height="1.0" fill="#ffc050" opacity="0.26"/><rect x="208.7" y="46.7" width="13.1" height="1.6" fill="#ffc050" opacity="0.12"/><rect x="11.5" y="25.4" width="7.6" height="1.0" fill="#ffc050" opacity="0.13"/><rect x="151.1" y="3.5" width="7.2" height="1.3" fill="#ffc050" opacity="0.25"/><rect x="153.7" y="148.4" width="22.8" height="1.5" fill="#c05000" opacity="0.13"/><rect x="132.1" y="12.2" width="18.5" height="1.4" fill="#ffc050" opacity="0.14"/><rect x="84.5" y="158.9" width="16.1" height="1.0" fill="#ffc050" opacity="0.20"/><rect x="202.2" y="124.6" width="12.7" height="0.9" fill="#c05000" opacity="0.21"/><rect x="190.1" y="36.2" width="29.2" height="1.4" fill="#ffc050" opacity="0.14"/><rect x="5.3" y="68.7" width="16.6" height="1.4" fill="#ffc050" opacity="0.20"/><rect x="153.9" y="94.5" width="11.6" height="1.1" fill="#ffc050" opacity="0.11"/><rect x="1.6" y="199.5" width="8.4" height="1.5" fill="#c05000" opacity="0.18"/><rect x="14.1" y="94.8" width="6.0" height="1.0" fill="#ffc050" opacity="0.13"/><rect x="-15.3" y="203.8" width="14.7" height="1.4" fill="#c05000" opacity="0.13"/><rect x="118.0" y="167.0" width="21.1" height="1.4" fill="#c05000" opacity="0.20"/><rect x="100.5" y="173.2" width="19.2" height="1.3" fill="#c05000" opacity="0.17"/><rect x="173.5" y="4.6" width="14.2" height="1.0" fill="#ffc050" opacity="0.20"/><rect x="184.3" y="90.2" width="20.3" height="1.4" fill="#c05000" opacity="0.18"/><rect x="163.8" y="120.7" width="23.3" height="1.5" fill="#c05000" opacity="0.20"/><rect x="26.2" y="124.9" width="11.8" height="1.2" fill="#ffc050" opacity="0.25"/><rect x="65.7" y="9.6" width="23.8" height="1.5" fill="#ffc050" opacity="0.13"/><rect x="85.7" y="173.5" width="19.6" height="1.1" fill="#ffc050" opacity="0.23"/><rect x="118.2" y="165.4" width="16.2" height="1.4" fill="#ffc050" opacity="0.18"/><rect x="129.9" y="162.9" width="15.7" height="0.9" fill="#c05000" opacity="0.26"/><rect x="217.4" y="19.4" width="20.1" height="1.5" fill="#ffc050" opacity="0.19"/><rect x="-5.3" y="114.4" width="25.1" height="1.0" fill="#c05000" opacity="0.13"/><rect x="209.1" y="94.5" width="26.9" height="0.8" fill="#ffc050" opacity="0.24"/><rect x="159.1" y="45.5" width="18.0" height="0.9" fill="#c05000" opacity="0.23"/><rect x="-15.8" y="162.1" width="19.6" height="1.4" fill="#ffc050" opacity="0.26"/><rect x="101.0" y="149.9" width="20.5" height="1.2" fill="#ffc050" opacity="0.13"/><rect x="-3.9" y="162.1" width="18.6" height="1.3" fill="#ffc050" opacity="0.12"/><rect x="133.1" y="6.2" width="23.3" height="1.3" fill="#c05000" opacity="0.26"/><rect x="134.1" y="32.1" width="21.3" height="0.9" fill="#ffc050" opacity="0.15"/><rect x="172.9" y="117.8" width="23.1" height="0.9" fill="#c05000" opacity="0.22"/><rect x="21.5" y="115.3" width="20.8" height="1.0" fill="#ffc050" opacity="0.18"/><rect x="6.2" y="169.0" width="16.6" height="1.3" fill="#ffc050" opacity="0.24"/><rect x="156.3" y="59.4" width="17.1" height="1.0" fill="#ffc050" opacity="0.19"/><rect x="127.4" y="181.5" width="6.0" height="1.3" fill="#c05000" opacity="0.18"/><rect x="88.0" y="54.2" width="22.6" height="0.9" fill="#ffc050" opacity="0.25"/><rect x="-2.7" y="99.5" width="27.4" height="1.1" fill="#ffc050" opacity="0.21"/><rect x="200.3" y="149.5" width="10.2" height="1.5" fill="#c05000" opacity="0.18"/><rect x="94.3" y="160.8" width="23.2" height="1.1" fill="#c05000" opacity="0.22"/><rect x="197.5" y="77.6" width="24.3" height="1.5" fill="#c05000" opacity="0.20"/><rect x="18.1" y="213.9" width="19.8" height="1.3" fill="#ffc050" opacity="0.22"/><rect x="179.0" y="64.2" width="16.0" height="1.0" fill="#ffc050" opacity="0.20"/><rect x="-8.5" y="86.4" width="13.3" height="1.2" fill="#c05000" opacity="0.22"/><rect x="-2.6" y="96.0" width="20.7" height="0.9" fill="#ffc050" opacity="0.21"/><rect x="-17.4" y="152.0" width="28.7" height="0.9" fill="#ffc050" opacity="0.16"/><rect x="161.9" y="179.4" width="23.8" height="1.5" fill="#ffc050" opacity="0.13"/><rect x="-7.7" y="216.2" width="9.7" height="1.4" fill="#c05000" opacity="0.21"/><rect x="192.4" y="55.9" width="18.4" height="0.9" fill="#ffc050" opacity="0.26"/><rect x="33.8" y="12.6" width="14.6" height="1.5" fill="#c05000" opacity="0.24"/><rect x="-17.2" y="142.0" width="23.7" height="1.6" fill="#ffc050" opacity="0.26"/><rect x="159.2" y="14.8" width="11.8" height="1.5" fill="#ffc050" opacity="0.18"/><rect x="117.2" y="66.3" width="7.5" height="1.3" fill="#ffc050" opacity="0.24"/><rect x="199.0" y="27.6" width="8.5" height="1.1" fill="#ffc050" opacity="0.14"/><rect x="140.6" y="20.5" width="15.6" height="1.2" fill="#ffc050" opacity="0.13"/><rect x="216.2" y="153.3" width="17.2" height="1.1" fill="#ffc050" opacity="0.17"/><rect x="23.7" y="93.0" width="13.1" height="1.2" fill="#c05000" opacity="0.12"/><rect x="186.0" y="32.7" width="14.5" height="1.3" fill="#c05000" opacity="0.21"/><rect x="122.0" y="80.0" width="16.0" height="1.6" fill="#ffc050" opacity="0.13"/><rect x="201.3" y="48.1" width="28.3" height="1.5" fill="#c05000" opacity="0.13"/><rect x="10.5" y="161.7" width="26.4" height="1.2" fill="#ffc050" opacity="0.19"/><rect x="118.8" y="46.3" width="26.7" height="1.2" fill="#ffc050" opacity="0.17"/><rect x="49.7" y="42.9" width="26.1" height="1.1" fill="#c05000" opacity="0.15"/><rect x="191.6" y="75.9" width="12.3" height="1.1" fill="#ffc050" opacity="0.12"/><rect x="36.8" y="33.1" width="21.6" height="1.0" fill="#c05000" opacity="0.16"/><rect x="-12.7" y="132.1" width="8.1" height="1.2" fill="#c05000" opacity="0.16"/><rect x="-15.2" y="93.4" width="12.2" height="1.0" fill="#ffc050" opacity="0.12"/><rect x="-16.0" y="183.5" width="15.9" height="1.0" fill="#ffc050" opacity="0.23"/><rect x="216.5" y="216.3" width="13.9" height="1.1" fill="#ffc050" opacity="0.12"/><rect x="129.8" y="95.2" width="15.6" height="1.2" fill="#c05000" opacity="0.16"/><rect x="119.7" y="201.5" width="12.1" height="1.2" fill="#c05000" opacity="0.20"/><rect x="190.4" y="105.4" width="23.6" height="1.1" fill="#ffc050" opacity="0.23"/><rect x="127.6" y="188.4" width="26.9" height="1.1" fill="#ffc050" opacity="0.16"/><rect x="17.5" y="60.6" width="28.2" height="0.9" fill="#c05000" opacity="0.14"/><rect x="177.5" y="95.4" width="26.5" height="1.0" fill="#c05000" opacity="0.18"/><rect x="75.0" y="213.2" width="21.6" height="1.2" fill="#ffc050" opacity="0.19"/><rect x="215.4" y="204.6" width="24.1" height="1.5" fill="#ffc050" opacity="0.25"/><rect x="84.1" y="17.2" width="19.2" height="1.0" fill="#ffc050" opacity="0.23"/><rect x="115.6" y="47.1" width="6.5" height="1.6" fill="#ffc050" opacity="0.11"/><rect x="200.7" y="24.2" width="27.9" height="1.0" fill="#ffc050" opacity="0.16"/><rect x="122.2" y="165.1" width="16.7" height="0.9" fill="#c05000" opacity="0.17"/><rect x="203.5" y="197.6" width="17.7" height="1.5" fill="#c05000" opacity="0.19"/><rect x="5.5" y="32.1" width="22.1" height="1.2" fill="#ffc050" opacity="0.12"/><rect x="48.1" y="213.2" width="21.2" height="1.1" fill="#c05000" opacity="0.14"/><rect x="60.0" y="126.4" width="7.8" height="0.8" fill="#ffc050" opacity="0.25"/><rect x="205.3" y="45.6" width="20.9" height="1.2" fill="#c05000" opacity="0.15"/><rect x="132.2" y="19.0" width="22.7" height="1.5" fill="#c05000" opacity="0.13"/><rect x="152.4" y="145.2" width="28.6" height="1.5" fill="#ffc050" opacity="0.11"/><rect x="60.4" y="132.5" width="18.5" height="1.1" fill="#ffc050" opacity="0.16"/><rect x="79.4" y="104.3" width="11.2" height="1.2" fill="#ffc050" opacity="0.26"/><rect x="16.7" y="190.9" width="21.2" height="1.1" fill="#ffc050" opacity="0.26"/><rect x="5.1" y="76.3" width="19.5" height="1.2" fill="#c05000" opacity="0.26"/><rect x="69.2" y="115.4" width="11.0" height="1.4" fill="#c05000" opacity="0.19"/><rect x="41.6" y="87.9" width="26.3" height="1.3" fill="#c05000" opacity="0.22"/><rect x="18.6" y="73.1" width="7.4" height="1.5" fill="#c05000" opacity="0.22"/><rect x="190.5" y="151.4" width="15.9" height="1.0" fill="#ffc050" opacity="0.24"/><rect x="108.4" y="155.3" width="24.7" height="0.8" fill="#c05000" opacity="0.14"/><rect x="155.0" y="105.2" width="11.8" height="1.3" fill="#ffc050" opacity="0.16"/><rect x="-5.2" y="150.6" width="15.9" height="1.5" fill="#c05000" opacity="0.19"/><rect x="142.6" y="149.6" width="21.5" height="1.1" fill="#ffc050" opacity="0.13"/><rect x="169.9" y="199.6" width="21.6" height="1.1" fill="#c05000" opacity="0.14"/><rect x="94.5" y="119.8" width="21.6" height="1.1" fill="#c05000" opacity="0.17"/><rect x="196.3" y="158.6" width="19.6" height="1.5" fill="#c05000" opacity="0.25"/><rect x="218.6" y="10.1" width="8.3" height="1.2" fill="#c05000" opacity="0.26"/><rect x="-9.2" y="52.6" width="29.0" height="1.2" fill="#ffc050" opacity="0.18"/><rect x="-12.8" y="62.4" width="19.4" height="1.2" fill="#ffc050" opacity="0.26"/><rect x="55.5" y="221.3" width="14.0" height="1.3" fill="#ffc050" opacity="0.14"/><rect x="204.2" y="28.4" width="19.4" height="1.0" fill="#c05000" opacity="0.14"/><rect x="149.4" y="130.0" width="10.3" height="1.2" fill="#ffc050" opacity="0.19"/><rect x="89.4" y="70.7" width="8.6" height="0.8" fill="#ffc050" opacity="0.24"/><rect x="145.3" y="56.1" width="8.8" height="0.8" fill="#c05000" opacity="0.23"/><rect x="202.4" y="119.6" width="27.4" height="0.8" fill="#ffc050" opacity="0.15"/><rect x="191.9" y="9.9" width="9.5" height="1.6" fill="#c05000" opacity="0.22"/><rect x="138.8" y="224.0" width="15.3" height="1.0" fill="#c05000" opacity="0.20"/><rect x="113.6" y="93.3" width="13.1" height="1.6" fill="#c05000" opacity="0.22"/><rect x="213.0" y="111.8" width="28.7" height="1.5" fill="#ffc050" opacity="0.13"/><rect x="42.0" y="21.0" width="14.9" height="1.6" fill="#ffc050" opacity="0.13"/><rect x="103.3" y="145.5" width="9.0" height="1.5" fill="#c05000" opacity="0.16"/><rect x="90.5" y="195.8" width="22.2" height="1.3" fill="#c05000" opacity="0.17"/><rect x="94.3" y="11.8" width="19.9" height="1.3" fill="#ffc050" opacity="0.11"/><rect x="98.0" y="56.9" width="17.6" height="1.0" fill="#c05000" opacity="0.15"/><rect x="49.5" y="164.9" width="9.6" height="1.1" fill="#c05000" opacity="0.20"/><rect x="217.9" y="218.1" width="25.0" height="1.4" fill="#c05000" opacity="0.17"/><rect x="10.9" y="209.9" width="11.0" height="0.9" fill="#ffc050" opacity="0.20"/><rect x="31.1" y="122.7" width="23.8" height="1.2" fill="#ffc050" opacity="0.15"/><rect x="15.4" y="211.0" width="15.1" height="1.0" fill="#c05000" opacity="0.24"/><rect x="-1.4" y="25.5" width="6.3" height="1.2" fill="#c05000" opacity="0.19"/><rect x="195.0" y="106.2" width="11.2" height="1.0" fill="#ffc050" opacity="0.24"/><rect x="7.7" y="182.6" width="6.0" height="1.6" fill="#c05000" opacity="0.15"/><rect x="-8.5" y="119.7" width="18.2" height="1.3" fill="#ffc050" opacity="0.13"/><rect x="60.6" y="127.1" width="17.6" height="1.2" fill="#c05000" opacity="0.26"/><rect x="35.5" y="162.1" width="12.1" height="1.4" fill="#c05000" opacity="0.13"/><rect x="53.0" y="182.2" width="19.6" height="1.5" fill="#c05000" opacity="0.14"/><rect x="45.3" y="32.1" width="20.5" height="1.3" fill="#c05000" opacity="0.23"/><rect x="96.4" y="185.0" width="15.0" height="1.3" fill="#c05000" opacity="0.25"/><rect x="94.1" y="224.4" width="14.3" height="1.3" fill="#ffc050" opacity="0.16"/><rect x="104.1" y="70.9" width="23.5" height="1.2" fill="#c05000" opacity="0.21"/><rect x="203.9" y="141.3" width="22.4" height="1.0" fill="#c05000" opacity="0.24"/><rect x="179.4" y="1.4" width="6.3" height="1.0" fill="#c05000" opacity="0.14"/><rect x="13.6" y="167.1" width="22.3" height="1.0" fill="#ffc050" opacity="0.17"/><rect x="141.4" y="128.4" width="14.6" height="0.8" fill="#c05000" opacity="0.14"/><rect x="129.9" y="88.5" width="21.7" height="1.1" fill="#c05000" opacity="0.21"/><rect x="19.2" y="155.3" width="14.8" height="1.3" fill="#ffc050" opacity="0.19"/><rect x="29.8" y="31.2" width="13.9" height="1.4" fill="#ffc050" opacity="0.25"/><rect x="33.9" y="165.1" width="20.1" height="1.0" fill="#ffc050" opacity="0.15"/><rect x="122.7" y="134.5" width="19.0" height="1.2" fill="#ffc050" opacity="0.23"/><rect x="70.4" y="196.4" width="16.8" height="0.8" fill="#c05000" opacity="0.20"/><rect x="177.1" y="23.0" width="22.2" height="0.8" fill="#ffc050" opacity="0.25"/><rect x="122.4" y="69.0" width="19.9" height="0.9" fill="#ffc050" opacity="0.22"/><rect x="84.7" y="75.3" width="25.2" height="1.0" fill="#c05000" opacity="0.16"/><rect x="90.3" y="174.4" width="27.4" height="0.8" fill="#ffc050" opacity="0.15"/><rect x="121.8" y="202.2" width="29.4" height="1.3" fill="#c05000" opacity="0.14"/><rect x="-15.0" y="93.5" width="14.0" height="1.5" fill="#ffc050" opacity="0.13"/><rect x="-14.4" y="77.7" width="9.7" height="1.1" fill="#c05000" opacity="0.19"/><rect x="150.5" y="184.6" width="11.1" height="1.3" fill="#c05000" opacity="0.20"/><rect x="204.2" y="112.8" width="20.4" height="1.5" fill="#ffc050" opacity="0.21"/><rect x="169.4" y="60.0" width="28.4" height="1.2" fill="#c05000" opacity="0.24"/><rect x="-7.1" y="18.2" width="15.7" height="1.3" fill="#ffc050" opacity="0.21"/><rect x="71.4" y="116.6" width="23.6" height="1.0" fill="#c05000" opacity="0.20"/><rect x="174.5" y="103.1" width="22.9" height="1.4" fill="#c05000" opacity="0.19"/><rect x="51.8" y="150.8" width="19.3" height="0.9" fill="#c05000" opacity="0.18"/><rect x="155.0" y="96.9" width="10.6" height="0.9" fill="#c05000" opacity="0.26"/><rect x="138.1" y="18.2" width="24.0" height="1.0" fill="#c05000" opacity="0.17"/><rect x="92.3" y="200.9" width="19.5" height="1.2" fill="#c05000" opacity="0.24"/><rect x="183.2" y="134.9" width="21.0" height="1.0" fill="#ffc050" opacity="0.15"/><rect x="124.9" y="49.7" width="16.0" height="0.8" fill="#ffc050" opacity="0.26"/><rect x="31.1" y="109.2" width="21.9" height="0.9" fill="#ffc050" opacity="0.26"/><rect x="67.8" y="150.1" width="9.2" height="1.0" fill="#c05000" opacity="0.16"/><rect x="134.3" y="63.1" width="11.8" height="1.5" fill="#ffc050" opacity="0.19"/><rect x="-4.5" y="28.4" width="27.9" height="1.2" fill="#ffc050" opacity="0.25"/><rect x="6.1" y="5.3" width="11.0" height="0.9" fill="#c05000" opacity="0.20"/><rect x="78.4" y="178.5" width="22.0" height="1.2" fill="#ffc050" opacity="0.17"/><rect x="76.1" y="151.9" width="21.9" height="1.5" fill="#c05000" opacity="0.24"/><rect x="215.8" y="158.9" width="16.3" height="1.4" fill="#ffc050" opacity="0.17"/><rect x="212.4" y="75.4" width="15.6" height="1.5" fill="#ffc050" opacity="0.11"/><rect x="151.5" y="11.7" width="10.1" height="0.8" fill="#c05000" opacity="0.15"/><rect x="133.6" y="89.0" width="23.9" height="1.0" fill="#c05000" opacity="0.24"/><rect x="87.7" y="12.1" width="7.2" height="1.2" fill="#c05000" opacity="0.18"/><rect x="39.4" y="210.5" width="21.7" height="0.9" fill="#c05000" opacity="0.23"/><rect x="159.1" y="76.7" width="24.1" height="1.1" fill="#ffc050" opacity="0.17"/><rect x="118.9" y="22.6" width="23.4" height="1.2" fill="#c05000" opacity="0.19"/><rect x="166.9" y="144.0" width="21.9" height="1.5" fill="#c05000" opacity="0.26"/><rect x="114.1" y="99.5" width="10.0" height="1.2" fill="#ffc050" opacity="0.16"/><rect x="195.2" y="209.9" width="25.7" height="1.3" fill="#ffc050" opacity="0.24"/><rect x="123.5" y="88.0" width="10.6" height="1.3" fill="#c05000" opacity="0.18"/><rect x="46.4" y="193.3" width="18.8" height="1.5" fill="#ffc050" opacity="0.19"/><rect x="181.3" y="212.8" width="8.7" height="1.2" fill="#c05000" opacity="0.13"/><rect x="180.2" y="197.2" width="29.3" height="0.9" fill="#ffc050" opacity="0.21"/><rect x="46.4" y="188.5" width="24.2" height="1.1" fill="#ffc050" opacity="0.26"/><rect x="217.7" y="157.2" width="24.6" height="1.0" fill="#c05000" opacity="0.22"/><rect x="168.1" y="22.3" width="22.5" height="1.3" fill="#ffc050" opacity="0.26"/><rect x="52.7" y="153.9" width="29.1" height="1.0" fill="#c05000" opacity="0.17"/><rect x="88.6" y="77.5" width="26.1" height="1.6" fill="#ffc050" opacity="0.16"/><rect x="52.1" y="79.8" width="24.9" height="0.9" fill="#ffc050" opacity="0.23"/><rect x="17.6" y="167.5" width="16.2" height="1.5" fill="#ffc050" opacity="0.25"/><rect x="172.2" y="8.9" width="11.9" height="0.9" fill="#c05000" opacity="0.26"/><rect x="115.9" y="66.4" width="19.2" height="1.1" fill="#c05000" opacity="0.23"/><rect x="141.4" y="180.0" width="7.2" height="1.0" fill="#ffc050" opacity="0.26"/><rect x="196.2" y="94.6" width="16.0" height="1.0" fill="#ffc050" opacity="0.22"/><rect x="96.4" y="22.7" width="18.7" height="1.5" fill="#c05000" opacity="0.12"/><rect x="85.0" y="80.5" width="24.6" height="1.4" fill="#ffc050" opacity="0.15"/><rect x="68.8" y="136.3" width="10.1" height="1.5" fill="#c05000" opacity="0.17"/><rect x="31.7" y="83.6" width="14.4" height="0.9" fill="#ffc050" opacity="0.25"/><rect x="43.0" y="100.2" width="12.3" height="1.2" fill="#ffc050" opacity="0.17"/><rect x="59.5" y="178.5" width="11.2" height="1.4" fill="#ffc050" opacity="0.13"/><rect x="0.6" y="34.3" width="19.0" height="1.4" fill="#ffc050" opacity="0.17"/><rect x="39.7" y="190.0" width="15.1" height="1.5" fill="#c05000" opacity="0.23"/><rect x="100.1" y="153.0" width="16.2" height="1.1" fill="#c05000" opacity="0.17"/><rect x="113.5" y="154.4" width="27.8" height="1.5" fill="#ffc050" opacity="0.22"/><rect x="204.0" y="30.8" width="22.8" height="1.2" fill="#c05000" opacity="0.25"/><rect x="200.2" y="120.5" width="25.2" height="1.5" fill="#ffc050" opacity="0.14"/><rect x="64.2" y="114.5" width="16.6" height="1.0" fill="#ffc050" opacity="0.22"/><rect x="106.5" y="89.8" width="9.6" height="1.4" fill="#ffc050" opacity="0.17"/><rect x="202.9" y="127.7" width="8.1" height="1.5" fill="#ffc050" opacity="0.22"/><rect x="17.3" y="180.8" width="16.3" height="1.6" fill="#c05000" opacity="0.22"/><rect x="63.9" y="218.0" width="22.0" height="0.9" fill="#c05000" opacity="0.20"/><rect x="108.4" y="70.8" width="27.1" height="0.9" fill="#ffc050" opacity="0.19"/><rect x="47.5" y="131.9" width="25.3" height="1.2" fill="#ffc050" opacity="0.20"/><rect x="200.2" y="6.1" width="21.0" height="1.5" fill="#ffc050" opacity="0.23"/><rect x="102.0" y="134.0" width="22.6" height="1.2" fill="#ffc050" opacity="0.11"/><rect x="126.8" y="12.3" width="18.7" height="1.3" fill="#c05000" opacity="0.22"/><rect x="76.9" y="150.8" width="23.5" height="1.6" fill="#ffc050" opacity="0.20"/><rect x="145.8" y="98.5" width="16.6" height="1.3" fill="#ffc050" opacity="0.26"/><rect x="197.6" y="132.5" width="15.4" height="1.5" fill="#c05000" opacity="0.23"/><rect x="202.5" y="19.2" width="19.6" height="1.5" fill="#ffc050" opacity="0.20"/><rect x="118.7" y="187.0" width="10.2" height="1.0" fill="#c05000" opacity="0.19"/><rect x="-2.9" y="51.0" width="17.9" height="0.9" fill="#ffc050" opacity="0.24"/><rect x="127.3" y="126.5" width="9.7" height="1.4" fill="#ffc050" opacity="0.20"/><rect x="62.5" y="88.4" width="27.7" height="1.0" fill="#ffc050" opacity="0.21"/><rect x="153.6" y="143.9" width="12.5" height="1.1" fill="#ffc050" opacity="0.12"/><rect x="137.4" y="107.7" width="18.0" height="1.0" fill="#c05000" opacity="0.22"/><rect x="158.2" y="184.3" width="9.8" height="0.9" fill="#c05000" opacity="0.12"/><rect x="52.2" y="133.3" width="14.1" height="1.4" fill="#ffc050" opacity="0.12"/><rect x="222.5" y="72.2" width="9.0" height="1.3" fill="#c05000" opacity="0.17"/><rect x="20.1" y="140.5" width="25.9" height="1.4" fill="#c05000" opacity="0.12"/><rect x="19.2" y="73.4" width="29.5" height="1.4" fill="#ffc050" opacity="0.26"/><rect x="35.5" y="208.8" width="27.0" height="1.1" fill="#ffc050" opacity="0.22"/><rect x="35.9" y="99.4" width="20.7" height="1.5" fill="#ffc050" opacity="0.24"/><rect x="181.5" y="18.7" width="11.1" height="1.6" fill="#ffc050" opacity="0.26"/><rect x="197.4" y="129.1" width="20.3" height="1.2" fill="#ffc050" opacity="0.21"/><rect x="60.4" y="24.8" width="24.3" height="0.9" fill="#c05000" opacity="0.13"/><rect x="11.1" y="219.4" width="27.1" height="1.0" fill="#c05000" opacity="0.15"/><rect x="11.4" y="86.6" width="10.5" height="1.2" fill="#c05000" opacity="0.24"/><rect x="31.5" y="179.2" width="23.9" height="0.9" fill="#c05000" opacity="0.16"/><rect x="116.5" y="87.5" width="19.4" height="1.5" fill="#ffc050" opacity="0.26"/></g></svg>
<svg x="1107" y="62" width="226" height="227" viewBox="0 0 226 227" overflow="hidden"><rect width="227" height="227" fill="#f28a0e"/><g filter="url(#b6)"><ellipse cx="55" cy="60" rx="60" ry="40" fill="#e05a06" opacity="0.55"/><ellipse cx="120" cy="212" rx="110" ry="18" fill="#e06008" opacity="0.45"/><ellipse cx="150" cy="12" rx="80" ry="9" fill="#ffc840" opacity="0.8"/><ellipse cx="40" cy="12" rx="30" ry="8" fill="#ffb030" opacity="0.5"/><ellipse cx="100" cy="118" rx="70" ry="20" fill="#ffbc30" opacity="0.8" transform="rotate(12 100 118)"/><ellipse cx="185" cy="128" rx="45" ry="16" fill="#ffbc30" opacity="0.7"/><circle cx="140" cy="167" r="10" fill="#ffb830" opacity="0.68"/><circle cx="166" cy="208" r="6" fill="#ffb830" opacity="0.49"/><circle cx="212" cy="146" r="11" fill="#ffb830" opacity="0.35"/><circle cx="106" cy="55" r="9" fill="#ffb830" opacity="0.53"/><circle cx="3" cy="49" r="7" fill="#ffb830" opacity="0.67"/><circle cx="172" cy="36" r="10" fill="#ffb830" opacity="0.36"/><circle cx="139" cy="29" r="6" fill="#ffb830" opacity="0.65"/><circle cx="47" cy="48" r="11" fill="#ffb830" opacity="0.65"/><circle cx="65" cy="216" r="9" fill="#ffb830" opacity="0.57"/><circle cx="46" cy="212" r="9" fill="#ffb830" opacity="0.69"/><circle cx="201" cy="67" r="8" fill="#ffb830" opacity="0.37"/><circle cx="33" cy="15" r="8" fill="#ffb830" opacity="0.54"/><circle cx="1" cy="153" r="8" fill="#ffb830" opacity="0.42"/><circle cx="184" cy="108" r="8" fill="#ffb830" opacity="0.49"/><circle cx="159" cy="13" r="11" fill="#ffb830" opacity="0.31"/><circle cx="169" cy="190" r="6" fill="#ffb830" opacity="0.62"/><circle cx="82" cy="130" r="6" fill="#ffb830" opacity="0.32"/><circle cx="41" cy="215" r="7" fill="#ffb830" opacity="0.60"/><circle cx="209" cy="212" r="8" fill="#ffb830" opacity="0.44"/><circle cx="118" cy="175" r="7" fill="#ffb830" opacity="0.60"/><circle cx="179" cy="193" r="6" fill="#ffb830" opacity="0.68"/><circle cx="21" cy="77" r="9" fill="#ffb830" opacity="0.67"/><circle cx="76" cy="208" r="9" fill="#ffb830" opacity="0.42"/><circle cx="71" cy="40" r="6" fill="#ffb830" opacity="0.36"/><circle cx="155" cy="224" r="7" fill="#ffb830" opacity="0.32"/><circle cx="222" cy="120" r="8" fill="#ffb830" opacity="0.39"/><circle cx="134" cy="186" r="8" fill="#ffb830" opacity="0.47"/><circle cx="13" cy="206" r="6" fill="#ffb830" opacity="0.50"/><circle cx="189" cy="29" r="10" fill="#ffb830" opacity="0.68"/><circle cx="142" cy="177" r="7" fill="#ffb830" opacity="0.47"/></g><g filter="url(#b2)"><ellipse cx="15.6" cy="50.0" rx="30.0" ry="21.0" fill="url(#gDarkE)" opacity="1.00"/><ellipse cx="46.8" cy="33.0" rx="30.0" ry="21.0" fill="url(#gDarkE)" opacity="0.90"/><ellipse cx="86.7" cy="46.8" rx="30.0" ry="21.0" fill="url(#gDarkE)" opacity="0.85"/><ellipse cx="17.3" cy="88.4" rx="30.0" ry="21.0" fill="url(#gDarkE)" opacity="0.85"/><ellipse cx="50.0" cy="67.6" rx="30.0" ry="21.0" fill="url(#gDarkE)" opacity="0.60"/><ellipse cx="93.6" cy="88.4" rx="30.0" ry="21.0" fill="url(#gDarkE)" opacity="0.85"/><ellipse cx="14.0" cy="17.0" rx="30.0" ry="21.0" fill="url(#gDarkE)" opacity="0.60"/><ellipse cx="83.0" cy="14.0" rx="30.0" ry="21.0" fill="url(#gDarkE)" opacity="0.60"/><ellipse cx="191.0" cy="26.9" rx="30.0" ry="21.0" fill="url(#gDarkE)" opacity="1.00"/><ellipse cx="159.8" cy="49.4" rx="30.0" ry="21.0" fill="url(#gDarkE)" opacity="1.00"/><ellipse cx="121.7" cy="30.3" rx="30.0" ry="21.0" fill="url(#gDarkE)" opacity="0.85"/><ellipse cx="198.0" cy="65.0" rx="30.0" ry="21.0" fill="url(#gDarkE)" opacity="1.00"/><ellipse cx="224.0" cy="45.0" rx="30.0" ry="21.0" fill="url(#gDarkE)" opacity="0.75"/><ellipse cx="133.8" cy="69.3" rx="30.0" ry="21.0" fill="url(#gDarkE)" opacity="0.70"/><ellipse cx="156.3" cy="10.4" rx="30.0" ry="21.0" fill="url(#gDarkE)" opacity="0.60"/><ellipse cx="173.7" cy="90.0" rx="30.0" ry="21.0" fill="url(#gDarkE)" opacity="0.75"/><ellipse cx="203.0" cy="104.0" rx="30.0" ry="21.0" fill="url(#gDarkE)" opacity="0.85"/><ellipse cx="24.3" cy="133.8" rx="30.0" ry="21.0" fill="url(#gDarkE)" opacity="0.85"/><ellipse cx="62.4" cy="158.0" rx="30.0" ry="21.0" fill="url(#gDarkE)" opacity="0.90"/><ellipse cx="27.7" cy="180.6" rx="30.0" ry="21.0" fill="url(#gDarkE)" opacity="1.00"/><ellipse cx="67.6" cy="201.4" rx="30.0" ry="21.0" fill="url(#gDarkE)" opacity="1.00"/><ellipse cx="100.5" cy="178.9" rx="30.0" ry="21.0" fill="url(#gDarkE)" opacity="0.85"/><ellipse cx="10.4" cy="213.5" rx="30.0" ry="21.0" fill="url(#gDarkE)" opacity="0.60"/><ellipse cx="90.0" cy="133.8" rx="30.0" ry="21.0" fill="url(#gDarkE)" opacity="0.60"/><ellipse cx="166.7" cy="175.4" rx="30.0" ry="21.0" fill="url(#gDarkE)" opacity="1.00"/><ellipse cx="135.5" cy="196.2" rx="30.0" ry="21.0" fill="url(#gDarkE)" opacity="0.85"/><ellipse cx="130.3" cy="150.3" rx="30.0" ry="21.0" fill="url(#gDarkE)" opacity="0.70"/><ellipse cx="203.0" cy="193.0" rx="30.0" ry="21.0" fill="url(#gDarkE)" opacity="0.75"/><ellipse cx="210.0" cy="114.7" rx="30.0" ry="21.0" fill="url(#gDarkE)" opacity="0.85"/><ellipse cx="224.0" cy="153.0" rx="30.0" ry="21.0" fill="url(#gDarkE)" opacity="0.65"/><ellipse cx="177.0" cy="218.7" rx="30.0" ry="21.0" fill="url(#gDarkE)" opacity="0.75"/></g><rect x="0" y="0" width="6" height="227" fill="url(#gLeftEdgeY)"/><rect x="0" y="0" width="227" height="4" fill="url(#gTopEdgeY)"/><g filter="url(#bx)"><rect x="177.6" y="117.4" width="29.1" height="1.4" fill="#ffb040" opacity="0.22"/><rect x="7.0" y="148.8" width="6.6" height="1.4" fill="#ffb040" opacity="0.15"/><rect x="57.8" y="112.9" width="26.3" height="1.1" fill="#c04800" opacity="0.26"/><rect x="179.1" y="14.0" width="27.0" height="1.4" fill="#ffb040" opacity="0.20"/><rect x="31.5" y="214.9" width="19.0" height="1.3" fill="#c04800" opacity="0.16"/><rect x="210.2" y="18.4" width="17.4" height="0.9" fill="#c04800" opacity="0.24"/><rect x="205.4" y="183.0" width="6.4" height="0.8" fill="#ffb040" opacity="0.23"/><rect x="215.1" y="79.8" width="15.0" height="1.5" fill="#c04800" opacity="0.15"/><rect x="214.6" y="125.3" width="18.6" height="1.0" fill="#ffb040" opacity="0.23"/><rect x="128.0" y="43.4" width="19.3" height="0.9" fill="#c04800" opacity="0.21"/><rect x="58.1" y="206.2" width="14.0" height="1.3" fill="#c04800" opacity="0.15"/><rect x="164.6" y="2.2" width="14.4" height="1.0" fill="#ffb040" opacity="0.21"/><rect x="55.9" y="164.0" width="7.8" height="1.5" fill="#c04800" opacity="0.11"/><rect x="148.1" y="126.9" width="15.7" height="1.6" fill="#c04800" opacity="0.20"/><rect x="27.9" y="88.1" width="12.0" height="0.9" fill="#ffb040" opacity="0.14"/><rect x="111.6" y="189.5" width="25.3" height="1.4" fill="#c04800" opacity="0.12"/><rect x="2.7" y="208.3" width="24.5" height="1.3" fill="#c04800" opacity="0.17"/><rect x="0.9" y="16.9" width="21.3" height="1.2" fill="#ffb040" opacity="0.15"/><rect x="52.3" y="36.8" width="23.4" height="1.1" fill="#ffb040" opacity="0.18"/><rect x="106.3" y="124.6" width="16.7" height="1.4" fill="#c04800" opacity="0.15"/><rect x="26.3" y="71.6" width="14.7" height="1.4" fill="#ffb040" opacity="0.20"/><rect x="198.9" y="95.1" width="13.9" height="1.5" fill="#c04800" opacity="0.20"/><rect x="70.1" y="137.9" width="30.0" height="1.0" fill="#c04800" opacity="0.16"/><rect x="107.1" y="133.1" width="18.6" height="1.3" fill="#ffb040" opacity="0.22"/><rect x="90.1" y="172.1" width="16.7" height="1.2" fill="#ffb040" opacity="0.18"/><rect x="44.5" y="2.7" width="29.7" height="1.2" fill="#c04800" opacity="0.23"/><rect x="45.5" y="47.5" width="18.4" height="0.8" fill="#c04800" opacity="0.18"/><rect x="130.0" y="203.9" width="29.8" height="1.5" fill="#ffb040" opacity="0.24"/><rect x="111.5" y="5.9" width="24.2" height="1.3" fill="#ffb040" opacity="0.24"/><rect x="84.9" y="178.6" width="7.4" height="1.0" fill="#ffb040" opacity="0.19"/><rect x="65.1" y="60.6" width="19.0" height="1.6" fill="#c04800" opacity="0.17"/><rect x="163.8" y="1.7" width="14.1" height="1.5" fill="#c04800" opacity="0.12"/><rect x="49.8" y="164.4" width="13.7" height="1.2" fill="#ffb040" opacity="0.15"/><rect x="49.4" y="111.3" width="9.0" height="1.3" fill="#ffb040" opacity="0.16"/><rect x="69.6" y="45.1" width="11.1" height="1.4" fill="#c04800" opacity="0.13"/><rect x="86.8" y="66.1" width="18.7" height="1.2" fill="#ffb040" opacity="0.23"/><rect x="117.0" y="34.7" width="9.9" height="1.1" fill="#ffb040" opacity="0.23"/><rect x="214.4" y="198.2" width="15.8" height="0.9" fill="#c04800" opacity="0.22"/><rect x="84.6" y="175.1" width="13.7" height="1.4" fill="#c04800" opacity="0.23"/><rect x="39.4" y="65.0" width="12.0" height="0.8" fill="#ffb040" opacity="0.13"/><rect x="85.5" y="110.9" width="27.4" height="0.9" fill="#ffb040" opacity="0.25"/><rect x="63.2" y="16.4" width="24.3" height="1.6" fill="#ffb040" opacity="0.22"/><rect x="191.5" y="69.4" width="28.1" height="0.9" fill="#ffb040" opacity="0.13"/><rect x="197.6" y="184.0" width="21.7" height="1.4" fill="#c04800" opacity="0.15"/><rect x="192.6" y="48.0" width="26.1" height="1.0" fill="#ffb040" opacity="0.12"/><rect x="202.7" y="91.0" width="10.9" height="0.8" fill="#ffb040" opacity="0.20"/><rect x="145.3" y="13.5" width="17.8" height="1.0" fill="#ffb040" opacity="0.16"/><rect x="210.5" y="200.9" width="24.0" height="1.0" fill="#ffb040" opacity="0.17"/><rect x="211.0" y="197.1" width="11.5" height="1.1" fill="#c04800" opacity="0.18"/><rect x="156.8" y="44.5" width="24.8" height="1.2" fill="#c04800" opacity="0.18"/><rect x="12.2" y="145.4" width="27.1" height="1.0" fill="#c04800" opacity="0.17"/><rect x="188.7" y="109.4" width="22.6" height="1.6" fill="#ffb040" opacity="0.25"/><rect x="100.7" y="193.0" width="17.4" height="1.6" fill="#ffb040" opacity="0.18"/><rect x="25.1" y="215.9" width="6.7" height="1.0" fill="#ffb040" opacity="0.15"/><rect x="10.5" y="8.1" width="16.6" height="1.0" fill="#ffb040" opacity="0.20"/><rect x="56.3" y="58.5" width="15.1" height="1.3" fill="#ffb040" opacity="0.23"/><rect x="111.4" y="7.0" width="18.8" height="1.4" fill="#c04800" opacity="0.15"/><rect x="200.7" y="138.6" width="28.8" height="0.9" fill="#c04800" opacity="0.17"/><rect x="60.7" y="107.7" width="24.2" height="1.6" fill="#ffb040" opacity="0.11"/><rect x="7.8" y="181.8" width="18.4" height="1.1" fill="#ffb040" opacity="0.20"/><rect x="-10.0" y="215.7" width="15.4" height="1.4" fill="#ffb040" opacity="0.13"/><rect x="178.2" y="44.3" width="7.1" height="1.0" fill="#c04800" opacity="0.26"/><rect x="3.6" y="23.9" width="17.4" height="1.3" fill="#ffb040" opacity="0.16"/><rect x="-15.9" y="74.4" width="8.1" height="1.2" fill="#ffb040" opacity="0.24"/><rect x="59.2" y="120.8" width="17.0" height="1.5" fill="#c04800" opacity="0.12"/><rect x="52.7" y="145.5" width="28.3" height="1.3" fill="#c04800" opacity="0.21"/><rect x="-2.6" y="171.5" width="13.7" height="0.9" fill="#ffb040" opacity="0.25"/><rect x="29.1" y="128.7" width="13.1" height="0.9" fill="#ffb040" opacity="0.24"/><rect x="-6.2" y="85.7" width="18.4" height="1.4" fill="#ffb040" opacity="0.15"/><rect x="102.9" y="53.6" width="15.7" height="1.4" fill="#ffb040" opacity="0.24"/><rect x="141.1" y="187.0" width="17.3" height="1.0" fill="#c04800" opacity="0.13"/><rect x="110.0" y="46.1" width="11.0" height="1.5" fill="#ffb040" opacity="0.21"/><rect x="9.9" y="44.8" width="6.1" height="1.0" fill="#ffb040" opacity="0.22"/><rect x="74.7" y="186.6" width="7.1" height="1.6" fill="#c04800" opacity="0.11"/><rect x="224.5" y="141.5" width="13.8" height="1.4" fill="#c04800" opacity="0.21"/><rect x="172.6" y="38.9" width="20.1" height="1.3" fill="#c04800" opacity="0.24"/><rect x="206.2" y="128.6" width="8.7" height="0.9" fill="#ffb040" opacity="0.19"/><rect x="204.8" y="161.7" width="6.2" height="1.1" fill="#ffb040" opacity="0.21"/><rect x="48.6" y="89.8" width="10.9" height="1.3" fill="#c04800" opacity="0.26"/><rect x="96.6" y="73.6" width="29.1" height="1.0" fill="#c04800" opacity="0.22"/><rect x="2.0" y="100.6" width="8.5" height="1.0" fill="#ffb040" opacity="0.15"/><rect x="43.1" y="162.7" width="16.8" height="0.8" fill="#ffb040" opacity="0.23"/><rect x="19.6" y="60.2" width="18.3" height="0.8" fill="#ffb040" opacity="0.13"/><rect x="66.8" y="9.1" width="13.8" height="0.9" fill="#ffb040" opacity="0.24"/><rect x="128.7" y="129.5" width="6.2" height="0.8" fill="#c04800" opacity="0.23"/><rect x="80.7" y="147.1" width="14.0" height="1.3" fill="#ffb040" opacity="0.24"/><rect x="1.8" y="12.8" width="21.0" height="1.3" fill="#ffb040" opacity="0.17"/><rect x="181.8" y="7.7" width="10.5" height="1.4" fill="#ffb040" opacity="0.25"/><rect x="207.8" y="192.7" width="13.7" height="1.2" fill="#ffb040" opacity="0.24"/><rect x="133.1" y="146.1" width="22.9" height="1.3" fill="#ffb040" opacity="0.18"/><rect x="55.9" y="198.1" width="19.1" height="1.4" fill="#c04800" opacity="0.23"/><rect x="12.6" y="168.2" width="29.2" height="1.4" fill="#ffb040" opacity="0.16"/><rect x="68.8" y="22.6" width="8.7" height="1.6" fill="#ffb040" opacity="0.24"/><rect x="101.0" y="83.3" width="20.4" height="0.9" fill="#ffb040" opacity="0.18"/><rect x="215.3" y="190.2" width="20.6" height="1.1" fill="#c04800" opacity="0.23"/><rect x="201.2" y="182.2" width="10.6" height="0.9" fill="#ffb040" opacity="0.20"/><rect x="124.8" y="106.4" width="18.8" height="0.9" fill="#ffb040" opacity="0.16"/><rect x="47.7" y="175.6" width="29.2" height="1.0" fill="#c04800" opacity="0.18"/><rect x="-17.8" y="179.6" width="24.5" height="1.3" fill="#ffb040" opacity="0.11"/><rect x="-6.0" y="146.1" width="12.8" height="1.3" fill="#c04800" opacity="0.17"/><rect x="69.4" y="58.0" width="13.2" height="1.0" fill="#ffb040" opacity="0.19"/><rect x="181.5" y="169.2" width="15.5" height="1.1" fill="#c04800" opacity="0.24"/><rect x="164.5" y="183.2" width="27.8" height="1.5" fill="#c04800" opacity="0.15"/><rect x="119.4" y="113.9" width="18.8" height="1.0" fill="#ffb040" opacity="0.21"/><rect x="151.9" y="82.6" width="23.6" height="0.9" fill="#c04800" opacity="0.18"/><rect x="57.1" y="207.5" width="8.2" height="1.1" fill="#c04800" opacity="0.14"/><rect x="204.1" y="115.4" width="19.5" height="0.8" fill="#ffb040" opacity="0.17"/><rect x="216.0" y="59.3" width="27.2" height="1.5" fill="#c04800" opacity="0.15"/><rect x="115.2" y="143.0" width="18.8" height="1.0" fill="#ffb040" opacity="0.13"/><rect x="149.0" y="12.4" width="10.0" height="1.3" fill="#c04800" opacity="0.16"/><rect x="2.6" y="201.3" width="10.9" height="1.1" fill="#c04800" opacity="0.25"/><rect x="-20.0" y="110.8" width="28.3" height="1.2" fill="#c04800" opacity="0.22"/><rect x="4.9" y="153.7" width="24.1" height="1.4" fill="#ffb040" opacity="0.11"/><rect x="28.3" y="92.0" width="28.2" height="0.8" fill="#ffb040" opacity="0.16"/><rect x="27.3" y="183.8" width="22.4" height="1.3" fill="#c04800" opacity="0.17"/><rect x="9.2" y="167.6" width="12.4" height="1.0" fill="#c04800" opacity="0.15"/><rect x="110.8" y="30.7" width="28.3" height="1.2" fill="#ffb040" opacity="0.25"/><rect x="98.6" y="19.6" width="13.2" height="1.6" fill="#c04800" opacity="0.25"/><rect x="29.5" y="74.7" width="18.3" height="1.0" fill="#c04800" opacity="0.15"/><rect x="209.9" y="87.1" width="13.1" height="1.1" fill="#ffb040" opacity="0.19"/><rect x="169.7" y="50.1" width="10.7" height="1.1" fill="#ffb040" opacity="0.25"/><rect x="93.9" y="219.5" width="15.6" height="1.3" fill="#ffb040" opacity="0.13"/><rect x="45.0" y="8.7" width="19.7" height="0.9" fill="#ffb040" opacity="0.19"/><rect x="211.1" y="216.3" width="11.9" height="1.3" fill="#ffb040" opacity="0.24"/><rect x="106.4" y="27.7" width="13.5" height="1.6" fill="#c04800" opacity="0.15"/><rect x="15.3" y="215.6" width="12.0" height="1.1" fill="#c04800" opacity="0.26"/><rect x="134.4" y="130.1" width="28.1" height="1.1" fill="#c04800" opacity="0.17"/><rect x="38.4" y="78.9" width="13.7" height="1.1" fill="#c04800" opacity="0.12"/><rect x="142.9" y="182.9" width="28.0" height="1.1" fill="#c04800" opacity="0.23"/><rect x="121.8" y="157.5" width="20.5" height="1.0" fill="#ffb040" opacity="0.12"/><rect x="104.9" y="97.8" width="10.2" height="1.5" fill="#c04800" opacity="0.16"/><rect x="-0.6" y="30.0" width="21.1" height="1.1" fill="#c04800" opacity="0.23"/><rect x="60.4" y="55.8" width="11.4" height="0.8" fill="#ffb040" opacity="0.25"/><rect x="2.1" y="32.1" width="21.6" height="1.2" fill="#ffb040" opacity="0.11"/><rect x="97.6" y="13.2" width="28.9" height="0.9" fill="#ffb040" opacity="0.23"/><rect x="105.7" y="169.6" width="23.5" height="1.0" fill="#ffb040" opacity="0.16"/><rect x="120.2" y="62.8" width="24.0" height="1.3" fill="#c04800" opacity="0.14"/><rect x="40.5" y="159.8" width="9.3" height="1.6" fill="#ffb040" opacity="0.17"/><rect x="170.8" y="152.8" width="21.3" height="1.3" fill="#ffb040" opacity="0.21"/><rect x="9.6" y="61.1" width="7.4" height="1.5" fill="#c04800" opacity="0.11"/><rect x="174.2" y="92.3" width="26.5" height="0.9" fill="#c04800" opacity="0.16"/><rect x="74.8" y="12.6" width="23.9" height="1.6" fill="#ffb040" opacity="0.15"/><rect x="113.6" y="110.8" width="18.5" height="1.2" fill="#c04800" opacity="0.23"/><rect x="214.4" y="130.7" width="26.2" height="1.6" fill="#c04800" opacity="0.21"/><rect x="24.1" y="95.1" width="11.9" height="1.4" fill="#ffb040" opacity="0.18"/><rect x="50.4" y="11.8" width="19.1" height="1.5" fill="#ffb040" opacity="0.16"/><rect x="204.0" y="25.4" width="17.0" height="0.9" fill="#ffb040" opacity="0.19"/><rect x="57.2" y="210.9" width="14.7" height="1.3" fill="#c04800" opacity="0.23"/><rect x="190.8" y="0.5" width="29.7" height="1.4" fill="#ffb040" opacity="0.13"/><rect x="205.5" y="56.7" width="11.3" height="1.1" fill="#ffb040" opacity="0.13"/><rect x="0.5" y="203.4" width="28.8" height="1.3" fill="#ffb040" opacity="0.16"/><rect x="126.7" y="65.9" width="28.4" height="1.0" fill="#c04800" opacity="0.20"/><rect x="220.7" y="152.5" width="15.4" height="1.2" fill="#c04800" opacity="0.26"/><rect x="47.5" y="124.4" width="23.2" height="0.9" fill="#c04800" opacity="0.17"/><rect x="205.6" y="107.2" width="27.9" height="1.3" fill="#ffb040" opacity="0.21"/><rect x="-7.0" y="128.3" width="16.1" height="1.0" fill="#c04800" opacity="0.25"/><rect x="77.3" y="172.6" width="11.5" height="1.5" fill="#ffb040" opacity="0.20"/><rect x="82.9" y="186.0" width="21.4" height="0.9" fill="#ffb040" opacity="0.18"/><rect x="96.4" y="45.7" width="14.4" height="1.0" fill="#ffb040" opacity="0.25"/><rect x="192.6" y="197.5" width="11.2" height="1.3" fill="#ffb040" opacity="0.14"/><rect x="168.1" y="87.7" width="28.9" height="1.2" fill="#ffb040" opacity="0.19"/><rect x="195.1" y="98.0" width="6.4" height="1.5" fill="#c04800" opacity="0.17"/><rect x="169.8" y="169.6" width="16.0" height="1.0" fill="#ffb040" opacity="0.25"/><rect x="171.6" y="80.2" width="8.0" height="1.0" fill="#c04800" opacity="0.21"/><rect x="159.4" y="65.2" width="22.8" height="1.0" fill="#c04800" opacity="0.17"/><rect x="134.7" y="201.1" width="8.4" height="1.3" fill="#ffb040" opacity="0.13"/><rect x="91.0" y="16.8" width="12.9" height="1.2" fill="#ffb040" opacity="0.21"/><rect x="207.7" y="36.1" width="7.9" height="1.1" fill="#c04800" opacity="0.18"/><rect x="77.1" y="130.8" width="17.2" height="1.3" fill="#c04800" opacity="0.19"/><rect x="211.1" y="58.4" width="21.9" height="1.6" fill="#ffb040" opacity="0.15"/><rect x="212.5" y="213.1" width="25.4" height="1.6" fill="#ffb040" opacity="0.19"/><rect x="94.2" y="2.3" width="18.9" height="0.8" fill="#ffb040" opacity="0.13"/><rect x="61.5" y="50.4" width="12.2" height="1.4" fill="#c04800" opacity="0.20"/><rect x="35.8" y="115.6" width="16.4" height="1.1" fill="#ffb040" opacity="0.15"/><rect x="112.5" y="219.3" width="15.9" height="1.3" fill="#c04800" opacity="0.24"/><rect x="215.8" y="182.1" width="12.5" height="1.5" fill="#c04800" opacity="0.17"/><rect x="-3.2" y="200.7" width="7.9" height="1.1" fill="#ffb040" opacity="0.15"/><rect x="110.1" y="58.9" width="20.2" height="1.5" fill="#ffb040" opacity="0.26"/><rect x="157.2" y="219.1" width="29.0" height="1.5" fill="#c04800" opacity="0.19"/><rect x="-15.3" y="219.0" width="23.1" height="0.9" fill="#c04800" opacity="0.24"/><rect x="203.0" y="83.2" width="29.8" height="1.6" fill="#ffb040" opacity="0.13"/><rect x="192.4" y="49.4" width="24.4" height="1.1" fill="#ffb040" opacity="0.18"/><rect x="-10.8" y="162.4" width="19.5" height="1.4" fill="#c04800" opacity="0.12"/><rect x="38.2" y="55.0" width="16.4" height="1.2" fill="#c04800" opacity="0.17"/><rect x="184.7" y="94.8" width="29.1" height="1.0" fill="#c04800" opacity="0.12"/><rect x="-16.1" y="140.0" width="11.5" height="1.0" fill="#ffb040" opacity="0.11"/><rect x="214.5" y="13.8" width="27.6" height="1.5" fill="#ffb040" opacity="0.23"/><rect x="174.9" y="213.1" width="12.9" height="0.9" fill="#c04800" opacity="0.20"/><rect x="-3.0" y="182.9" width="10.0" height="1.2" fill="#c04800" opacity="0.14"/><rect x="63.3" y="85.9" width="6.4" height="1.1" fill="#c04800" opacity="0.20"/><rect x="212.1" y="149.6" width="26.0" height="1.1" fill="#c04800" opacity="0.20"/><rect x="19.7" y="49.6" width="23.0" height="1.5" fill="#c04800" opacity="0.12"/><rect x="153.6" y="162.9" width="23.8" height="1.2" fill="#ffb040" opacity="0.23"/><rect x="68.5" y="31.3" width="8.4" height="1.0" fill="#c04800" opacity="0.23"/><rect x="201.6" y="7.8" width="18.0" height="0.9" fill="#ffb040" opacity="0.16"/><rect x="79.1" y="154.0" width="10.1" height="1.3" fill="#ffb040" opacity="0.11"/><rect x="93.7" y="126.8" width="19.8" height="1.5" fill="#ffb040" opacity="0.13"/><rect x="152.0" y="160.9" width="26.6" height="1.3" fill="#c04800" opacity="0.21"/><rect x="40.0" y="76.7" width="11.6" height="1.2" fill="#c04800" opacity="0.18"/><rect x="168.3" y="218.3" width="22.1" height="1.0" fill="#c04800" opacity="0.20"/><rect x="171.9" y="45.9" width="19.6" height="1.1" fill="#ffb040" opacity="0.26"/><rect x="101.8" y="196.8" width="12.5" height="1.2" fill="#ffb040" opacity="0.13"/><rect x="104.9" y="125.0" width="17.1" height="1.1" fill="#c04800" opacity="0.23"/><rect x="169.5" y="54.9" width="17.1" height="1.1" fill="#ffb040" opacity="0.14"/><rect x="-15.3" y="77.4" width="15.6" height="0.9" fill="#c04800" opacity="0.16"/><rect x="14.0" y="56.1" width="29.9" height="1.4" fill="#c04800" opacity="0.16"/><rect x="31.2" y="217.4" width="15.1" height="1.6" fill="#ffb040" opacity="0.13"/><rect x="177.1" y="198.9" width="24.2" height="1.6" fill="#c04800" opacity="0.19"/><rect x="99.9" y="156.6" width="14.5" height="1.5" fill="#ffb040" opacity="0.24"/><rect x="82.4" y="68.1" width="18.4" height="0.9" fill="#ffb040" opacity="0.20"/><rect x="224.4" y="2.4" width="12.8" height="1.2" fill="#c04800" opacity="0.22"/><rect x="0.2" y="189.6" width="9.4" height="1.5" fill="#c04800" opacity="0.15"/><rect x="25.0" y="143.3" width="16.6" height="1.4" fill="#ffb040" opacity="0.17"/><rect x="67.8" y="116.8" width="13.1" height="1.1" fill="#ffb040" opacity="0.23"/><rect x="69.0" y="210.4" width="26.1" height="1.3" fill="#ffb040" opacity="0.24"/><rect x="215.3" y="183.5" width="27.7" height="0.9" fill="#c04800" opacity="0.22"/><rect x="161.3" y="175.0" width="22.4" height="1.0" fill="#c04800" opacity="0.26"/><rect x="65.9" y="212.1" width="14.2" height="1.2" fill="#c04800" opacity="0.12"/><rect x="69.1" y="188.6" width="20.9" height="1.6" fill="#c04800" opacity="0.17"/><rect x="205.4" y="139.2" width="22.8" height="1.0" fill="#ffb040" opacity="0.20"/><rect x="80.4" y="144.3" width="24.2" height="1.3" fill="#ffb040" opacity="0.25"/><rect x="47.9" y="97.7" width="23.7" height="1.0" fill="#ffb040" opacity="0.15"/><rect x="18.2" y="62.6" width="9.5" height="1.6" fill="#ffb040" opacity="0.19"/><rect x="128.1" y="6.0" width="23.0" height="1.1" fill="#ffb040" opacity="0.11"/><rect x="51.0" y="167.2" width="22.6" height="1.3" fill="#c04800" opacity="0.20"/><rect x="-1.4" y="157.0" width="16.9" height="1.0" fill="#c04800" opacity="0.22"/><rect x="5.7" y="8.3" width="6.3" height="1.3" fill="#c04800" opacity="0.24"/><rect x="98.7" y="97.5" width="29.9" height="1.1" fill="#c04800" opacity="0.16"/><rect x="112.4" y="16.8" width="7.9" height="1.2" fill="#ffb040" opacity="0.20"/><rect x="25.1" y="157.4" width="8.2" height="1.5" fill="#ffb040" opacity="0.18"/><rect x="39.8" y="161.3" width="26.3" height="1.3" fill="#ffb040" opacity="0.20"/><rect x="41.3" y="38.5" width="10.2" height="0.9" fill="#c04800" opacity="0.18"/><rect x="168.2" y="204.4" width="8.8" height="1.5" fill="#ffb040" opacity="0.26"/><rect x="50.3" y="221.7" width="20.0" height="0.9" fill="#c04800" opacity="0.16"/><rect x="136.5" y="146.3" width="17.7" height="0.8" fill="#ffb040" opacity="0.12"/><rect x="-8.9" y="46.8" width="16.3" height="1.5" fill="#c04800" opacity="0.14"/><rect x="118.4" y="62.8" width="23.6" height="0.9" fill="#ffb040" opacity="0.20"/><rect x="38.6" y="177.0" width="25.3" height="1.6" fill="#ffb040" opacity="0.14"/><rect x="33.6" y="87.4" width="8.0" height="1.1" fill="#c04800" opacity="0.25"/><rect x="-17.1" y="183.9" width="17.2" height="0.9" fill="#c04800" opacity="0.22"/><rect x="153.2" y="58.9" width="19.8" height="1.4" fill="#ffb040" opacity="0.13"/><rect x="144.5" y="203.7" width="7.1" height="1.0" fill="#ffb040" opacity="0.21"/><rect x="161.6" y="54.2" width="7.1" height="0.9" fill="#ffb040" opacity="0.22"/><rect x="39.9" y="175.0" width="17.0" height="1.5" fill="#c04800" opacity="0.14"/><rect x="98.8" y="43.9" width="6.8" height="0.9" fill="#c04800" opacity="0.21"/><rect x="157.9" y="106.2" width="13.4" height="0.8" fill="#ffb040" opacity="0.25"/><rect x="-2.4" y="157.4" width="17.3" height="1.2" fill="#ffb040" opacity="0.17"/><rect x="49.5" y="65.9" width="25.5" height="1.4" fill="#c04800" opacity="0.19"/><rect x="108.6" y="214.3" width="26.6" height="1.3" fill="#c04800" opacity="0.21"/><rect x="93.5" y="188.7" width="6.8" height="0.9" fill="#c04800" opacity="0.16"/><rect x="130.5" y="87.6" width="9.3" height="1.4" fill="#c04800" opacity="0.25"/><rect x="95.2" y="79.1" width="25.4" height="1.1" fill="#ffb040" opacity="0.13"/><rect x="4.2" y="176.4" width="17.2" height="1.3" fill="#ffb040" opacity="0.15"/><rect x="2.0" y="151.0" width="28.2" height="1.4" fill="#ffb040" opacity="0.25"/><rect x="205.5" y="90.3" width="27.7" height="1.3" fill="#ffb040" opacity="0.23"/><rect x="84.6" y="212.2" width="10.5" height="1.2" fill="#ffb040" opacity="0.24"/><rect x="45.6" y="7.6" width="29.2" height="1.0" fill="#c04800" opacity="0.16"/><rect x="143.9" y="35.8" width="28.2" height="1.0" fill="#c04800" opacity="0.14"/><rect x="183.7" y="49.0" width="12.8" height="0.9" fill="#ffb040" opacity="0.24"/><rect x="142.3" y="196.6" width="13.2" height="1.4" fill="#c04800" opacity="0.24"/><rect x="136.1" y="52.1" width="20.9" height="1.1" fill="#ffb040" opacity="0.15"/><rect x="206.0" y="60.0" width="7.2" height="0.9" fill="#c04800" opacity="0.23"/><rect x="60.5" y="30.2" width="7.5" height="0.8" fill="#c04800" opacity="0.26"/><rect x="4.2" y="43.1" width="8.3" height="0.8" fill="#c04800" opacity="0.20"/><rect x="217.5" y="140.0" width="21.5" height="0.9" fill="#c04800" opacity="0.21"/><rect x="98.1" y="125.8" width="11.7" height="0.9" fill="#ffb040" opacity="0.25"/><rect x="-5.8" y="162.3" width="28.7" height="1.4" fill="#ffb040" opacity="0.14"/><rect x="-9.0" y="42.9" width="21.5" height="0.9" fill="#c04800" opacity="0.15"/><rect x="73.3" y="120.5" width="18.9" height="0.9" fill="#c04800" opacity="0.12"/><rect x="122.7" y="157.4" width="10.2" height="1.3" fill="#ffb040" opacity="0.17"/><rect x="211.7" y="86.5" width="7.4" height="1.4" fill="#ffb040" opacity="0.13"/><rect x="173.6" y="186.5" width="10.3" height="1.4" fill="#ffb040" opacity="0.12"/><rect x="174.4" y="192.5" width="24.0" height="1.4" fill="#ffb040" opacity="0.15"/><rect x="170.5" y="196.5" width="7.5" height="1.5" fill="#ffb040" opacity="0.13"/><rect x="137.2" y="83.9" width="27.0" height="1.0" fill="#c04800" opacity="0.16"/><rect x="35.1" y="84.2" width="23.7" height="1.2" fill="#c04800" opacity="0.15"/><rect x="110.8" y="22.5" width="19.2" height="1.1" fill="#ffb040" opacity="0.20"/><rect x="5.2" y="136.3" width="7.7" height="1.5" fill="#ffb040" opacity="0.21"/><rect x="194.0" y="163.8" width="12.6" height="1.3" fill="#c04800" opacity="0.19"/><rect x="124.4" y="155.6" width="27.1" height="1.1" fill="#ffb040" opacity="0.18"/><rect x="135.3" y="187.4" width="22.4" height="1.0" fill="#ffb040" opacity="0.26"/><rect x="95.5" y="5.4" width="26.9" height="0.8" fill="#ffb040" opacity="0.12"/><rect x="61.7" y="22.4" width="8.5" height="0.9" fill="#ffb040" opacity="0.14"/><rect x="111.5" y="26.9" width="25.6" height="0.8" fill="#c04800" opacity="0.13"/><rect x="78.1" y="40.9" width="8.1" height="1.6" fill="#ffb040" opacity="0.20"/><rect x="42.6" y="127.2" width="7.4" height="1.3" fill="#c04800" opacity="0.22"/><rect x="48.3" y="168.6" width="28.2" height="1.2" fill="#c04800" opacity="0.18"/><rect x="127.1" y="140.8" width="21.7" height="0.9" fill="#ffb040" opacity="0.22"/><rect x="179.7" y="118.4" width="23.7" height="1.2" fill="#c04800" opacity="0.15"/><rect x="221.0" y="222.9" width="25.6" height="1.4" fill="#c04800" opacity="0.16"/><rect x="122.9" y="94.1" width="13.9" height="1.5" fill="#ffb040" opacity="0.21"/><rect x="190.4" y="199.9" width="18.4" height="1.5" fill="#ffb040" opacity="0.25"/><rect x="147.1" y="208.0" width="28.7" height="1.5" fill="#ffb040" opacity="0.20"/><rect x="44.0" y="159.1" width="16.0" height="1.2" fill="#ffb040" opacity="0.18"/><rect x="26.4" y="1.6" width="25.5" height="1.2" fill="#ffb040" opacity="0.14"/><rect x="50.4" y="177.6" width="25.0" height="1.3" fill="#ffb040" opacity="0.17"/><rect x="218.7" y="144.3" width="20.2" height="1.5" fill="#c04800" opacity="0.16"/><rect x="210.8" y="94.3" width="23.0" height="0.9" fill="#ffb040" opacity="0.22"/><rect x="179.6" y="215.6" width="24.9" height="1.6" fill="#ffb040" opacity="0.24"/><rect x="165.7" y="42.7" width="12.0" height="1.2" fill="#c04800" opacity="0.15"/></g></svg>
<circle cx="209.3" cy="189.3" r="55.2" fill="none" stroke="#002060" stroke-width="8.8"/>
<circle cx="520.7" cy="189.3" r="55.2" fill="none" stroke="#002060" stroke-width="8.8"/>
<circle cx="907.1" cy="170.7" r="55.2" fill="none" stroke="#002060" stroke-width="8.8"/>
<circle cx="1218.7" cy="170.5" r="55.2" fill="none" stroke="#002060" stroke-width="8.8"/>
<rect x="252" y="261" width="56" height="6" fill="#000"/>
<rect x="564" y="264.5" width="56" height="5.5" fill="#000"/>
<rect x="929" y="270.2" width="75" height="5.7" fill="#000"/>
<rect x="1241" y="270.2" width="76" height="5.7" fill="#000"/>
<text x="0" y="0" transform="translate(62.3 86.3) scale(0.92 1)" font-size="38.5" font-weight="bold" fill="#000">a</text>
<text x="0" y="0" transform="translate(376.5 86) scale(1.04 1)" font-size="39.5" font-weight="bold" fill="#000">b</text>
<text x="0" y="0" transform="translate(61.2 325.3) scale(1.03 1)" font-size="38.5" font-weight="bold" fill="#000">c</text>
<text x="0" y="0" transform="translate(755.3 92.2) scale(1.04 1)" font-size="39.5" font-weight="bold" fill="#000">d</text>
<text x="0" y="0" transform="translate(1075.2 92.3) scale(1.03 1)" font-size="39" font-weight="bold" fill="#000">e</text>
<text x="0" y="0" transform="translate(764.1 335.8) scale(1.1 1)" font-size="39.5" font-weight="bold" fill="#000">f</text>
<polyline points="128.3,404.7 132.4,415.2 136.6,426.2 142.1,435.9 147.6,445.5 153.1,453.2 158.6,458.8 164.1,460.7 169.7,463.2 176.6,463.2 182.1,465.7 187.6,471.7 194.5,479.2 200.0,486.3 204.1,493.0 209.7,496.6 215.2,499.3 220.7,502.9 227.6,506.8 233.1,511.7 238.7,516.4 246.0,519.3 253.3,525.7 259.1,529.2 266.4,530.9 273.7,534.4 281.0,539.7 288.3,545.5 295.5,551.9 302.8,555.4 310.1,553.4 315.9,551.3 323.2,555.4 330.5,558.3 339.2,556.3 345.3,558.8 350.6,561.4 355.9,560.9 360.3,560.2 364.7,561.1 369.1,560.5 374.4,559.6 379.7,559.1 385.0,557.0 389.4,554.4 394.7,550.8 400.0,547.8 405.3,544.7 410.6,541.5 414.1,539.4 418.5,534.1 422.9,529.1 428.2,526.1 433.5,522.6 438.8,519.6 444.1,516.8 448.5,513.3 452.9,510.3 460.4,511.0 465.7,507.8 471.1,503.5 476.5,502.0 481.8,501.3 487.2,496.0 491.5,487.4 495.8,479.8 501.2,476.2 506.5,471.3 510.8,462.7 515.1,454.1 519.4,444.4 523.7,435.8 529.1,429.0 534.4,422.9 539.8,420.4 545.2,422.5 549.5,416.5 553.8,405.8 558.0,393.3 562.3,393.3 565.6,398.3 569.9,405.8 572.6,400.4 576.7,392.0 580.9,382.6 582.9,373.3 586.0,371.3 591.2,369.2 596.4,368.1 601.6,366.1 604.7,360.9 607.8,350.5 610.9,342.3 614.0,338.1 617.1,334.0 620.2,330.9" fill="none" stroke="#ff0000" stroke-width="6" stroke-linejoin="round" stroke-linecap="butt"/>
<polyline points="128.3,372.4 133.8,379.3 139.3,386.2 143.4,393.1 147.6,402.8 151.7,413.8 155.9,418.8 160.0,419.3 164.1,417.1 169.1,418.8 173.8,424.0 178.5,426.8 183.4,432.3 188.4,436.7 193.1,438.6 198.6,442.8 204.1,446.3 209.7,448.8 215.2,454.3 220.7,463.4 226.2,473.1 231.7,480.0 235.9,480.8 241.7,473.2 246.9,467.4 251.8,471.8 256.2,487.8 260.6,508.2 265.0,534.4 269.3,550.4 273.7,557.7 278.1,553.4 282.4,543.1 286.8,514.0 289.7,484.9 292.6,438.3 295.5,394.6 300.5,391.1 304.3,423.7 307.2,455.7 310.1,490.7 313.0,516.9 315.9,537.3 321.8,549.0 327.6,550.4 334.9,548.4 340.0,548.2 344.4,546.8 348.8,545.9 353.2,547.3 356.8,550.0 361.2,553.0 365.6,552.6 370.0,551.7 374.4,552.1 377.9,549.1 383.2,542.5 388.5,540.3 392.9,540.3 397.4,537.3 401.8,532.3 406.2,526.1 410.6,520.0 415.9,512.9 421.2,507.6 426.5,505.0 431.8,501.4 437.1,498.5 442.3,496.2 447.6,491.7 452.9,486.5 457.3,484.3 459.3,484.8 465.7,486.3 471.1,482.0 476.5,477.1 481.8,474.5 487.2,472.3 491.5,468.0 495.8,462.0 501.2,456.2 506.5,450.9 511.9,445.5 517.3,443.3 522.6,441.2 528.0,435.4 533.4,427.7 538.7,425.1 544.1,426.2 549.5,423.6 553.8,422.9 559.1,425.1 564.3,426.1 568.5,423.0 572.6,412.7 576.7,404.4 580.9,401.3 585.6,399.2 589.1,392.0 592.3,384.7 594.3,379.5 596.4,371.3 599.5,363.0 601.6,354.7 603.2,346.4 604.7,336.0 607.8,326.2 611.9,319.4 616.0,319.2 620.2,320.6" fill="none" stroke="#000080" stroke-width="6" stroke-linejoin="round" stroke-linecap="butt"/>
<rect x="392.6" y="316.6" width="240.39999999999998" height="60.39999999999998" rx="2" ry="2" fill="#ffffff" fill-opacity="0.8" stroke="#dcdcdc" stroke-width="2"/>
<line x1="397" y1="331.4" x2="442" y2="331.4" stroke="#000080" stroke-width="6.5"/>
<line x1="397" y1="359" x2="442" y2="359" stroke="#ff0000" stroke-width="6.5"/>
<text x="453.8" y="338" font-size="19.3" fill="#000">Before manipulation</text>
<text x="453.8" y="365" font-size="19.3" fill="#000">After manipulation</text>
<rect x="105" y="307" width="538" height="266.5" fill="none" stroke="#000" stroke-width="4"/>
<rect x="127.6" y="564.5" width="4" height="7" fill="#000"/>
<text x="129.6" y="599" font-size="23.7" text-anchor="middle" fill="#000">−1000</text>
<rect x="250.0" y="564.5" width="4" height="7" fill="#000"/>
<text x="252.0" y="599" font-size="23.7" text-anchor="middle" fill="#000">−500</text>
<rect x="372.3" y="564.5" width="4" height="7" fill="#000"/>
<text x="374.3" y="599" font-size="23.7" text-anchor="middle" fill="#000">0</text>
<rect x="494.6" y="564.5" width="4" height="7" fill="#000"/>
<text x="496.6" y="599" font-size="23.7" text-anchor="middle" fill="#000">500</text>
<rect x="617.0" y="564.5" width="4" height="7" fill="#000"/>
<text x="619.0" y="599" font-size="23.7" text-anchor="middle" fill="#000">1000</text>
<rect x="107" y="561.1" width="7" height="4" fill="#000"/>
<text x="96.5" y="571.6" font-size="23.7" text-anchor="end" fill="#000">0.00</text>
<rect x="107" y="496.3" width="7" height="4" fill="#000"/>
<text x="96.5" y="506.8" font-size="23.7" text-anchor="end" fill="#000">0.25</text>
<rect x="107" y="431.5" width="7" height="4" fill="#000"/>
<text x="96.5" y="442.0" font-size="23.7" text-anchor="end" fill="#000">0.50</text>
<rect x="107" y="366.7" width="7" height="4" fill="#000"/>
<text x="96.5" y="377.2" font-size="23.7" text-anchor="end" fill="#000">0.75</text>
<text x="374.0" y="631" font-size="24" text-anchor="middle" fill="#000">Bias (mV)</text>
<text transform="translate(34.6,440.6) rotate(-90)" x="0" y="0" font-size="24" text-anchor="middle" fill="#000">dI/dV (Arb. Units)</text>
<polyline points="815.3,394.4 821.5,398.3 827.6,402.9 833.8,411.5 839.9,415.2 844.5,421.3 849.1,427.5 855.3,432.7 861.4,439.1 866.0,445.9 872.1,445.9 876.7,452.0 881.3,459.7 887.5,465.8 893.6,472.0 898.2,477.2 904.4,476.6 910.5,480.2 916.1,485.2 922.3,488.8 928.4,490.4 934.6,492.8 940.7,495.0 946.8,498.7 953.0,501.1 959.1,505.7 965.2,506.6 971.4,504.8 977.5,504.2 983.7,508.8 989.8,513.4 995.9,519.5 1002.1,525.6 1008.2,533.3 1014.4,541.0 1020.0,545.2 1024.9,550.1 1029.2,556.3 1033.5,557.5 1037.2,559.9 1039.6,556.9 1043.9,561.2 1048.2,563.0 1053.1,561.8 1059.3,563.0 1064.2,561.2 1069.1,558.7 1075.2,563.4 1080.1,561.2 1085.0,556.9 1089.9,559.9 1094.8,557.5 1099.8,558.1 1104.7,560.6 1109.6,558.7 1114.5,559.3 1118.2,553.8 1123.1,552.6 1128.0,550.1 1132.9,548.3 1137.8,544.6 1142.7,544.0 1147.6,544.0 1152.5,541.5 1157.4,537.2 1162.3,534.8 1167.2,531.7 1172.1,529.3 1179.2,526.5 1186.1,518.5 1195.3,513.9 1202.2,507.0 1209.1,497.8 1214.9,490.9 1219.5,485.1 1225.2,474.8 1232.1,466.7 1239.0,461.0 1243.6,454.1 1248.2,448.3 1252.8,436.8 1258.6,426.5 1262.0,418.4 1265.5,406.9 1267.3,398.3 1271.4,390.0 1276.6,379.6 1281.8,371.3 1287.0,361.0 1292.1,349.6 1297.3,339.2 1301.5,328.8 1305.6,319.5 1307.7,317.8" fill="none" stroke="#ff0000" stroke-width="6" stroke-linejoin="round" stroke-linecap="butt"/>
<polyline points="815.3,383.9 820.0,386.1 823.0,392.2 827.0,393.1 829.2,398.3 832.2,410.6 835.3,424.4 838.4,441.3 842.4,452.0 846.0,461.2 849.1,473.5 851.6,488.8 854.6,499.6 858.3,504.2 861.4,513.4 866.0,514.9 869.1,519.5 872.1,528.7 876.7,530.2 880.4,527.2 884.4,530.2 889.0,532.4 893.6,537.3 898.2,538.8 904.4,538.8 909.0,534.8 913.7,541.0 916.8,541.6 919.2,533.3 922.9,527.2 928.4,521.0 933.0,517.1 937.6,507.2 943.1,501.7 948.4,493.4 953.6,488.8 957.6,476.6 962.2,464.3 966.8,445.9 971.4,427.5 975.1,410.6 978.1,392.2 983.7,386.1 990.4,376.9 995.3,383.9 999.6,390.1 1003.6,406.0 1008.2,422.9 1012.8,441.3 1017.4,464.3 1022.0,485.8 1024.3,504.7 1026.7,518.2 1029.8,531.7 1033.5,542.8 1038.4,547.7 1042.1,552.0 1045.2,557.5 1047.6,560.0 1051.9,558.1 1055.6,559.7 1059.3,558.5 1064.2,560.0 1069.1,559.3 1074.0,558.5 1078.9,560.6 1083.8,558.7 1088.7,557.7 1092.4,552.6 1096.1,552.3 1101.0,552.0 1105.9,551.3 1110.8,551.3 1115.7,549.5 1120.6,550.7 1125.5,552.6 1130.4,550.7 1135.3,550.7 1139.0,547.1 1143.9,547.7 1147.6,547.1 1151.9,543.4 1156.2,548.3 1158.7,547.7 1161.7,542.1 1166.0,539.7 1170.3,536.6 1176.9,537.6 1183.8,534.1 1190.7,533.4 1195.3,527.0 1204.5,523.1 1211.4,523.1 1218.3,523.5 1225.2,513.9 1232.1,511.6 1239.0,509.3 1243.6,505.8 1250.5,505.4 1256.3,501.2 1262.0,498.9 1267.8,494.3 1271.2,485.1 1277.0,477.1 1280.4,467.9 1283.9,461.0 1287.3,459.8 1290.8,450.6 1294.2,434.5 1297.7,426.5 1302.3,419.6 1308.0,417.9" fill="none" stroke="#000080" stroke-width="6" stroke-linejoin="round" stroke-linecap="butt"/>
<rect x="1080.1" y="318.5" width="242.10000000000014" height="60.5" rx="2" ry="2" fill="#ffffff" fill-opacity="0.8" stroke="#dcdcdc" stroke-width="2"/>
<line x1="1084.5" y1="332.6" x2="1129.8" y2="332.6" stroke="#000080" stroke-width="6.5"/>
<line x1="1084.5" y1="360.3" x2="1129.8" y2="360.3" stroke="#ff0000" stroke-width="6.5"/>
<text x="1141.3" y="339.2" font-size="19.3" fill="#000">Before manipulation</text>
<text x="1141.3" y="367.2" font-size="19.3" fill="#000">After manipulation</text>
<rect x="793.5" y="308.3" width="536.8" height="266.40000000000003" fill="none" stroke="#000" stroke-width="4"/>
<rect x="856.2" y="565.7" width="4" height="7" fill="#000"/>
<text x="858.2" y="600" font-size="23.7" text-anchor="middle" fill="#000">−1000</text>
<rect x="957.9" y="565.7" width="4" height="7" fill="#000"/>
<text x="959.9" y="600" font-size="23.7" text-anchor="middle" fill="#000">−500</text>
<rect x="1059.6" y="565.7" width="4" height="7" fill="#000"/>
<text x="1061.6" y="600" font-size="23.7" text-anchor="middle" fill="#000">0</text>
<rect x="1161.3" y="565.7" width="4" height="7" fill="#000"/>
<text x="1163.3" y="600" font-size="23.7" text-anchor="middle" fill="#000">500</text>
<rect x="1263.0" y="565.7" width="4" height="7" fill="#000"/>
<text x="1265.0" y="600" font-size="23.7" text-anchor="middle" fill="#000">1000</text>
<rect x="795.5" y="560.7" width="7" height="4" fill="#000"/>
<text x="784.5" y="571.2" font-size="23.7" text-anchor="end" fill="#000">0.0</text>
<rect x="795.5" y="492.0" width="7" height="4" fill="#000"/>
<text x="784.5" y="502.5" font-size="23.7" text-anchor="end" fill="#000">0.2</text>
<rect x="795.5" y="423.4" width="7" height="4" fill="#000"/>
<text x="784.5" y="433.9" font-size="23.7" text-anchor="end" fill="#000">0.4</text>
<rect x="795.5" y="354.7" width="7" height="4" fill="#000"/>
<text x="784.5" y="365.2" font-size="23.7" text-anchor="end" fill="#000">0.6</text>
<text x="1061.9" y="632" font-size="24" text-anchor="middle" fill="#000">Bias (mV)</text>
<text transform="translate(736.2,441) rotate(-90)" x="0" y="0" font-size="24" text-anchor="middle" fill="#000">dI/dV (Arb. Units)</text>
</svg></body></html>
